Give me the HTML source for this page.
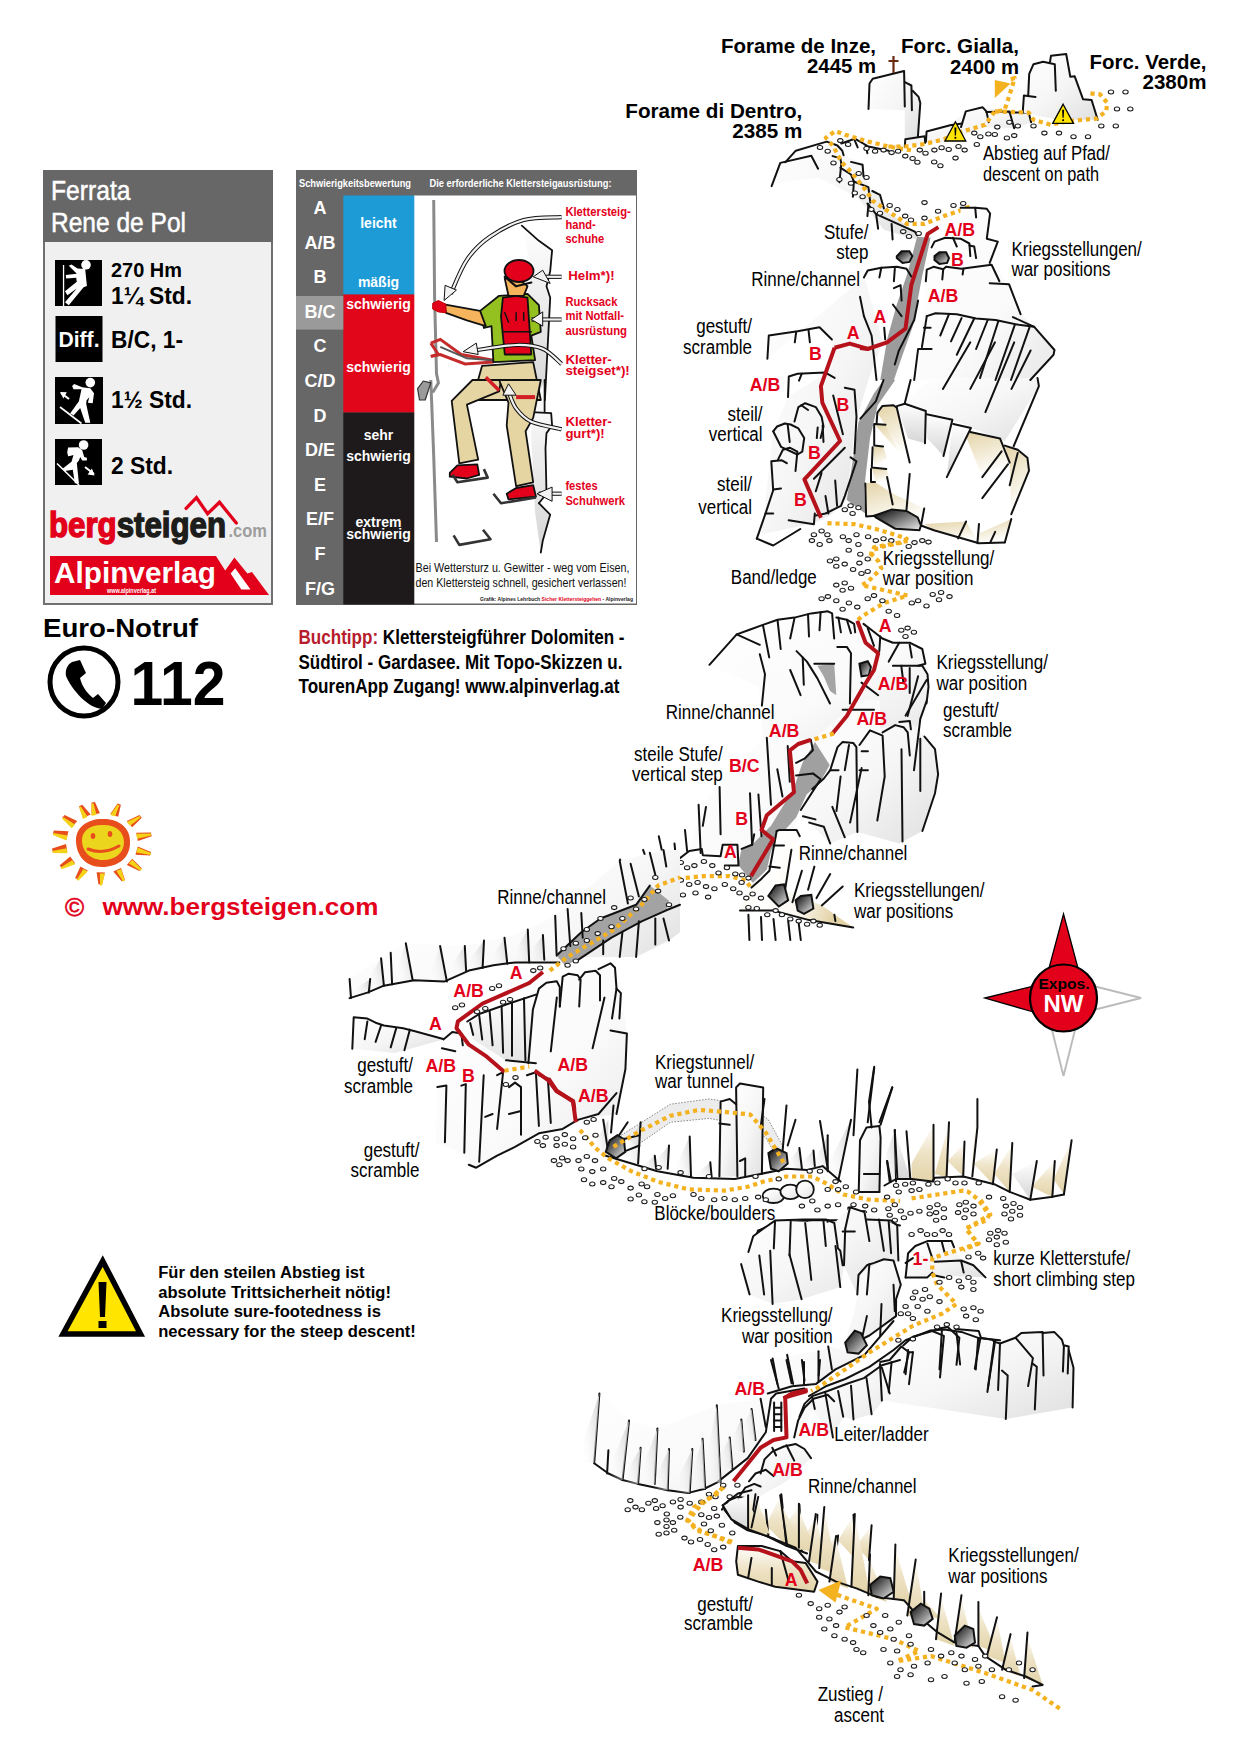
<!DOCTYPE html>
<html><head><meta charset="utf-8"><title>Ferrata Rene de Pol</title>
<style>
html,body{margin:0;padding:0;background:#fff;}
body{width:1240px;height:1750px;overflow:hidden;position:relative;font-family:"Liberation Sans", sans-serif;}
svg{position:absolute;left:0;top:0;}
svg text{font-family:"Liberation Sans", sans-serif;}
</style></head><body>
<svg width="1240" height="1750" viewBox="0 0 1240 1750">
<defs>
<linearGradient id="rg" x1="0" y1="0" x2="1" y2="1"><stop offset="0" stop-color="#fff"/><stop offset="0.5" stop-color="#f6f6f6"/><stop offset="1" stop-color="#e0e0e0"/></linearGradient>
<linearGradient id="bg" x1="0" y1="0" x2="1" y2="1"><stop offset="0" stop-color="#fff"/><stop offset="1" stop-color="#e6d9b5"/></linearGradient>
<linearGradient id="rl" x1="0" y1="0" x2="1" y2="1"><stop offset="0" stop-color="#fff"/><stop offset="0.6" stop-color="#fafafa"/><stop offset="1" stop-color="#e8e8e8"/></linearGradient>
<linearGradient id="wg" x1="1" y1="0" x2="0" y2="0.4"><stop offset="0" stop-color="#d2d2d2"/><stop offset="1" stop-color="#fff" stop-opacity="0"/></linearGradient>
<linearGradient id="bt2" x1="0" y1="0" x2="0.3" y2="1"><stop offset="0" stop-color="#e3d3a6"/><stop offset="1" stop-color="#fff"/></linearGradient>
<linearGradient id="bb" x1="0" y1="0" x2="1" y2="0.3"><stop offset="0" stop-color="#e6d8ae"/><stop offset="0.12" stop-color="#f7f1e2"/><stop offset="0.35" stop-color="#fff"/><stop offset="0.7" stop-color="#fbf8f0"/><stop offset="1" stop-color="#e3d3a6"/></linearGradient>
<linearGradient id="bt" x1="0" y1="0" x2="0" y2="1"><stop offset="0" stop-color="#fff"/><stop offset="0.5" stop-color="#eee3c6"/><stop offset="1" stop-color="#e2d3a8"/></linearGradient>
<linearGradient id="gt" x1="0" y1="0" x2="0" y2="1"><stop offset="0" stop-color="#fff"/><stop offset="1" stop-color="#d5d5d5"/></linearGradient>
<linearGradient id="dk" x1="0" y1="0" x2="1" y2="1"><stop offset="0" stop-color="#000"/><stop offset="1" stop-color="#eee"/></linearGradient>
</defs>
<rect x="44" y="171" width="228" height="433" fill="#f0f0f0" stroke="#707070" stroke-width="2"/>
<rect x="43" y="170" width="230" height="72" fill="#676767"/>
<text x="51.0" y="200.0" font-size="28.5" font-weight="normal" fill="#fff" text-anchor="start" textLength="79.5" lengthAdjust="spacingAndGlyphs" stroke="#fff" stroke-width="0.5">Ferrata</text>
<text x="51.0" y="232.0" font-size="28.5" font-weight="normal" fill="#fff" text-anchor="start" textLength="135.0" lengthAdjust="spacingAndGlyphs" stroke="#fff" stroke-width="0.5">Rene de Pol</text>
<rect x="55" y="260" width="47" height="46" fill="#000"/>
<rect x="55" y="439" width="47" height="46" fill="#000"/>
<rect x="55.5" y="316" width="47" height="46" fill="#000"/>
<rect x="55" y="377" width="48" height="47" fill="#000"/>
<g fill="#fff">
<rect x="62.9" y="265" width="1.3" height="41"/>
<circle cx="86" cy="264.8" r="4.8"/>
<path d="M68.8 265.7 L71.5 264.4 L77.5 268.4 L85.2 269.1 L86.9 285.9 L83.6 287.2 L68.8 305.3 L65.0 302.2 L76.8 288.6 L67.4 295.3 L65.0 291.2 L76.8 281.8 L76.2 277.8 L66.1 278.5 L65.8 275.1 L76.8 273.8Z"/>
<text x="79.0" y="347.0" font-size="22" font-weight="bold" fill="#fff" text-anchor="middle" textLength="41.0" lengthAdjust="spacingAndGlyphs" >Diff.</text>
<circle cx="90.3" cy="382.6" r="4.8"/>
<path d="M72.1 385.9 L74.2 384.1 L82.2 387.2 L90.3 388.2 L94.0 393.3 L92.7 403.3 L87.9 402.7 L89.2 397.3 L86.5 400.6 L86.2 404.0 L90.3 422.8 L85.2 422.8 L80.2 408.0 L73.5 415.4 L72.6 414.7 L70.1 413.4 L78.9 401.3 L81.5 389.2 L73.5 389.2Z"/>
<path d="M60.1 391.9 L66.8 392.2 L63.4 398.4Z"/>
<path d="M61 393 L69 399" stroke="#fff" stroke-width="2"/>
<path d="M60 407 L81.5 423.5" stroke="#fff" stroke-width="1.6"/>
<circle cx="83.6" cy="445" r="4.8"/>
<path d="M68.1 447.6 L78.2 447.2 L82.2 450.3 L84.2 457.0 L86.9 457.7 L86.9 460.4 L82.2 460.4 L80.2 457.0 L78.9 460.4 L76.8 463.1 L78.9 483.2 L74.8 483.2 L72.8 469.8 L64.8 471.1 L62.8 468.4 L71.5 461.7 L73.5 455.0 L70.8 455.7 L68.1 456.3 L67.2 452.3Z"/>
<path d="M87.6 474.5 L94.6 475.4 L91.9 468.4Z"/>
<path d="M85 467 L94 474" stroke="#fff" stroke-width="2"/>
<path d="M57 463.5 L79 485" stroke="#fff" stroke-width="1.6"/>
</g>
<text x="111.0" y="276.5" font-size="19.5" font-weight="bold" fill="#000" text-anchor="start" textLength="71.0" lengthAdjust="spacingAndGlyphs" >270 Hm</text>
<text x="111.0" y="304.0" font-size="23" font-weight="bold" fill="#000" text-anchor="start" textLength="81.0" lengthAdjust="spacingAndGlyphs" >1¼ Std.</text>
<text x="111.0" y="348.0" font-size="23" font-weight="bold" fill="#000" text-anchor="start" textLength="72.0" lengthAdjust="spacingAndGlyphs" >B/C, 1-</text>
<text x="111.0" y="408.0" font-size="23" font-weight="bold" fill="#000" text-anchor="start" textLength="81.0" lengthAdjust="spacingAndGlyphs" >1½ Std.</text>
<text x="111.0" y="474.0" font-size="23" font-weight="bold" fill="#000" text-anchor="start" textLength="62.0" lengthAdjust="spacingAndGlyphs" >2 Std.</text>
<path d="M186.1 508.4 L196.5 497.7 L207.6 513.8 L219.5 502.3 L236.3 523" fill="none" stroke="#e2001a" stroke-width="3.3" stroke-linecap="round"/>
<text x="49" y="537" font-size="35" font-weight="bold" stroke-width="1.4" textLength="177" lengthAdjust="spacingAndGlyphs"><tspan fill="#e2001a" stroke="#e2001a">berg</tspan><tspan fill="#1d1d1b" stroke="#1d1d1b">steigen</tspan></text>
<text x="228.5" y="537.0" font-size="19" font-weight="bold" fill="#9d9d9c" text-anchor="start" textLength="38.5" lengthAdjust="spacingAndGlyphs" >.com</text>
<path d="M50 556 L216 556 L225.2 570.5 L234.4 557.4 L247.4 573.5 L252 572 L269 595 L50 595Z" fill="#e2001a"/>
<path d="M230.6 573.5 L235.2 568.2 L250.5 589.6 L241.3 589.6Z" fill="#fff"/>
<text x="54.0" y="583.0" font-size="30" font-weight="bold" fill="#fff" text-anchor="start" textLength="162.0" lengthAdjust="spacingAndGlyphs" >Alpinverlag</text>
<text x="107.0" y="593.0" font-size="7" font-weight="bold" fill="#fff" text-anchor="start" textLength="49.0" lengthAdjust="spacingAndGlyphs" >www.alpinverlag.at</text>
<text x="43.0" y="636.5" font-size="26" font-weight="bold" fill="#000" text-anchor="start" textLength="155.0" lengthAdjust="spacingAndGlyphs" >Euro-Notruf</text>
<circle cx="84" cy="682" r="34" fill="none" stroke="#000" stroke-width="5"/>
<path d="M72 662 L80 660 L86 673 L80 678 C82 686 86 692 93 698 L98 694 L106 703 L102 709 C88 708 72 690 66 676 C65 670 67 665 72 662Z" fill="#000"/>
<text x="130.5" y="705.0" font-size="63" font-weight="bold" fill="#000" text-anchor="start" textLength="95.0" lengthAdjust="spacingAndGlyphs" >112</text>
<rect x="296" y="170" width="341" height="435" fill="#676767"/>
<rect x="414" y="195.5" width="222" height="408" fill="#fff"/>
<rect x="343.3" y="195.5" width="71" height="99" fill="#1d9bd7"/>
<rect x="343.3" y="294.5" width="71" height="118" fill="#e1061a"/>
<rect x="343.3" y="412.5" width="71" height="192" fill="#1e1a1c"/>
<rect x="296" y="296" width="47.3" height="33.6" fill="#9a9a9a"/>
<text x="299.0" y="187.3" font-size="11.5" font-weight="bold" fill="#fff" text-anchor="start" textLength="112.0" lengthAdjust="spacingAndGlyphs" >Schwierigkeitsbewertung</text>
<text x="429.5" y="186.8" font-size="11.5" font-weight="bold" fill="#fff" text-anchor="start" textLength="182.0" lengthAdjust="spacingAndGlyphs" >Die erforderliche Klettersteigausrüstung:</text>
<text x="320.0" y="214.0" font-size="18" font-weight="bold" fill="#fff" text-anchor="middle" >A</text>
<text x="320.0" y="248.6" font-size="18" font-weight="bold" fill="#fff" text-anchor="middle" >A/B</text>
<text x="320.0" y="283.2" font-size="18" font-weight="bold" fill="#fff" text-anchor="middle" >B</text>
<text x="320.0" y="317.8" font-size="18" font-weight="bold" fill="#fff" text-anchor="middle" >B/C</text>
<text x="320.0" y="352.4" font-size="18" font-weight="bold" fill="#fff" text-anchor="middle" >C</text>
<text x="320.0" y="387.0" font-size="18" font-weight="bold" fill="#fff" text-anchor="middle" >C/D</text>
<text x="320.0" y="421.6" font-size="18" font-weight="bold" fill="#fff" text-anchor="middle" >D</text>
<text x="320.0" y="456.2" font-size="18" font-weight="bold" fill="#fff" text-anchor="middle" >D/E</text>
<text x="320.0" y="490.8" font-size="18" font-weight="bold" fill="#fff" text-anchor="middle" >E</text>
<text x="320.0" y="525.4" font-size="18" font-weight="bold" fill="#fff" text-anchor="middle" >E/F</text>
<text x="320.0" y="560.0" font-size="18" font-weight="bold" fill="#fff" text-anchor="middle" >F</text>
<text x="320.0" y="594.6" font-size="18" font-weight="bold" fill="#fff" text-anchor="middle" >F/G</text>
<text x="378.5" y="227.7" font-size="14" font-weight="bold" fill="#fff" text-anchor="middle" >leicht</text>
<text x="378.5" y="287.2" font-size="14" font-weight="bold" fill="#fff" text-anchor="middle" >mäßig</text>
<text x="378.5" y="308.6" font-size="14" font-weight="bold" fill="#fff" text-anchor="middle" >schwierig</text>
<text x="378.5" y="371.5" font-size="14" font-weight="bold" fill="#fff" text-anchor="middle" >schwierig</text>
<text x="378.5" y="440.0" font-size="14" font-weight="bold" fill="#fff" text-anchor="middle" >sehr</text>
<text x="378.5" y="460.5" font-size="14" font-weight="bold" fill="#fff" text-anchor="middle" >schwierig</text>
<text x="378.5" y="526.9" font-size="14" font-weight="bold" fill="#fff" text-anchor="middle" >extrem</text>
<text x="378.5" y="538.7" font-size="14" font-weight="bold" fill="#fff" text-anchor="middle" >schwierig</text>
<path d="M521.8 225.6 L538.9 240.8 L552.1 250.3 L550.2 271.1 L546.5 286.3 L550.2 297.7 L544.9 400.0 L531.3 400.0 L527.5 297.7 L531.3 271.1Z" fill="url(#gt)" stroke="none" stroke-width="0" stroke-linejoin="round"/>
<path d="M521.8 225.6 L538.9 240.8 L552.1 250.3 L550.2 271.1 L546.5 286.3 L550.2 297.7 L544.9 400.0" fill="none" stroke="#111" stroke-width="1.8" stroke-linejoin="round" stroke-linecap="round"/>
<path d="M544.6 380.0 L544.6 411.3 L551.2 413.2 L552.1 425.5 L546.5 433.1 L545.5 448.2 L546.5 493.7 L538.9 503.2 L550.2 514.6 L542.7 541.1 L540.8 552.5 L535.1 512.7 L531.3 436.9 L531.3 412.2Z" fill="url(#gt)" stroke="none" stroke-width="0" stroke-linejoin="round"/>
<path d="M544.6 380.0 L544.6 411.3" fill="none" stroke="#111" stroke-width="1.8" stroke-linejoin="round" stroke-linecap="round"/>
<path d="M531.3 412.2 L551.2 413.2 L552.1 425.5 L546.5 433.1 L545.5 448.2 L546.5 493.7 L538.9 503.2" fill="none" stroke="#111" stroke-width="1.8" stroke-linejoin="round" stroke-linecap="round"/>
<path d="M538.9 503.2 L550.2 514.6 L542.7 541.1 L540.8 552.5" fill="none" stroke="#111" stroke-width="1.8" stroke-linejoin="round" stroke-linecap="round"/>
<path d="M433.7 200.1 L434.6 297.7 L436.5 373.5 L438.4 382.9 L432.7 392.4" fill="none" stroke="#8a8a8a" stroke-width="3"/>
<path d="M430.8 380.0 L433.7 455.8 L436.5 542.0" fill="none" stroke="#8a8a8a" stroke-width="3"/>
<path d="M417.6 388.6 L423.3 381.0 L430.8 382.9 L425.2 400.0 L419.5 400.0Z" fill="#9a9a9a" stroke="#333" stroke-width="1.2" stroke-linejoin="round"/>
<path d="M430.8 343.1 L440.3 339.4 L461.2 354.5 L493.4 360.2" fill="none" stroke="#c52b2b" stroke-width="3"/>
<path d="M430.8 356.4 L440.3 354.5 L465.0 364.0 L493.4 362.1" fill="none" stroke="#c52b2b" stroke-width="3"/>
<path d="M430.8 343.1 L438.4 354.5 L430.8 356.4" fill="none" stroke="#c52b2b" stroke-width="3"/>
<path d="M440.3 346.9 L466.9 358.3 L493.4 360.2" fill="none" stroke="#555" stroke-width="2"/>
<path d="M482.0 365.9 L533.2 362.1 L540.8 400.0 L491.5 400.0 L472.5 400.0Z" fill="#e4d5a3" stroke="#111" stroke-width="1.8" stroke-linejoin="round"/>
<path d="M451.7 400.8 L472.5 380.0 L501.0 380.0 L499.1 391.4 L466.9 404.6 L478.2 459.6 L459.3 463.4Z" fill="#e4d5a3" stroke="#111" stroke-width="1.8" stroke-linejoin="round"/>
<path d="M499.1 380.0 L540.8 380.0 L533.2 417.9 L525.6 431.2 L533.2 482.3 L516.1 486.1 L506.7 425.5 L508.5 402.7Z" fill="#e4d5a3" stroke="#111" stroke-width="1.8" stroke-linejoin="round"/>
<path d="M516.1 397.1 L535.1 397.1" stroke="#d21e26" stroke-width="4"/>
<path d="M485.8 377.3 L499.1 390.5" stroke="#d21e26" stroke-width="3.5"/>
<path d="M480.1 310.9 L499.1 295.8 L527.5 293.9 L538.9 305.2 L540.8 331.8 L531.3 335.6 L535.1 360.2 L493.4 362.1 L491.5 326.1 L483.9 328.0Z" fill="#94c11f" stroke="#111" stroke-width="1.8" stroke-linejoin="round"/>
<path d="M444.1 304.3 L480.1 310.9 L485.8 326.1 L466.9 320.4 L446.0 312.8Z" fill="#f6b55c" stroke="#111" stroke-width="1.8" stroke-linejoin="round"/>
<path d="M432.7 303.3 L438.4 300.5 L446.0 304.3 L446.0 312.8 L438.4 311.9 L432.7 309.0Z" fill="#e3001b" stroke="#b00" stroke-width="1" stroke-linejoin="round"/>
<path d="M502.9 297.7 L516.1 295.8 L527.5 297.7 L531.3 354.5 L504.8 354.5 L501.0 316.6Z" fill="#e3001b" stroke="#111" stroke-width="1.8" stroke-linejoin="round"/>
<path d="M502.9 331.8 L531.3 331.8" fill="none" stroke="#111" stroke-width="1.5" stroke-linejoin="round" stroke-linecap="round"/>
<path d="M504.8 312.8 L508.5 322.3" fill="none" stroke="#111" stroke-width="1.5" stroke-linejoin="round" stroke-linecap="round"/>
<path d="M516.1 312.8 L516.1 320.4" fill="none" stroke="#111" stroke-width="1.5" stroke-linejoin="round" stroke-linecap="round"/>
<path d="M523.7 312.8 L523.7 320.4" fill="none" stroke="#111" stroke-width="1.5" stroke-linejoin="round" stroke-linecap="round"/>
<path d="M504.8 278.7 L516.1 276.8 L527.5 286.3 L523.7 295.8 L508.5 295.8Z" fill="#f6b55c" stroke="#111" stroke-width="1.8" stroke-linejoin="round"/>
<ellipse cx="519.0" cy="271.0" rx="14.5" ry="11" fill="#e3001b" stroke="#111" stroke-width="1.8"/>
<path d="M504.8 276.8 L516.1 286.3 L531.3 282.5" fill="none" stroke="#111" stroke-width="2.2" stroke-linejoin="round" stroke-linecap="round"/>
<path d="M449.8 472.9 L457.4 465.3 L477.3 464.3 L479.2 474.8 L466.9 478.5 L449.8 476.7Z" fill="#e3001b" stroke="#111" stroke-width="1.8" stroke-linejoin="round"/>
<path d="M506.7 493.7 L516.1 488.0 L533.2 485.2 L536.0 496.6 L508.5 499.4Z" fill="#e3001b" stroke="#111" stroke-width="1.8" stroke-linejoin="round"/>
<path d="M452.6 474.8 L457.4 482.3 L487.7 477.6 L483.9 469.1" fill="none" stroke="#333" stroke-width="2.6" stroke-linejoin="round"/>
<path d="M493.4 493.7 L501.0 503.2 L536.0 497.5" fill="none" stroke="#333" stroke-width="2.6" stroke-linejoin="round"/>
<path d="M453.6 535.4 L459.3 544.9 L490.5 539.2 L483.0 529.7" fill="none" stroke="#333" stroke-width="2.6" stroke-linejoin="round"/>
<path d="M561.6 217.1 C555.3 217.6 535.7 216.6 523.7 220.0 C511.7 223.3 499.1 230.4 489.6 237.0 C480.1 243.6 473.3 250.3 466.9 259.8 C460.4 269.2 453.4 288.2 450.7 293.9" fill="none" stroke="#111" stroke-width="4.2" stroke-linecap="butt"/>
<path d="M561.6 217.1 C555.3 217.6 535.7 216.6 523.7 220.0 C511.7 223.3 499.1 230.4 489.6 237.0 C480.1 243.6 473.3 250.3 466.9 259.8 C460.4 269.2 453.4 288.2 450.7 293.9" fill="none" stroke="#f2f2f2" stroke-width="2.2" stroke-linecap="butt"/>
<path d="M445.1 285.3 L456.4 290.1 L444.1 300.5Z" fill="#f2f2f2" stroke="#111" stroke-width="1"/>
<path d="M561.6 276.8 L538.9 276.8" fill="none" stroke="#111" stroke-width="4.2" stroke-linecap="butt"/>
<path d="M561.6 276.8 L538.9 276.8" fill="none" stroke="#f2f2f2" stroke-width="2.2" stroke-linecap="butt"/>
<path d="M542.7 270.2 L533.2 276.8 L550.2 283.4Z" fill="#f2f2f2" stroke="#111" stroke-width="1"/>
<path d="M561.6 319.5 L531.3 319.5" fill="none" stroke="#111" stroke-width="4.2" stroke-linecap="butt"/>
<path d="M561.6 319.5 L531.3 319.5" fill="none" stroke="#f2f2f2" stroke-width="2.2" stroke-linecap="butt"/>
<path d="M542.7 311.9 L531.3 319.5 L542.7 326.1Z" fill="#f2f2f2" stroke="#111" stroke-width="1"/>
<path d="M561.6 364.0 C558.5 361.5 550.2 352.0 542.7 348.8 C535.1 345.7 527.8 344.7 516.1 345.0 C504.4 345.4 479.8 349.8 472.5 350.7" fill="none" stroke="#111" stroke-width="4.2" stroke-linecap="butt"/>
<path d="M561.6 364.0 C558.5 361.5 550.2 352.0 542.7 348.8 C535.1 345.7 527.8 344.7 516.1 345.0 C504.4 345.4 479.8 349.8 472.5 350.7" fill="none" stroke="#f2f2f2" stroke-width="2.2" stroke-linecap="butt"/>
<path d="M476.3 343.1 L463.1 351.7 L478.2 354.5Z" fill="#f2f2f2" stroke="#111" stroke-width="1"/>
<path d="M561.6 429.3 C556.6 428.0 538.9 425.2 531.3 421.7 C523.7 418.2 519.9 413.5 516.1 408.4 C512.3 403.4 509.8 394.2 508.5 391.4" fill="none" stroke="#111" stroke-width="4.2" stroke-linecap="butt"/>
<path d="M561.6 429.3 C556.6 428.0 538.9 425.2 531.3 421.7 C523.7 418.2 519.9 413.5 516.1 408.4 C512.3 403.4 509.8 394.2 508.5 391.4" fill="none" stroke="#f2f2f2" stroke-width="2.2" stroke-linecap="butt"/>
<path d="M502.9 395.2 L508.5 383.8 L516.1 395.2Z" fill="#f2f2f2" stroke="#111" stroke-width="1"/>
<path d="M561.6 493.7 L538.9 493.7" fill="none" stroke="#111" stroke-width="4.2" stroke-linecap="butt"/>
<path d="M561.6 493.7 L538.9 493.7" fill="none" stroke="#f2f2f2" stroke-width="2.2" stroke-linecap="butt"/>
<path d="M552.1 487.1 L537.0 493.7 L552.1 501.3Z" fill="#f2f2f2" stroke="#111" stroke-width="1"/>
<text x="565.4" y="216.2" font-size="12.8" font-weight="bold" fill="#e3001b" textLength="65.4" lengthAdjust="spacingAndGlyphs">Klettersteig-</text>
<text x="565.4" y="229.4" font-size="12.8" font-weight="bold" fill="#e3001b" textLength="30.3" lengthAdjust="spacingAndGlyphs">hand-</text>
<text x="565.4" y="242.7" font-size="12.8" font-weight="bold" fill="#e3001b" textLength="38.8" lengthAdjust="spacingAndGlyphs">schuhe</text>
<text x="565.4" y="306.2" font-size="12.8" font-weight="bold" fill="#e3001b" textLength="52.1" lengthAdjust="spacingAndGlyphs">Rucksack</text>
<text x="565.4" y="320.4" font-size="12.8" font-weight="bold" fill="#e3001b" textLength="58.7" lengthAdjust="spacingAndGlyphs">mit Notfall-</text>
<text x="565.4" y="334.6" font-size="12.8" font-weight="bold" fill="#e3001b" textLength="61.6" lengthAdjust="spacingAndGlyphs">ausrüstung</text>
<text x="565.4" y="364.0" font-size="12.8" font-weight="bold" fill="#e3001b" textLength="46.4" lengthAdjust="spacingAndGlyphs">Kletter-</text>
<text x="565.4" y="375.4" font-size="12.8" font-weight="bold" fill="#e3001b" textLength="64.4" lengthAdjust="spacingAndGlyphs">steigset*)!</text>
<text x="565.4" y="425.5" font-size="12.8" font-weight="bold" fill="#e3001b" textLength="46.4" lengthAdjust="spacingAndGlyphs">Kletter-</text>
<text x="565.4" y="437.8" font-size="12.8" font-weight="bold" fill="#e3001b" textLength="39.2" lengthAdjust="spacingAndGlyphs">gurt*)!</text>
<text x="565.4" y="490.3" font-size="12.8" font-weight="bold" fill="#e3001b" textLength="32.2" lengthAdjust="spacingAndGlyphs">festes</text>
<text x="565.4" y="505.1" font-size="12.8" font-weight="bold" fill="#e3001b" textLength="59.7" lengthAdjust="spacingAndGlyphs">Schuhwerk</text>
<text x="568.2" y="279.7" font-size="12.8" font-weight="bold" fill="#e3001b" textLength="46.4" lengthAdjust="spacingAndGlyphs">Helm*)!</text>
<text x="415.5" y="572.3" font-size="13" font-weight="normal" fill="#111" text-anchor="start" textLength="214.0" lengthAdjust="spacingAndGlyphs" >Bei Wettersturz u. Gewitter - weg vom Eisen,</text>
<text x="415.5" y="586.6" font-size="13" font-weight="normal" fill="#111" text-anchor="start" textLength="211.0" lengthAdjust="spacingAndGlyphs" >den Klettersteig schnell, gesichert verlassen!</text>
<text x="480" y="601" font-size="5.5" font-weight="bold" fill="#222" textLength="153" lengthAdjust="spacingAndGlyphs">Grafik: Alpines Lehrbuch <tspan fill="#e2001a">Sicher Klettersteiggehen</tspan> - Alpinverlag</text>
<path d="M868.5 109.0 L869.5 83.5 L904.1 71.0 L911.9 84.8 L919.8 100.5 L917.9 136.8 L904.8 139.2 L904.8 110.2Z" fill="url(#rg)"/>
<path d="M868.5 109.0 L869.5 83.5 L872.7 78.7 L904.1 71.0 L904.8 106.5" fill="none" stroke="#111" stroke-width="2.0" stroke-linejoin="round" stroke-linecap="round"/>
<path d="M905.3 82.3 L911.4 85.5 L911.9 110.2" fill="none" stroke="#111" stroke-width="2.0" stroke-linejoin="round" stroke-linecap="round"/>
<path d="M912.6 90.8 L918.6 96.9 L920.3 102.9 L917.9 136.8" fill="none" stroke="#111" stroke-width="2.0" stroke-linejoin="round" stroke-linecap="round"/>
<path d="M893.5 56 V73 M888.5 61 H898.5" stroke="#6b2a12" stroke-width="2.2" fill="none"/>
<path d="M904.8 146.5 L905.3 139.2 L924.7 136.3 L947.7 125.9 L965.8 111.4 L982.7 107.3 L1009.4 111.4 L1028.7 112.6 L1031.1 122.3 L1014.2 128.3 L985.2 127.1 L948.9 141.6 L924.7 144.0Z" fill="url(#rg)"/>
<path d="M904.8 146.5 L905.3 139.2 L924.7 136.3 L925.2 142.8" fill="none" stroke="#111" stroke-width="2.0" stroke-linejoin="round" stroke-linecap="round"/>
<path d="M925.9 141.6 L926.6 131.5 L950.1 125.2 L962.2 123.5" fill="none" stroke="#111" stroke-width="2.0" stroke-linejoin="round" stroke-linecap="round"/>
<path d="M961.0 127.1 L965.8 111.4 L982.7 107.3 L986.4 111.4 L988.8 122.3" fill="none" stroke="#111" stroke-width="2.0" stroke-linejoin="round" stroke-linecap="round"/>
<path d="M986.4 112.1 L1009.4 111.4 L1014.2 128.3" fill="none" stroke="#111" stroke-width="2.0" stroke-linejoin="round" stroke-linecap="round"/>
<path d="M1009.4 112.6 L1028.7 112.6 L1031.1 122.3" fill="none" stroke="#111" stroke-width="2.0" stroke-linejoin="round" stroke-linecap="round"/>
<path d="M1022.7 112.6 L1023.9 95.6 L1028.7 73.9 L1033.5 64.2 L1050.0 61.8 L1051.0 55.7 L1066.2 54.0 L1071.0 77.5 L1074.7 76.3 L1083.1 99.3 L1091.6 100.5 L1097.7 119.8 L1057.7 119.8Z" fill="url(#rg)"/>
<path d="M1022.7 112.6 L1023.9 95.6 L1035.5 96.9" fill="none" stroke="#111" stroke-width="2.0" stroke-linejoin="round" stroke-linecap="round"/>
<path d="M1028.2 95.6 L1029.2 73.9 L1033.5 64.2 L1043.2 61.8 L1054.8 64.2 L1055.8 90.8" fill="none" stroke="#111" stroke-width="2.0" stroke-linejoin="round" stroke-linecap="round"/>
<path d="M1050.0 61.8 L1051.0 55.7 L1066.2 54.0 L1070.3 76.8 L1074.7 76.3 L1083.1 99.3 L1091.6 100.0 L1097.7 119.8" fill="none" stroke="#111" stroke-width="2.0" stroke-linejoin="round" stroke-linecap="round"/>
<path d="M771.6 186.1 L780.3 162.9 L795.8 150.7 L826.8 141.6 L841.3 146.5 L845.2 156.1 L862.6 163.9 L868.4 187.1 L880.0 194.8 L885.8 210.3 L914.8 231.6 L916.8 239.4 L883.9 229.7 L856.8 196.8 L818.1 177.4 L789.0 181.3Z" fill="url(#rg)"/>
<path d="M771.6 186.1 L780.3 162.9 L811.3 155.7 L818.1 168.7" fill="none" stroke="#111" stroke-width="2.0" stroke-linejoin="round" stroke-linecap="round"/>
<path d="M785.2 162.3 L795.8 150.7 L818.1 144.1 L826.8 141.6 L837.4 145.5 L842.3 150.7 L843.6 155.2" fill="none" stroke="#111" stroke-width="2.0" stroke-linejoin="round" stroke-linecap="round"/>
<path d="M832.6 156.1 L840.3 158.1 L841.3 163.9 L839.4 182.3" fill="none" stroke="#111" stroke-width="2.0" stroke-linejoin="round" stroke-linecap="round"/>
<path d="M840.3 167.7 L851.0 174.5 L853.9 181.3 L852.9 196.8" fill="none" stroke="#111" stroke-width="2.0" stroke-linejoin="round" stroke-linecap="round"/>
<path d="M841.3 143.5 L854.8 138.7 L868.4 146.5 L888.7 150.7" fill="none" stroke="#111" stroke-width="2.0" stroke-linejoin="round" stroke-linecap="round"/>
<path d="M854.8 140.6 L857.7 147.4" fill="none" stroke="#111" stroke-width="2.0" stroke-linejoin="round" stroke-linecap="round"/>
<path d="M865.5 144.9 L867.4 153.2" fill="none" stroke="#111" stroke-width="2.0" stroke-linejoin="round" stroke-linecap="round"/>
<path d="M851.0 161.9 L862.6 164.8 L863.5 176.5" fill="none" stroke="#111" stroke-width="2.0" stroke-linejoin="round" stroke-linecap="round"/>
<path d="M852.9 181.3 L868.4 187.1 L870.3 202.6" fill="none" stroke="#111" stroke-width="2.0" stroke-linejoin="round" stroke-linecap="round"/>
<path d="M867.4 203.5 L876.1 214.2 L914.8 231.6 L917.2 235.5" fill="none" stroke="#111" stroke-width="2.0" stroke-linejoin="round" stroke-linecap="round"/>
<path d="M872.3 191.0 L880.0 194.8 L883.9 208.4" fill="none" stroke="#111" stroke-width="2.0" stroke-linejoin="round" stroke-linecap="round"/>
<path d="M868.4 204.5 L867.4 216.1" fill="none" stroke="#111" stroke-width="2.0" stroke-linejoin="round" stroke-linecap="round"/>
<path d="M876.1 214.2 L878.1 228.7" fill="none" stroke="#111" stroke-width="2.0" stroke-linejoin="round" stroke-linecap="round"/>
<path d="M891.6 223.9 L892.6 239.4" fill="none" stroke="#111" stroke-width="2.0" stroke-linejoin="round" stroke-linecap="round"/>
<path d="M1010.8 79.2 L1014.7 78.0 L1009.4 95.6 L1004.5 110.2 L994.8 111.4 L985.2 124.7 L961.0 131.9 L944.0 139.2 L924.7 144.0 L905.3 146.5 L888.4 146.5" fill="none" stroke="#f4b120" stroke-width="4.2" stroke-dasharray="4.2 3.8" stroke-linejoin="round"/>
<path d="M911.0 150.3 L889.7 146.8 L868.4 141.6 L845.2 134.8 L835.5 131.0 L825.8 137.7 L833.5 146.5 L841.3 161.9 L849.0 169.7 L866.5 191.0 L872.3 200.6 L883.9 208.4 L907.1 223.9 L924.5 223.9 L943.9 216.1 L955.5 212.3 L972.9 205.5" fill="none" stroke="#f4b120" stroke-width="4.2" stroke-dasharray="4.2 3.8" stroke-linejoin="round"/>
<path d="M994.8 111.4 L1028.7 112.6 L1033.5 119.8 L1050.5 124.7 L1069.8 121.0 L1096.5 118.6 L1106.1 111.4 L1107.3 102.9 L1100.1 94.4 L1089.2 93.2" fill="none" stroke="#f4b120" stroke-width="4.2" stroke-dasharray="4.2 3.8" stroke-linejoin="round"/>
<path d="M994.8 79.9 L1010.6 83.5 L994.8 98.1Z" fill="#f4b120"/>
<g transform="translate(955.4 133.1)"><path d="M0 -11.3 L10.4 7.9 L-10.4 7.9Z" fill="#ffe500" stroke="#000" stroke-width="1.3" stroke-linejoin="miter"/><path d="M-1 -5.7 H1 L0.6 2.3 H-0.6Z" fill="#000"/><rect x="-0.9" y="3.8" width="1.8" height="1.8" fill="#000"/></g>
<g transform="translate(1063.1 115.5)"><path d="M0 -11.3 L10.4 7.9 L-10.4 7.9Z" fill="#ffe500" stroke="#000" stroke-width="1.3" stroke-linejoin="miter"/><path d="M-1 -5.7 H1 L0.6 2.3 H-0.6Z" fill="#000"/><rect x="-0.9" y="3.8" width="1.8" height="1.8" fill="#000"/></g>
<ellipse cx="912.6" cy="158.5" rx="2.7" ry="2.0" fill="#fff" stroke="#1a1a1a" stroke-width="1.05"/>
<ellipse cx="919.8" cy="150.1" rx="2.7" ry="2.0" fill="#fff" stroke="#1a1a1a" stroke-width="1.05"/>
<ellipse cx="934.4" cy="150.1" rx="2.7" ry="2.0" fill="#fff" stroke="#1a1a1a" stroke-width="1.05"/>
<ellipse cx="941.6" cy="147.7" rx="2.7" ry="2.0" fill="#fff" stroke="#1a1a1a" stroke-width="1.05"/>
<ellipse cx="958.5" cy="146.5" rx="2.7" ry="2.0" fill="#fff" stroke="#1a1a1a" stroke-width="1.05"/>
<ellipse cx="964.6" cy="150.1" rx="2.7" ry="2.0" fill="#fff" stroke="#1a1a1a" stroke-width="1.05"/>
<ellipse cx="974.3" cy="133.1" rx="2.7" ry="2.0" fill="#fff" stroke="#1a1a1a" stroke-width="1.05"/>
<ellipse cx="980.3" cy="136.8" rx="2.7" ry="2.0" fill="#fff" stroke="#1a1a1a" stroke-width="1.05"/>
<ellipse cx="994.8" cy="134.4" rx="2.7" ry="2.0" fill="#fff" stroke="#1a1a1a" stroke-width="1.05"/>
<ellipse cx="997.3" cy="127.1" rx="2.7" ry="2.0" fill="#fff" stroke="#1a1a1a" stroke-width="1.05"/>
<ellipse cx="1006.9" cy="138.0" rx="2.7" ry="2.0" fill="#fff" stroke="#1a1a1a" stroke-width="1.05"/>
<ellipse cx="1014.2" cy="135.6" rx="2.7" ry="2.0" fill="#fff" stroke="#1a1a1a" stroke-width="1.05"/>
<ellipse cx="1009.4" cy="122.3" rx="2.7" ry="2.0" fill="#fff" stroke="#1a1a1a" stroke-width="1.05"/>
<ellipse cx="1017.8" cy="125.9" rx="2.7" ry="2.0" fill="#fff" stroke="#1a1a1a" stroke-width="1.05"/>
<ellipse cx="1033.5" cy="125.9" rx="2.7" ry="2.0" fill="#fff" stroke="#1a1a1a" stroke-width="1.05"/>
<ellipse cx="1044.4" cy="133.1" rx="2.7" ry="2.0" fill="#fff" stroke="#1a1a1a" stroke-width="1.05"/>
<ellipse cx="1059.0" cy="133.1" rx="2.7" ry="2.0" fill="#fff" stroke="#1a1a1a" stroke-width="1.05"/>
<ellipse cx="1073.5" cy="136.8" rx="2.7" ry="2.0" fill="#fff" stroke="#1a1a1a" stroke-width="1.05"/>
<ellipse cx="1088.0" cy="136.8" rx="2.7" ry="2.0" fill="#fff" stroke="#1a1a1a" stroke-width="1.05"/>
<ellipse cx="1101.3" cy="125.9" rx="2.7" ry="2.0" fill="#fff" stroke="#1a1a1a" stroke-width="1.05"/>
<ellipse cx="1115.8" cy="125.9" rx="2.7" ry="2.0" fill="#fff" stroke="#1a1a1a" stroke-width="1.05"/>
<ellipse cx="1111.0" cy="92.0" rx="2.7" ry="2.0" fill="#fff" stroke="#1a1a1a" stroke-width="1.05"/>
<ellipse cx="1125.5" cy="92.0" rx="2.7" ry="2.0" fill="#fff" stroke="#1a1a1a" stroke-width="1.05"/>
<ellipse cx="1117.0" cy="109.0" rx="2.7" ry="2.0" fill="#fff" stroke="#1a1a1a" stroke-width="1.05"/>
<ellipse cx="1130.3" cy="109.0" rx="2.7" ry="2.0" fill="#fff" stroke="#1a1a1a" stroke-width="1.05"/>
<ellipse cx="917.4" cy="162.2" rx="2.7" ry="2.0" fill="#fff" stroke="#1a1a1a" stroke-width="1.05"/>
<ellipse cx="940.4" cy="165.8" rx="2.7" ry="2.0" fill="#fff" stroke="#1a1a1a" stroke-width="1.05"/>
<ellipse cx="898.1" cy="151.3" rx="2.7" ry="2.0" fill="#fff" stroke="#1a1a1a" stroke-width="1.05"/>
<ellipse cx="883.5" cy="150.1" rx="2.7" ry="2.0" fill="#fff" stroke="#1a1a1a" stroke-width="1.05"/>
<ellipse cx="875.1" cy="151.3" rx="2.7" ry="2.0" fill="#fff" stroke="#1a1a1a" stroke-width="1.05"/>
<ellipse cx="905.3" cy="156.1" rx="2.7" ry="2.0" fill="#fff" stroke="#1a1a1a" stroke-width="1.05"/>
<ellipse cx="820.0" cy="147.4" rx="2.7" ry="2.0" fill="#fff" stroke="#1a1a1a" stroke-width="1.05"/>
<ellipse cx="827.7" cy="151.3" rx="2.7" ry="2.0" fill="#fff" stroke="#1a1a1a" stroke-width="1.05"/>
<ellipse cx="833.5" cy="162.9" rx="2.7" ry="2.0" fill="#fff" stroke="#1a1a1a" stroke-width="1.05"/>
<ellipse cx="840.3" cy="140.6" rx="2.7" ry="2.0" fill="#fff" stroke="#1a1a1a" stroke-width="1.05"/>
<ellipse cx="848.1" cy="144.5" rx="2.7" ry="2.0" fill="#fff" stroke="#1a1a1a" stroke-width="1.05"/>
<ellipse cx="866.5" cy="148.4" rx="2.7" ry="2.0" fill="#fff" stroke="#1a1a1a" stroke-width="1.05"/>
<ellipse cx="891.6" cy="152.6" rx="2.7" ry="2.0" fill="#fff" stroke="#1a1a1a" stroke-width="1.05"/>
<ellipse cx="925.5" cy="153.2" rx="2.7" ry="2.0" fill="#fff" stroke="#1a1a1a" stroke-width="1.05"/>
<ellipse cx="948.7" cy="149.4" rx="2.7" ry="2.0" fill="#fff" stroke="#1a1a1a" stroke-width="1.05"/>
<ellipse cx="988.4" cy="133.9" rx="2.7" ry="2.0" fill="#fff" stroke="#1a1a1a" stroke-width="1.05"/>
<ellipse cx="976.8" cy="144.5" rx="2.7" ry="2.0" fill="#fff" stroke="#1a1a1a" stroke-width="1.05"/>
<ellipse cx="955.5" cy="158.1" rx="2.7" ry="2.0" fill="#fff" stroke="#1a1a1a" stroke-width="1.05"/>
<ellipse cx="934.2" cy="161.9" rx="2.7" ry="2.0" fill="#fff" stroke="#1a1a1a" stroke-width="1.05"/>
<ellipse cx="839.4" cy="179.4" rx="2.7" ry="2.0" fill="#fff" stroke="#1a1a1a" stroke-width="1.05"/>
<ellipse cx="851.0" cy="183.2" rx="2.7" ry="2.0" fill="#fff" stroke="#1a1a1a" stroke-width="1.05"/>
<ellipse cx="858.7" cy="173.5" rx="2.7" ry="2.0" fill="#fff" stroke="#1a1a1a" stroke-width="1.05"/>
<ellipse cx="866.5" cy="177.4" rx="2.7" ry="2.0" fill="#fff" stroke="#1a1a1a" stroke-width="1.05"/>
<ellipse cx="854.8" cy="192.9" rx="2.7" ry="2.0" fill="#fff" stroke="#1a1a1a" stroke-width="1.05"/>
<ellipse cx="862.6" cy="196.8" rx="2.7" ry="2.0" fill="#fff" stroke="#1a1a1a" stroke-width="1.05"/>
<ellipse cx="871.3" cy="209.4" rx="2.7" ry="2.0" fill="#fff" stroke="#1a1a1a" stroke-width="1.05"/>
<ellipse cx="880.0" cy="213.2" rx="2.7" ry="2.0" fill="#fff" stroke="#1a1a1a" stroke-width="1.05"/>
<ellipse cx="889.7" cy="205.5" rx="2.7" ry="2.0" fill="#fff" stroke="#1a1a1a" stroke-width="1.05"/>
<ellipse cx="897.4" cy="209.4" rx="2.7" ry="2.0" fill="#fff" stroke="#1a1a1a" stroke-width="1.05"/>
<ellipse cx="905.2" cy="216.1" rx="2.7" ry="2.0" fill="#fff" stroke="#1a1a1a" stroke-width="1.05"/>
<ellipse cx="911.0" cy="220.0" rx="2.7" ry="2.0" fill="#fff" stroke="#1a1a1a" stroke-width="1.05"/>
<ellipse cx="903.2" cy="231.6" rx="2.7" ry="2.0" fill="#fff" stroke="#1a1a1a" stroke-width="1.05"/>
<ellipse cx="909.0" cy="236.5" rx="2.7" ry="2.0" fill="#fff" stroke="#1a1a1a" stroke-width="1.05"/>
<ellipse cx="918.7" cy="233.5" rx="2.7" ry="2.0" fill="#fff" stroke="#1a1a1a" stroke-width="1.05"/>
<ellipse cx="924.5" cy="218.1" rx="2.7" ry="2.0" fill="#fff" stroke="#1a1a1a" stroke-width="1.05"/>
<ellipse cx="938.1" cy="211.3" rx="2.7" ry="2.0" fill="#fff" stroke="#1a1a1a" stroke-width="1.05"/>
<ellipse cx="953.5" cy="205.5" rx="2.7" ry="2.0" fill="#fff" stroke="#1a1a1a" stroke-width="1.05"/>
<ellipse cx="963.2" cy="203.5" rx="2.7" ry="2.0" fill="#fff" stroke="#1a1a1a" stroke-width="1.05"/>
<ellipse cx="924.5" cy="202.6" rx="2.7" ry="2.0" fill="#fff" stroke="#1a1a1a" stroke-width="1.05"/>
<text x="876.0" y="52.8" font-size="19.4" font-weight="bold" fill="#000" text-anchor="end" textLength="155.0" lengthAdjust="spacingAndGlyphs">Forame de Inze,</text>
<text x="876.0" y="73.4" font-size="19.4" font-weight="bold" fill="#000" text-anchor="end" textLength="69.0" lengthAdjust="spacingAndGlyphs">2445 m</text>
<text x="1019.0" y="53.2" font-size="19.4" font-weight="bold" fill="#000" text-anchor="end" textLength="118.0" lengthAdjust="spacingAndGlyphs">Forc. Gialla,</text>
<text x="1019.0" y="73.8" font-size="19.4" font-weight="bold" fill="#000" text-anchor="end" textLength="69.0" lengthAdjust="spacingAndGlyphs">2400 m</text>
<text x="1206.5" y="68.6" font-size="19.4" font-weight="bold" fill="#000" text-anchor="end" textLength="117.0" lengthAdjust="spacingAndGlyphs">Forc. Verde,</text>
<text x="1206.5" y="88.8" font-size="19.4" font-weight="bold" fill="#000" text-anchor="end" textLength="64.0" lengthAdjust="spacingAndGlyphs">2380m</text>
<text x="802.3" y="117.5" font-size="19.4" font-weight="bold" fill="#000" text-anchor="end" textLength="177.0" lengthAdjust="spacingAndGlyphs">Forame di Dentro,</text>
<text x="802.3" y="138.0" font-size="19.4" font-weight="bold" fill="#000" text-anchor="end" textLength="70.0" lengthAdjust="spacingAndGlyphs">2385 m</text>
<text x="983.0" y="160.0" font-size="20" fill="#000" text-anchor="start" textLength="127.0" lengthAdjust="spacingAndGlyphs">Abstieg auf Pfad/</text>
<text x="983.0" y="180.6" font-size="20" fill="#000" text-anchor="start" textLength="116.0" lengthAdjust="spacingAndGlyphs">descent on path</text>
<path d="M972.3 207.7 L986.8 208.7 L990.1 213.5 L986.8 238.7 L997.8 241.6 L989.7 262.9 L1009.0 284.2 L1020.6 314.2 L1034.2 326.8 L1054.5 350.0 L1030.3 380.0 L918.1 380.0 L925.8 281.3 L926.8 269.7 L933.5 266.8 L931.6 247.4 L934.5 241.6 L945.2 237.7 L960.6 238.7 L960.6 207.7Z" fill="url(#rl)"/>
<path d="M931.9 377.9 L1037.5 377.9 L1038.9 386.1 L1003.2 443.7 L964.8 424.5 L901.8 405.3Z" fill="url(#rg)"/>
<path d="M767.4 358.7 L768.8 335.4 L797.6 331.3 L819.5 327.2 L831.9 339.5 L834.6 350.5 L822.3 375.2 L788.0 397.1 L772.9 432.7 L761.9 534.2 L814.0 523.2 L830.5 515.0 L846.9 498.5 L855.2 424.5 L868.9 377.9 L882.6 342.3 L868.9 292.9 L864.8 276.5Z" fill="url(#rg)"/>
<path d="M917.1 236.8 L930.6 237.7 L921.9 277.4 L916.1 308.4 L912.3 327.7 L902.6 354.8 L893.9 380.0 L880.3 380.0 L887.1 339.4 L896.8 304.5 L907.4 273.5Z" fill="#9c9c9c"/>
<path d="M883.5 380.0 L895.2 380.0 L877.7 405.2 L870.0 438.1 L864.2 488.4 L865.2 513.5 L846.8 500.0 L852.6 461.3 L858.4 422.6 L873.9 393.5Z" fill="#9c9c9c"/>
<path d="M931.6 247.4 L934.5 241.6 L945.2 237.7 L960.6 238.7 L969.4 243.5 L970.3 256.1" fill="none" stroke="#111" stroke-width="2.0" stroke-linejoin="round" stroke-linecap="round"/>
<path d="M969.4 245.5 L974.2 246.5 L976.1 258.1" fill="none" stroke="#111" stroke-width="2.0" stroke-linejoin="round" stroke-linecap="round"/>
<path d="M952.9 237.7 L956.8 246.5" fill="none" stroke="#111" stroke-width="2.0" stroke-linejoin="round" stroke-linecap="round"/>
<path d="M960.6 207.7 L975.2 207.7 L986.8 208.7 L990.1 213.5 L986.8 238.7 L997.8 241.6 L989.7 262.9" fill="none" stroke="#111" stroke-width="2.0" stroke-linejoin="round" stroke-linecap="round"/>
<path d="M975.2 207.7 L976.1 217.4" fill="none" stroke="#111" stroke-width="2.0" stroke-linejoin="round" stroke-linecap="round"/>
<path d="M925.8 281.3 L926.8 269.7 L933.5 266.8 L943.2 269.3 L946.1 266.8" fill="none" stroke="#111" stroke-width="2.0" stroke-linejoin="round" stroke-linecap="round"/>
<path d="M943.2 269.7 L942.3 279.4" fill="none" stroke="#111" stroke-width="2.0" stroke-linejoin="round" stroke-linecap="round"/>
<path d="M963.5 268.7 L962.6 274.5" fill="none" stroke="#111" stroke-width="2.0" stroke-linejoin="round" stroke-linecap="round"/>
<path d="M946.1 266.8 L961.6 268.7 L991.6 264.8 L999.4 281.3" fill="none" stroke="#111" stroke-width="2.0" stroke-linejoin="round" stroke-linecap="round"/>
<path d="M989.7 283.2 L1009.0 284.2 L1020.6 314.2" fill="none" stroke="#111" stroke-width="2.0" stroke-linejoin="round" stroke-linecap="round"/>
<path d="M1012.9 317.1 L1034.2 326.8 L1054.5 350.0 L1053.5 354.8 L1030.3 380.0" fill="none" stroke="#111" stroke-width="2.0" stroke-linejoin="round" stroke-linecap="round"/>
<path d="M926.8 316.1 L935.5 313.2 L956.8 314.2 L976.1 318.5 L995.5 320.0 L1018.7 324.8 L1034.2 326.8" fill="none" stroke="#111" stroke-width="2.0" stroke-linejoin="round" stroke-linecap="round"/>
<path d="M926.8 316.1 L921.9 347.1" fill="none" stroke="#111" stroke-width="2.0" stroke-linejoin="round" stroke-linecap="round"/>
<path d="M931.6 349.0 L918.1 349.0 L914.2 380.0" fill="none" stroke="#111" stroke-width="2.0" stroke-linejoin="round" stroke-linecap="round"/>
<path d="M949.0 314.2 L940.3 335.5" fill="none" stroke="#111" stroke-width="2.0" stroke-linejoin="round" stroke-linecap="round"/>
<path d="M961.6 318.1 L951.0 341.3" fill="none" stroke="#111" stroke-width="2.0" stroke-linejoin="round" stroke-linecap="round"/>
<path d="M974.2 318.5 L956.8 354.8" fill="none" stroke="#111" stroke-width="2.0" stroke-linejoin="round" stroke-linecap="round"/>
<path d="M987.7 320.0 L976.1 349.0" fill="none" stroke="#111" stroke-width="2.0" stroke-linejoin="round" stroke-linecap="round"/>
<path d="M998.4 321.0 L980.0 378.1" fill="none" stroke="#111" stroke-width="2.0" stroke-linejoin="round" stroke-linecap="round"/>
<path d="M1014.8 324.8 L995.5 380.0" fill="none" stroke="#111" stroke-width="2.0" stroke-linejoin="round" stroke-linecap="round"/>
<path d="M1029.4 327.7 L1011.0 380.0" fill="none" stroke="#111" stroke-width="2.0" stroke-linejoin="round" stroke-linecap="round"/>
<path d="M923.9 327.7 L930.6 327.7" fill="none" stroke="#111" stroke-width="2.0" stroke-linejoin="round" stroke-linecap="round"/>
<path d="M863.9 277.4 L867.7 270.6 L881.3 267.7 L896.8 266.8 L906.5 268.7 L911.3 276.5" fill="none" stroke="#111" stroke-width="2.0" stroke-linejoin="round" stroke-linecap="round"/>
<path d="M881.3 267.7 L879.4 277.4" fill="none" stroke="#111" stroke-width="2.0" stroke-linejoin="round" stroke-linecap="round"/>
<path d="M894.8 268.7 L893.9 281.3" fill="none" stroke="#111" stroke-width="2.0" stroke-linejoin="round" stroke-linecap="round"/>
<path d="M893.9 288.1 L900.6 285.2 L901.6 300.6" fill="none" stroke="#111" stroke-width="2.0" stroke-linejoin="round" stroke-linecap="round"/>
<path d="M892.9 304.5 L901.6 316.1" fill="none" stroke="#111" stroke-width="2.0" stroke-linejoin="round" stroke-linecap="round"/>
<path d="M884.2 327.7 L885.2 339.4" fill="none" stroke="#111" stroke-width="2.0" stroke-linejoin="round" stroke-linecap="round"/>
<path d="M918.1 300.6 L914.2 320.0 L906.5 335.5 L898.7 351.0 L894.8 364.5" fill="none" stroke="#111" stroke-width="2.0" stroke-linejoin="round" stroke-linecap="round"/>
<path d="M860.0 296.8 L863.9 316.1 L871.6 335.5 L876.5 380.0" fill="none" stroke="#111" stroke-width="2.0" stroke-linejoin="round" stroke-linecap="round"/>
<path d="M934.5 256.1 L939.4 252.3 L946.1 252.3 L949.0 258.1 L947.1 262.9 L939.4 263.9 L934.5 260.0Z" fill="url(#dk)" stroke="#111" stroke-width="2"/>
<path d="M896.8 256.1 L901.6 251.3 L909.4 251.3 L912.3 256.1 L909.4 261.9 L902.6 262.9 L896.8 258.1Z" fill="url(#dk)" stroke="#111" stroke-width="2"/>
<path d="M1037.5 377.9 L1038.9 386.1 L1003.2 471.1" fill="none" stroke="#111" stroke-width="2.0" stroke-linejoin="round" stroke-linecap="round"/>
<path d="M1014.2 342.3 L985.4 412.2" fill="none" stroke="#111" stroke-width="2.0" stroke-linejoin="round" stroke-linecap="round"/>
<path d="M1030.6 350.5 L1011.5 388.9" fill="none" stroke="#111" stroke-width="2.0" stroke-linejoin="round" stroke-linecap="round"/>
<path d="M995.0 342.3 L970.3 388.9" fill="none" stroke="#111" stroke-width="2.0" stroke-linejoin="round" stroke-linecap="round"/>
<path d="M970.3 342.3 L942.9 388.9" fill="none" stroke="#111" stroke-width="2.0" stroke-linejoin="round" stroke-linecap="round"/>
<path d="M767.4 358.7 L768.8 335.4 L797.6 331.3 L819.5 327.2 L831.9 339.5" fill="none" stroke="#111" stroke-width="2.0" stroke-linejoin="round" stroke-linecap="round"/>
<path d="M796.2 331.8 L794.8 342.3" fill="none" stroke="#111" stroke-width="2.0" stroke-linejoin="round" stroke-linecap="round"/>
<path d="M808.5 329.9 L809.9 342.3" fill="none" stroke="#111" stroke-width="2.0" stroke-linejoin="round" stroke-linecap="round"/>
<path d="M788.0 397.1 L788.8 376.5 L797.6 373.8 L825.0 372.4 L834.6 377.9" fill="none" stroke="#111" stroke-width="2.0" stroke-linejoin="round" stroke-linecap="round"/>
<path d="M801.7 373.8 L799.0 380.6" fill="none" stroke="#111" stroke-width="2.0" stroke-linejoin="round" stroke-linecap="round"/>
<path d="M794.5 421.6 L798.4 407.1 L805.2 403.2 L815.8 407.1 L821.6 416.8 L823.5 426.5 L820.6 438.1" fill="none" stroke="#111" stroke-width="2.0" stroke-linejoin="round" stroke-linecap="round"/>
<path d="M801.3 405.2 L808.1 410.0" fill="none" stroke="#111" stroke-width="2.0" stroke-linejoin="round" stroke-linecap="round"/>
<path d="M817.7 427.4 L816.8 438.1" fill="none" stroke="#111" stroke-width="2.0" stroke-linejoin="round" stroke-linecap="round"/>
<path d="M822.6 425.5 L823.5 441.9" fill="none" stroke="#111" stroke-width="2.0" stroke-linejoin="round" stroke-linecap="round"/>
<path d="M773.2 431.3 L777.1 426.5 L784.8 423.5 L790.6 424.5 L798.4 428.4 L804.2 438.1 L802.3 451.6 L797.4 454.5" fill="none" stroke="#111" stroke-width="2.0" stroke-linejoin="round" stroke-linecap="round"/>
<path d="M773.2 431.3 L781.0 446.8 L797.4 454.5" fill="none" stroke="#111" stroke-width="2.0" stroke-linejoin="round" stroke-linecap="round"/>
<path d="M787.7 424.9 L789.7 441.9" fill="none" stroke="#111" stroke-width="2.0" stroke-linejoin="round" stroke-linecap="round"/>
<path d="M778.1 459.4 L782.9 449.7 L789.7 447.7 L797.4 451.6 L795.5 471.0" fill="none" stroke="#111" stroke-width="2.0" stroke-linejoin="round" stroke-linecap="round"/>
<path d="M756.8 538.7 L765.5 513.5 L773.2 490.3 L771.3 461.3 L781.9 460.3 L786.8 463.2" fill="none" stroke="#111" stroke-width="2.0" stroke-linejoin="round" stroke-linecap="round"/>
<path d="M756.8 538.7 L773.2 545.5 L800.3 529.0" fill="none" stroke="#111" stroke-width="2.0" stroke-linejoin="round" stroke-linecap="round"/>
<path d="M765.5 513.5 L773.2 513.5" fill="none" stroke="#111" stroke-width="2.0" stroke-linejoin="round" stroke-linecap="round"/>
<path d="M773.2 489.4 L781.0 488.4" fill="none" stroke="#111" stroke-width="2.0" stroke-linejoin="round" stroke-linecap="round"/>
<path d="M788.7 520.3 L813.9 524.2 L814.8 513.5" fill="none" stroke="#111" stroke-width="2.0" stroke-linejoin="round" stroke-linecap="round"/>
<path d="M833.2 395.5 L842.9 434.2" fill="none" stroke="#111" stroke-width="2.0" stroke-linejoin="round" stroke-linecap="round"/>
<path d="M844.8 387.7 L854.5 389.7 L856.5 416.8 L854.5 453.5" fill="none" stroke="#111" stroke-width="2.0" stroke-linejoin="round" stroke-linecap="round"/>
<path d="M813.9 478.7 L844.8 447.7" fill="none" stroke="#111" stroke-width="2.0" stroke-linejoin="round" stroke-linecap="round"/>
<path d="M815.8 491.3 L821.6 472.9" fill="none" stroke="#111" stroke-width="2.0" stroke-linejoin="round" stroke-linecap="round"/>
<path d="M850.6 457.4 L856.5 461.3 L844.8 496.1 L841.0 505.8 L825.5 513.5 L815.8 515.5" fill="none" stroke="#111" stroke-width="2.0" stroke-linejoin="round" stroke-linecap="round"/>
<path d="M825.5 496.1 L828.4 513.5" fill="none" stroke="#111" stroke-width="2.0" stroke-linejoin="round" stroke-linecap="round"/>
<path d="M835.2 480.6 L837.1 505.8" fill="none" stroke="#111" stroke-width="2.0" stroke-linejoin="round" stroke-linecap="round"/>
<path d="M883.5 380.0 L875.8 401.3 L860.3 418.7" fill="none" stroke="#111" stroke-width="2.0" stroke-linejoin="round" stroke-linecap="round"/>
<path d="M910.6 380.0 L904.8 403.2" fill="none" stroke="#111" stroke-width="2.0" stroke-linejoin="round" stroke-linecap="round"/>
<path d="M877.4 412.6 L882.3 406.1 L893.5 405.3 L904.8 403.7 L925.8 411.0 L952.4 419.8 L971.0 427.9 L1000.0 438.4 L1017.7 449.7 L1027.4 457.7 L1029.0 470.6 L1011.3 519.0 L1004.8 542.4 L979.0 543.2 L933.9 530.3 L921.0 525.5 L875.8 517.4 L866.1 516.6 L865.3 483.5 L871.0 481.9 L871.8 467.4 L874.2 423.9Z" fill="#fff"/>
<path d="M877.4 412.6 L882.3 406.1 L893.5 405.3 L896.8 407.7 L908.1 462.6 L885.5 425.5Z" fill="url(#bt2)"/>
<path d="M874.2 423.9 L885.5 424.7 L903.2 457.7Z" fill="url(#bt2)"/>
<path d="M872.6 447.3 L883.1 446.5 L887.1 457.7 L874.2 467.4Z" fill="url(#bt2)"/>
<path d="M871.8 467.4 L886.3 469.0 L890.3 480.3 L875.8 483.5Z" fill="url(#bt2)"/>
<path d="M865.3 483.5 L875.0 481.9 L891.9 493.2 L922.6 507.7 L921.0 525.5 L875.8 517.4 L866.1 516.6Z" fill="url(#bt2)"/>
<path d="M970.2 431.9 L1000.0 438.4 L1009.7 462.6 L982.3 477.1 L966.1 436.8Z" fill="url(#bt2)"/>
<path d="M1004.8 445.6 L1017.7 449.7 L1027.4 457.7 L1029.0 470.6 L1011.3 514.2 L1009.7 462.6Z" fill="url(#bt2)"/>
<path d="M924.2 523.9 L966.1 521.5 L979.0 543.2 L933.9 530.3Z" fill="url(#bt2)"/>
<path d="M979.0 533.5 L1011.3 519.0 L1004.8 542.4 L979.0 543.2Z" fill="url(#bt2)"/>
<path d="M896.8 406.1 L904.8 403.7 L925.8 411.0 L925.0 443.2 L908.1 438.4Z" fill="url(#gt)"/>
<path d="M926.6 414.2 L952.4 419.8 L943.5 456.1 L927.4 438.4Z" fill="url(#gt)"/>
<path d="M953.2 423.9 L971.0 427.9 L946.8 477.1 L950.0 446.5Z" fill="url(#gt)"/>
<path d="M876.6 423.1 L877.4 412.6 L882.3 406.1 L893.5 405.3 L896.8 407.7" fill="none" stroke="#111" stroke-width="2.0" stroke-linejoin="round" stroke-linecap="round"/>
<path d="M875.0 423.9 L885.5 424.7" fill="none" stroke="#111" stroke-width="2.0" stroke-linejoin="round" stroke-linecap="round"/>
<path d="M874.2 423.9 L874.2 445.6 L883.1 446.5" fill="none" stroke="#111" stroke-width="2.0" stroke-linejoin="round" stroke-linecap="round"/>
<path d="M872.6 447.3 L871.8 467.4 L886.3 469.0" fill="none" stroke="#111" stroke-width="2.0" stroke-linejoin="round" stroke-linecap="round"/>
<path d="M871.0 469.0 L871.0 481.9 L875.0 481.9" fill="none" stroke="#111" stroke-width="2.0" stroke-linejoin="round" stroke-linecap="round"/>
<path d="M865.3 483.5 L866.1 516.6 L875.8 515.8" fill="none" stroke="#111" stroke-width="2.0" stroke-linejoin="round" stroke-linecap="round"/>
<path d="M896.8 406.1 L904.8 403.7 L925.8 411.0 L925.0 443.2" fill="none" stroke="#111" stroke-width="2.0" stroke-linejoin="round" stroke-linecap="round"/>
<path d="M926.6 414.2 L952.4 419.8 L943.5 456.1" fill="none" stroke="#111" stroke-width="2.0" stroke-linejoin="round" stroke-linecap="round"/>
<path d="M953.2 423.9 L971.0 427.9 L946.8 477.1" fill="none" stroke="#111" stroke-width="2.0" stroke-linejoin="round" stroke-linecap="round"/>
<path d="M970.2 431.9 L1000.0 438.4 L1009.7 462.6" fill="none" stroke="#111" stroke-width="2.0" stroke-linejoin="round" stroke-linecap="round"/>
<path d="M1004.8 445.6 L1017.7 449.7 L1027.4 457.7 L1029.0 470.6 L1011.3 514.2" fill="none" stroke="#111" stroke-width="2.0" stroke-linejoin="round" stroke-linecap="round"/>
<path d="M1017.7 452.9 L1009.7 485.2" fill="none" stroke="#111" stroke-width="2.0" stroke-linejoin="round" stroke-linecap="round"/>
<path d="M896.8 407.7 L909.7 462.6" fill="none" stroke="#111" stroke-width="2.0" stroke-linejoin="round" stroke-linecap="round"/>
<path d="M887.1 477.1 L892.7 504.5" fill="none" stroke="#111" stroke-width="2.0" stroke-linejoin="round" stroke-linecap="round"/>
<path d="M909.7 473.9 L906.5 509.4" fill="none" stroke="#111" stroke-width="2.0" stroke-linejoin="round" stroke-linecap="round"/>
<path d="M1001.6 451.3 L982.3 477.1" fill="none" stroke="#111" stroke-width="2.0" stroke-linejoin="round" stroke-linecap="round"/>
<path d="M1008.1 464.2 L982.3 498.1" fill="none" stroke="#111" stroke-width="2.0" stroke-linejoin="round" stroke-linecap="round"/>
<path d="M921.0 525.5 L933.9 530.3 L979.0 543.2 L1004.8 542.4" fill="none" stroke="#111" stroke-width="2.0" stroke-linejoin="round" stroke-linecap="round"/>
<path d="M1011.3 519.0 L1004.8 542.4" fill="none" stroke="#111" stroke-width="2.0" stroke-linejoin="round" stroke-linecap="round"/>
<path d="M966.1 521.5 L958.1 538.4" fill="none" stroke="#111" stroke-width="2.0" stroke-linejoin="round" stroke-linecap="round"/>
<path d="M979.0 523.9 L977.4 543.2" fill="none" stroke="#111" stroke-width="2.0" stroke-linejoin="round" stroke-linecap="round"/>
<path d="M995.2 531.9 L990.3 542.4" fill="none" stroke="#111" stroke-width="2.0" stroke-linejoin="round" stroke-linecap="round"/>
<path d="M924.2 508.5 L921.0 525.5" fill="none" stroke="#111" stroke-width="2.0" stroke-linejoin="round" stroke-linecap="round"/>
<path d="M874.2 515.8 L891.9 509.4 L906.5 511.0 L917.7 517.4 L921.0 525.5 L919.4 530.3 L895.2 528.7 L875.8 517.4Z" fill="url(#dk)" stroke="#111" stroke-width="2"/>
<path d="M938.4 227.1 L927.7 233.9 L911.3 285.2 L905.5 328.7 L887.1 342.3 L867.7 349.0 L860.0 348.1" fill="none" stroke="#b5121b" stroke-width="4.0" stroke-linejoin="round" stroke-linecap="butt"/>
<path d="M834.6 347.7 L820.9 386.1 L822.3 402.6 L840.1 441.0 L804.4 479.4 L820.9 517.7" fill="none" stroke="#b5121b" stroke-width="4.0" stroke-linejoin="round" stroke-linecap="butt"/>
<path d="M868.9 349.1 L849.7 343.6 L834.6 347.7" fill="none" stroke="#b5121b" stroke-width="4.0" stroke-linejoin="round" stroke-linecap="butt"/>
<path d="M827.4 523.2 L854.5 524.2 L875.8 529.0 L895.2 534.8 L906.8 538.7 L901.0 542.6 L883.5 546.5 L871.9 550.3 L870.0 560.0" fill="none" stroke="#f4b120" stroke-width="4.2" stroke-dasharray="4.2 3.8" stroke-linejoin="round"/>
<ellipse cx="844.8" cy="509.7" rx="2.7" ry="2.0" fill="#fff" stroke="#1a1a1a" stroke-width="1.05"/>
<ellipse cx="852.6" cy="513.5" rx="2.7" ry="2.0" fill="#fff" stroke="#1a1a1a" stroke-width="1.05"/>
<ellipse cx="858.4" cy="507.7" rx="2.7" ry="2.0" fill="#fff" stroke="#1a1a1a" stroke-width="1.05"/>
<ellipse cx="850.6" cy="505.8" rx="2.7" ry="2.0" fill="#fff" stroke="#1a1a1a" stroke-width="1.05"/>
<ellipse cx="813.9" cy="534.8" rx="2.7" ry="2.0" fill="#fff" stroke="#1a1a1a" stroke-width="1.05"/>
<ellipse cx="821.6" cy="531.0" rx="2.7" ry="2.0" fill="#fff" stroke="#1a1a1a" stroke-width="1.05"/>
<ellipse cx="827.4" cy="534.8" rx="2.7" ry="2.0" fill="#fff" stroke="#1a1a1a" stroke-width="1.05"/>
<ellipse cx="811.9" cy="540.6" rx="2.7" ry="2.0" fill="#fff" stroke="#1a1a1a" stroke-width="1.05"/>
<ellipse cx="819.7" cy="544.5" rx="2.7" ry="2.0" fill="#fff" stroke="#1a1a1a" stroke-width="1.05"/>
<ellipse cx="829.4" cy="540.6" rx="2.7" ry="2.0" fill="#fff" stroke="#1a1a1a" stroke-width="1.05"/>
<ellipse cx="842.9" cy="536.8" rx="2.7" ry="2.0" fill="#fff" stroke="#1a1a1a" stroke-width="1.05"/>
<ellipse cx="848.7" cy="540.6" rx="2.7" ry="2.0" fill="#fff" stroke="#1a1a1a" stroke-width="1.05"/>
<ellipse cx="856.5" cy="534.8" rx="2.7" ry="2.0" fill="#fff" stroke="#1a1a1a" stroke-width="1.05"/>
<ellipse cx="858.4" cy="544.5" rx="2.7" ry="2.0" fill="#fff" stroke="#1a1a1a" stroke-width="1.05"/>
<ellipse cx="848.7" cy="550.3" rx="2.7" ry="2.0" fill="#fff" stroke="#1a1a1a" stroke-width="1.05"/>
<ellipse cx="868.1" cy="536.8" rx="2.7" ry="2.0" fill="#fff" stroke="#1a1a1a" stroke-width="1.05"/>
<ellipse cx="875.8" cy="540.6" rx="2.7" ry="2.0" fill="#fff" stroke="#1a1a1a" stroke-width="1.05"/>
<ellipse cx="883.5" cy="538.7" rx="2.7" ry="2.0" fill="#fff" stroke="#1a1a1a" stroke-width="1.05"/>
<ellipse cx="891.3" cy="540.6" rx="2.7" ry="2.0" fill="#fff" stroke="#1a1a1a" stroke-width="1.05"/>
<ellipse cx="908.7" cy="546.5" rx="2.7" ry="2.0" fill="#fff" stroke="#1a1a1a" stroke-width="1.05"/>
<ellipse cx="914.5" cy="542.6" rx="2.7" ry="2.0" fill="#fff" stroke="#1a1a1a" stroke-width="1.05"/>
<ellipse cx="922.3" cy="540.6" rx="2.7" ry="2.0" fill="#fff" stroke="#1a1a1a" stroke-width="1.05"/>
<ellipse cx="860.3" cy="554.2" rx="2.7" ry="2.0" fill="#fff" stroke="#1a1a1a" stroke-width="1.05"/>
<text x="868.4" y="238.7" font-size="20" fill="#000" text-anchor="end" textLength="44.4" lengthAdjust="spacingAndGlyphs">Stufe/</text>
<text x="868.4" y="259.4" font-size="20" fill="#000" text-anchor="end" textLength="32.1" lengthAdjust="spacingAndGlyphs">step</text>
<text x="1011.4" y="255.5" font-size="20" fill="#000" text-anchor="start" textLength="130.4" lengthAdjust="spacingAndGlyphs">Kriegsstellungen/</text>
<text x="1011.4" y="276.0" font-size="20" fill="#000" text-anchor="start" textLength="99.2" lengthAdjust="spacingAndGlyphs">war positions</text>
<text x="860.0" y="285.5" font-size="20" fill="#000" text-anchor="end" textLength="108.7" lengthAdjust="spacingAndGlyphs">Rinne/channel</text>
<text x="752.0" y="333.0" font-size="20" fill="#000" text-anchor="end" textLength="55.8" lengthAdjust="spacingAndGlyphs">gestuft/</text>
<text x="752.0" y="353.5" font-size="20" fill="#000" text-anchor="end" textLength="69.0" lengthAdjust="spacingAndGlyphs">scramble</text>
<text x="762.6" y="420.6" font-size="20" fill="#000" text-anchor="end" textLength="35.0" lengthAdjust="spacingAndGlyphs">steil/</text>
<text x="762.6" y="441.3" font-size="20" fill="#000" text-anchor="end" textLength="53.8" lengthAdjust="spacingAndGlyphs">vertical</text>
<text x="752.0" y="491.4" font-size="20" fill="#000" text-anchor="end" textLength="35.0" lengthAdjust="spacingAndGlyphs">steil/</text>
<text x="752.0" y="513.5" font-size="20" fill="#000" text-anchor="end" textLength="53.8" lengthAdjust="spacingAndGlyphs">vertical</text>
<text x="944.4" y="235.5" font-size="18.7" font-weight="bold" fill="#e3001b" text-anchor="start" textLength="30.6" lengthAdjust="spacingAndGlyphs">A/B</text>
<text x="951.0" y="265.8" font-size="18.7" font-weight="bold" fill="#e3001b" text-anchor="start" textLength="12.8" lengthAdjust="spacingAndGlyphs">B</text>
<text x="927.7" y="302.0" font-size="18.7" font-weight="bold" fill="#e3001b" text-anchor="start" textLength="30.6" lengthAdjust="spacingAndGlyphs">A/B</text>
<text x="873.5" y="322.6" font-size="18.7" font-weight="bold" fill="#e3001b" text-anchor="start" textLength="12.8" lengthAdjust="spacingAndGlyphs">A</text>
<text x="846.7" y="339.0" font-size="18.7" font-weight="bold" fill="#e3001b" text-anchor="start" textLength="12.8" lengthAdjust="spacingAndGlyphs">A</text>
<text x="809.0" y="359.7" font-size="18.7" font-weight="bold" fill="#e3001b" text-anchor="start" textLength="12.8" lengthAdjust="spacingAndGlyphs">B</text>
<text x="749.7" y="390.7" font-size="18.7" font-weight="bold" fill="#e3001b" text-anchor="start" textLength="30.6" lengthAdjust="spacingAndGlyphs">A/B</text>
<text x="836.4" y="411.4" font-size="18.7" font-weight="bold" fill="#e3001b" text-anchor="start" textLength="12.8" lengthAdjust="spacingAndGlyphs">B</text>
<text x="808.0" y="459.4" font-size="18.7" font-weight="bold" fill="#e3001b" text-anchor="start" textLength="12.8" lengthAdjust="spacingAndGlyphs">B</text>
<text x="794.0" y="505.8" font-size="18.7" font-weight="bold" fill="#e3001b" text-anchor="start" textLength="12.8" lengthAdjust="spacingAndGlyphs">B</text>
<path d="M709.4 664.8 L736.7 634.4 L762.9 624.9 L794.4 617.6 L827.9 611.3 L854.1 623.9 L863.5 623.9 L892.9 642.7 L909.7 642.7 L922.3 649.0 L925.4 663.7 L928.5 686.8 L926.5 707.7 L909.7 740.0 L762.9 740.0 L758.7 686.8Z" fill="url(#rl)"/>
<path d="M620.0 859.4 L689.2 851.0 L701.8 804.8 L718.5 786.0 L766.8 735.6 L812.9 739.8 L859.0 700.0 L880.0 700.0 L880.0 741.9 L829.7 769.2 L804.5 796.5 L787.7 846.8 L766.8 888.7 L745.8 900.0 L641.0 900.0Z" fill="url(#rl)"/>
<path d="M817.4 665.8 L834.2 663.7 L836.3 695.2 L830.0 691.0 L823.7 676.3Z" fill="#a5a5a5"/>
<path d="M815.0 741.9 L829.7 765.0 L819.2 783.9 L806.6 794.4 L796.1 817.4 L779.4 836.3 L771.0 851.0 L766.8 869.8 L751.0 884.5 L737.4 867.7 L741.6 848.9 L754.2 842.6 L771.0 825.8 L794.0 788.1 L802.4 762.9Z" fill="#a0a0a0"/>
<path d="M634.7 892.9 L651.5 878.2 L670.3 865.6 L689.2 851.0 L701.8 848.9 L720.6 856.2 L738.5 865.6 L754.2 884.5 L745.8 900.0 L628.4 900.0Z" fill="#fff"/>
<path d="M709.4 664.8 L736.7 634.4 L759.8 644.8" fill="none" stroke="#111" stroke-width="2.0" stroke-linejoin="round" stroke-linecap="round"/>
<path d="M736.7 634.4 L748.2 630.2 L762.9 624.9 L777.6 619.7 L794.4 617.6 L811.1 613.4 L827.9 611.3 L832.1 613.4 L834.2 638.5" fill="none" stroke="#111" stroke-width="2.0" stroke-linejoin="round" stroke-linecap="round"/>
<path d="M836.3 617.6 L846.8 619.7 L854.1 623.9 L855.2 632.3" fill="none" stroke="#111" stroke-width="2.0" stroke-linejoin="round" stroke-linecap="round"/>
<path d="M863.5 623.9 L871.9 630.2 L882.4 638.5 L892.9 642.7 L909.7 642.7 L922.3 649.0 L925.4 663.7 L918.1 665.8" fill="none" stroke="#111" stroke-width="2.0" stroke-linejoin="round" stroke-linecap="round"/>
<path d="M892.9 665.8 L922.3 665.8 L927.5 674.2 L928.5 686.8 L926.5 703.5" fill="none" stroke="#111" stroke-width="2.0" stroke-linejoin="round" stroke-linecap="round"/>
<path d="M762.9 624.9 L769.2 657.4" fill="none" stroke="#111" stroke-width="2.0" stroke-linejoin="round" stroke-linecap="round"/>
<path d="M777.6 620.7 L780.7 649.0" fill="none" stroke="#111" stroke-width="2.0" stroke-linejoin="round" stroke-linecap="round"/>
<path d="M794.4 618.6 L790.2 638.5" fill="none" stroke="#111" stroke-width="2.0" stroke-linejoin="round" stroke-linecap="round"/>
<path d="M808.0 614.4 L809.0 636.5" fill="none" stroke="#111" stroke-width="2.0" stroke-linejoin="round" stroke-linecap="round"/>
<path d="M820.6 612.3 L819.5 630.2" fill="none" stroke="#111" stroke-width="2.0" stroke-linejoin="round" stroke-linecap="round"/>
<path d="M838.4 617.6 L840.9 632.3" fill="none" stroke="#111" stroke-width="2.0" stroke-linejoin="round" stroke-linecap="round"/>
<path d="M846.8 619.7 L851.0 633.3" fill="none" stroke="#111" stroke-width="2.0" stroke-linejoin="round" stroke-linecap="round"/>
<path d="M867.7 628.1 L874.0 645.9" fill="none" stroke="#111" stroke-width="2.0" stroke-linejoin="round" stroke-linecap="round"/>
<path d="M880.3 636.5 L879.3 651.1" fill="none" stroke="#111" stroke-width="2.0" stroke-linejoin="round" stroke-linecap="round"/>
<path d="M899.2 642.7 L888.7 661.6" fill="none" stroke="#111" stroke-width="2.0" stroke-linejoin="round" stroke-linecap="round"/>
<path d="M909.7 644.8 L911.8 657.4" fill="none" stroke="#111" stroke-width="2.0" stroke-linejoin="round" stroke-linecap="round"/>
<path d="M759.8 654.3 L765.0 674.2 L761.9 705.6" fill="none" stroke="#111" stroke-width="2.0" stroke-linejoin="round" stroke-linecap="round"/>
<path d="M796.5 651.1 L806.9 661.6 L817.4 678.4 L830.0 703.5" fill="none" stroke="#111" stroke-width="2.0" stroke-linejoin="round" stroke-linecap="round"/>
<path d="M802.7 657.4 L803.8 684.7" fill="none" stroke="#111" stroke-width="2.0" stroke-linejoin="round" stroke-linecap="round"/>
<path d="M790.2 670.0 L800.6 695.2" fill="none" stroke="#111" stroke-width="2.0" stroke-linejoin="round" stroke-linecap="round"/>
<path d="M814.3 663.7 L834.2 663.7" fill="none" stroke="#111" stroke-width="2.0" stroke-linejoin="round" stroke-linecap="round"/>
<path d="M837.3 646.9 L846.8 646.9 L851.0 653.2 L849.9 703.5" fill="none" stroke="#111" stroke-width="2.0" stroke-linejoin="round" stroke-linecap="round"/>
<path d="M861.5 682.6 L878.2 695.2" fill="none" stroke="#111" stroke-width="2.0" stroke-linejoin="round" stroke-linecap="round"/>
<path d="M842.6 709.8 L874.0 709.8" fill="none" stroke="#111" stroke-width="2.0" stroke-linejoin="round" stroke-linecap="round"/>
<path d="M909.7 667.9 L909.7 693.1" fill="none" stroke="#111" stroke-width="2.0" stroke-linejoin="round" stroke-linecap="round"/>
<path d="M918.1 676.3 L907.6 716.1" fill="none" stroke="#111" stroke-width="2.0" stroke-linejoin="round" stroke-linecap="round"/>
<path d="M901.3 665.8 L903.4 682.6" fill="none" stroke="#111" stroke-width="2.0" stroke-linejoin="round" stroke-linecap="round"/>
<path d="M859.4 663.7 L867.7 661.2 L870.9 666.9 L868.8 675.2 L861.5 676.3Z" fill="url(#dk)" stroke="#111" stroke-width="2"/>
<path d="M719.6 787.0 L720.6 834.2" fill="none" stroke="#111" stroke-width="2.0" stroke-linejoin="round" stroke-linecap="round"/>
<path d="M698.6 804.8 L700.7 853.1" fill="none" stroke="#111" stroke-width="2.0" stroke-linejoin="round" stroke-linecap="round"/>
<path d="M706.0 806.9 L702.8 825.8" fill="none" stroke="#111" stroke-width="2.0" stroke-linejoin="round" stroke-linecap="round"/>
<path d="M750.0 793.3 L752.1 844.7" fill="none" stroke="#111" stroke-width="2.0" stroke-linejoin="round" stroke-linecap="round"/>
<path d="M758.4 794.4 L761.5 836.3" fill="none" stroke="#111" stroke-width="2.0" stroke-linejoin="round" stroke-linecap="round"/>
<path d="M766.8 737.7 L771.0 804.8" fill="none" stroke="#111" stroke-width="2.0" stroke-linejoin="round" stroke-linecap="round"/>
<path d="M777.3 769.2 L782.5 796.5" fill="none" stroke="#111" stroke-width="2.0" stroke-linejoin="round" stroke-linecap="round"/>
<path d="M787.7 746.1 L789.8 781.8" fill="none" stroke="#111" stroke-width="2.0" stroke-linejoin="round" stroke-linecap="round"/>
<path d="M634.7 892.9 L651.5 878.2 L670.3 865.6 L689.2 851.0 L701.8 848.9 L702.8 855.2 L720.6 856.2 L722.7 844.7 L737.4 844.7 L738.5 865.6 L724.8 865.6" fill="none" stroke="#111" stroke-width="2.0" stroke-linejoin="round" stroke-linecap="round"/>
<path d="M741.6 848.9 L752.1 844.7 L754.2 834.2" fill="none" stroke="#111" stroke-width="2.0" stroke-linejoin="round" stroke-linecap="round"/>
<path d="M643.1 849.9 L652.5 876.1" fill="none" stroke="#111" stroke-width="2.0" stroke-linejoin="round" stroke-linecap="round"/>
<path d="M658.8 836.3 L665.1 865.6" fill="none" stroke="#111" stroke-width="2.0" stroke-linejoin="round" stroke-linecap="round"/>
<path d="M674.5 843.6 L676.6 865.6" fill="none" stroke="#111" stroke-width="2.0" stroke-linejoin="round" stroke-linecap="round"/>
<path d="M685.0 830.0 L687.1 851.0" fill="none" stroke="#111" stroke-width="2.0" stroke-linejoin="round" stroke-linecap="round"/>
<path d="M628.4 864.6 L634.7 888.7" fill="none" stroke="#111" stroke-width="2.0" stroke-linejoin="round" stroke-linecap="round"/>
<path d="M620.0 859.4 L626.3 882.4" fill="none" stroke="#111" stroke-width="2.0" stroke-linejoin="round" stroke-linecap="round"/>
<path d="M810.8 739.8 L812.9 750.3 L804.5 758.7 L796.1 762.9" fill="none" stroke="#111" stroke-width="2.0" stroke-linejoin="round" stroke-linecap="round"/>
<path d="M796.1 775.5 L812.9 773.4 L821.3 779.7" fill="none" stroke="#111" stroke-width="2.0" stroke-linejoin="round" stroke-linecap="round"/>
<path d="M812.3 789.0 L830.2 770.2 L837.5 747.1 L842.7 741.9 L870.0 730.3 L895.2 725.1 L909.8 720.9 L924.5 736.6 L935.0 749.2 L938.1 774.4 L935.0 793.2 L922.4 831.0 L899.4 843.5 L857.4 832.0 L844.8 837.3 L830.2 843.5 L809.2 822.6 L800.8 810.0Z" fill="url(#rg)"/>
<path d="M776.7 831.0 L796.6 829.9 L799.8 836.2 L791.4 849.8 L785.1 889.7 L821.8 905.4 L853.2 927.4 L809.2 920.1 L773.5 910.6 L740.0 910.6 L751.5 887.6 L769.4 866.6Z" fill="url(#bb)"/>
<path d="M812.3 789.0 L823.9 778.5 L830.2 770.2 L837.5 747.1 L842.7 741.9 L853.2 742.9 L856.4 747.1 L857.4 832.0" fill="none" stroke="#111" stroke-width="2.0" stroke-linejoin="round" stroke-linecap="round"/>
<path d="M859.5 745.0 L870.0 730.3 L882.6 735.6 L884.7 776.5 L877.3 820.5" fill="none" stroke="#111" stroke-width="2.0" stroke-linejoin="round" stroke-linecap="round"/>
<path d="M882.6 732.4 L895.2 725.1 L903.5 727.2 L907.7 732.4 L909.8 755.5" fill="none" stroke="#111" stroke-width="2.0" stroke-linejoin="round" stroke-linecap="round"/>
<path d="M899.4 721.9 L909.8 720.9 L910.9 729.3" fill="none" stroke="#111" stroke-width="2.0" stroke-linejoin="round" stroke-linecap="round"/>
<path d="M924.5 736.6 L935.0 749.2 L938.1 774.4 L935.0 793.2 L922.4 831.0" fill="none" stroke="#111" stroke-width="2.0" stroke-linejoin="round" stroke-linecap="round"/>
<path d="M901.5 749.2 L902.5 841.5" fill="none" stroke="#111" stroke-width="2.0" stroke-linejoin="round" stroke-linecap="round"/>
<path d="M926.6 680.0 L905.6 715.6" fill="none" stroke="#111" stroke-width="2.0" stroke-linejoin="round" stroke-linecap="round"/>
<path d="M926.6 701.0 L920.3 718.8 L914.0 770.2" fill="none" stroke="#111" stroke-width="2.0" stroke-linejoin="round" stroke-linecap="round"/>
<path d="M849.0 745.0 L844.8 770.2" fill="none" stroke="#111" stroke-width="2.0" stroke-linejoin="round" stroke-linecap="round"/>
<path d="M861.6 768.1 L850.1 822.6" fill="none" stroke="#111" stroke-width="2.0" stroke-linejoin="round" stroke-linecap="round"/>
<path d="M840.6 776.5 L836.5 811.0" fill="none" stroke="#111" stroke-width="2.0" stroke-linejoin="round" stroke-linecap="round"/>
<path d="M830.2 770.2 L838.5 770.2" fill="none" stroke="#111" stroke-width="2.0" stroke-linejoin="round" stroke-linecap="round"/>
<path d="M861.6 751.3 L867.9 751.3" fill="none" stroke="#111" stroke-width="2.0" stroke-linejoin="round" stroke-linecap="round"/>
<path d="M859.5 770.2 L867.9 770.2" fill="none" stroke="#111" stroke-width="2.0" stroke-linejoin="round" stroke-linecap="round"/>
<path d="M920.3 738.7 L920.3 791.1" fill="none" stroke="#111" stroke-width="2.0" stroke-linejoin="round" stroke-linecap="round"/>
<path d="M800.8 810.0 L819.7 780.6" fill="none" stroke="#111" stroke-width="2.0" stroke-linejoin="round" stroke-linecap="round"/>
<path d="M802.9 816.3 L815.5 819.4" fill="none" stroke="#111" stroke-width="2.0" stroke-linejoin="round" stroke-linecap="round"/>
<path d="M809.2 822.6 L823.9 826.8 L830.2 843.5" fill="none" stroke="#111" stroke-width="2.0" stroke-linejoin="round" stroke-linecap="round"/>
<path d="M832.3 806.9 L844.8 837.3" fill="none" stroke="#111" stroke-width="2.0" stroke-linejoin="round" stroke-linecap="round"/>
<path d="M776.7 831.0 L779.8 829.9 L796.6 829.9 L799.8 836.2" fill="none" stroke="#111" stroke-width="2.0" stroke-linejoin="round" stroke-linecap="round"/>
<path d="M773.5 845.6 L784.0 845.6" fill="none" stroke="#111" stroke-width="2.0" stroke-linejoin="round" stroke-linecap="round"/>
<path d="M769.4 866.6 L779.8 867.7" fill="none" stroke="#111" stroke-width="2.0" stroke-linejoin="round" stroke-linecap="round"/>
<path d="M751.5 887.6 L761.0 879.2 L769.4 870.8 L776.7 831.0" fill="none" stroke="#111" stroke-width="2.0" stroke-linejoin="round" stroke-linecap="round"/>
<path d="M740.0 910.6 L773.5 910.6 L809.2 920.1 L853.2 927.4" fill="none" stroke="#111" stroke-width="2.0" stroke-linejoin="round" stroke-linecap="round"/>
<path d="M791.4 849.8 L785.1 889.7" fill="none" stroke="#111" stroke-width="2.0" stroke-linejoin="round" stroke-linecap="round"/>
<path d="M801.9 870.8 L792.4 902.3" fill="none" stroke="#111" stroke-width="2.0" stroke-linejoin="round" stroke-linecap="round"/>
<path d="M814.4 866.6 L808.1 889.7" fill="none" stroke="#111" stroke-width="2.0" stroke-linejoin="round" stroke-linecap="round"/>
<path d="M830.2 874.0 L816.5 898.1" fill="none" stroke="#111" stroke-width="2.0" stroke-linejoin="round" stroke-linecap="round"/>
<path d="M842.7 886.5 L821.8 905.4" fill="none" stroke="#111" stroke-width="2.0" stroke-linejoin="round" stroke-linecap="round"/>
<path d="M834.4 914.8 L835.4 921.1" fill="none" stroke="#111" stroke-width="2.0" stroke-linejoin="round" stroke-linecap="round"/>
<path d="M748.4 914.8 L749.4 940.0" fill="none" stroke="#111" stroke-width="2.0" stroke-linejoin="round" stroke-linecap="round"/>
<path d="M761.0 916.9 L762.0 940.0" fill="none" stroke="#111" stroke-width="2.0" stroke-linejoin="round" stroke-linecap="round"/>
<path d="M773.5 919.0 L775.6 940.0" fill="none" stroke="#111" stroke-width="2.0" stroke-linejoin="round" stroke-linecap="round"/>
<path d="M788.2 921.1 L790.3 940.0" fill="none" stroke="#111" stroke-width="2.0" stroke-linejoin="round" stroke-linecap="round"/>
<path d="M798.7 923.2 L800.8 940.0" fill="none" stroke="#111" stroke-width="2.0" stroke-linejoin="round" stroke-linecap="round"/>
<path d="M768.3 896.0 L775.6 885.5 L784.0 884.4 L788.2 900.2 L778.8 906.5Z" fill="url(#dk)" stroke="#111" stroke-width="2"/>
<path d="M795.6 900.2 L800.8 896.0 L811.3 894.9 L813.4 908.5 L804.0 913.8 L797.7 910.6Z" fill="url(#dk)" stroke="#111" stroke-width="2"/>
<ellipse cx="742.1" cy="875.0" rx="2.7" ry="2.0" fill="#fff" stroke="#1a1a1a" stroke-width="1.05"/>
<ellipse cx="748.4" cy="878.1" rx="2.7" ry="2.0" fill="#fff" stroke="#1a1a1a" stroke-width="1.05"/>
<ellipse cx="746.3" cy="898.1" rx="2.7" ry="2.0" fill="#fff" stroke="#1a1a1a" stroke-width="1.05"/>
<ellipse cx="752.6" cy="893.9" rx="2.7" ry="2.0" fill="#fff" stroke="#1a1a1a" stroke-width="1.05"/>
<ellipse cx="761.0" cy="898.1" rx="2.7" ry="2.0" fill="#fff" stroke="#1a1a1a" stroke-width="1.05"/>
<ellipse cx="748.4" cy="907.5" rx="2.7" ry="2.0" fill="#fff" stroke="#1a1a1a" stroke-width="1.05"/>
<ellipse cx="756.8" cy="908.5" rx="2.7" ry="2.0" fill="#fff" stroke="#1a1a1a" stroke-width="1.05"/>
<ellipse cx="767.3" cy="914.8" rx="2.7" ry="2.0" fill="#fff" stroke="#1a1a1a" stroke-width="1.05"/>
<ellipse cx="775.6" cy="910.6" rx="2.7" ry="2.0" fill="#fff" stroke="#1a1a1a" stroke-width="1.05"/>
<ellipse cx="781.9" cy="914.8" rx="2.7" ry="2.0" fill="#fff" stroke="#1a1a1a" stroke-width="1.05"/>
<ellipse cx="790.3" cy="919.0" rx="2.7" ry="2.0" fill="#fff" stroke="#1a1a1a" stroke-width="1.05"/>
<ellipse cx="798.7" cy="921.1" rx="2.7" ry="2.0" fill="#fff" stroke="#1a1a1a" stroke-width="1.05"/>
<ellipse cx="807.1" cy="924.3" rx="2.7" ry="2.0" fill="#fff" stroke="#1a1a1a" stroke-width="1.05"/>
<ellipse cx="813.4" cy="921.1" rx="2.7" ry="2.0" fill="#fff" stroke="#1a1a1a" stroke-width="1.05"/>
<ellipse cx="819.7" cy="925.3" rx="2.7" ry="2.0" fill="#fff" stroke="#1a1a1a" stroke-width="1.05"/>
<path d="M857.3 620.7 L865.6 642.7 L878.2 653.2 L874.0 670.0 L863.5 686.8 L846.8 716.1 L832.1 734.0" fill="none" stroke="#b5121b" stroke-width="4.0" stroke-linejoin="round" stroke-linecap="butt"/>
<path d="M810.8 739.8 L798.2 744.0 L789.8 750.3 L794.0 792.3 L766.8 815.3 L761.5 830.0 L773.1 839.4 L751.0 876.1" fill="none" stroke="#b5121b" stroke-width="4.0" stroke-linejoin="round" stroke-linecap="butt"/>
<path d="M907.6 541.0 L874.0 547.3 L871.9 554.7 L878.2 561.0 L881.4 568.3 L867.7 581.9 L861.5 585.1 L884.5 590.3 L907.6 595.6 L884.5 602.9 L861.5 616.5 L857.3 620.7" fill="none" stroke="#f4b120" stroke-width="4.2" stroke-dasharray="4.2 3.8" stroke-linejoin="round"/>
<path d="M833.9 733.5 L812.9 739.8" fill="none" stroke="#f4b120" stroke-width="4.2" stroke-dasharray="4.2 3.8" stroke-linejoin="round"/>
<path d="M750.0 886.6 L745.8 880.3 L729.0 876.1 L703.9 876.1 L682.9 878.2 L661.9 884.5 L651.5 892.9" fill="none" stroke="#f4b120" stroke-width="4.2" stroke-dasharray="4.2 3.8" stroke-linejoin="round"/>
<ellipse cx="867.7" cy="558.9" rx="2.7" ry="2.0" fill="#fff" stroke="#1a1a1a" stroke-width="1.05"/>
<ellipse cx="859.4" cy="563.1" rx="2.7" ry="2.0" fill="#fff" stroke="#1a1a1a" stroke-width="1.05"/>
<ellipse cx="853.1" cy="569.4" rx="2.7" ry="2.0" fill="#fff" stroke="#1a1a1a" stroke-width="1.05"/>
<ellipse cx="861.5" cy="573.5" rx="2.7" ry="2.0" fill="#fff" stroke="#1a1a1a" stroke-width="1.05"/>
<ellipse cx="867.7" cy="571.5" rx="2.7" ry="2.0" fill="#fff" stroke="#1a1a1a" stroke-width="1.05"/>
<ellipse cx="830.0" cy="561.0" rx="2.7" ry="2.0" fill="#fff" stroke="#1a1a1a" stroke-width="1.05"/>
<ellipse cx="836.3" cy="558.9" rx="2.7" ry="2.0" fill="#fff" stroke="#1a1a1a" stroke-width="1.05"/>
<ellipse cx="836.3" cy="566.2" rx="2.7" ry="2.0" fill="#fff" stroke="#1a1a1a" stroke-width="1.05"/>
<ellipse cx="844.7" cy="564.1" rx="2.7" ry="2.0" fill="#fff" stroke="#1a1a1a" stroke-width="1.05"/>
<ellipse cx="836.3" cy="585.1" rx="2.7" ry="2.0" fill="#fff" stroke="#1a1a1a" stroke-width="1.05"/>
<ellipse cx="844.7" cy="583.0" rx="2.7" ry="2.0" fill="#fff" stroke="#1a1a1a" stroke-width="1.05"/>
<ellipse cx="851.0" cy="588.2" rx="2.7" ry="2.0" fill="#fff" stroke="#1a1a1a" stroke-width="1.05"/>
<ellipse cx="842.6" cy="590.3" rx="2.7" ry="2.0" fill="#fff" stroke="#1a1a1a" stroke-width="1.05"/>
<ellipse cx="821.6" cy="598.7" rx="2.7" ry="2.0" fill="#fff" stroke="#1a1a1a" stroke-width="1.05"/>
<ellipse cx="827.9" cy="596.6" rx="2.7" ry="2.0" fill="#fff" stroke="#1a1a1a" stroke-width="1.05"/>
<ellipse cx="836.3" cy="600.8" rx="2.7" ry="2.0" fill="#fff" stroke="#1a1a1a" stroke-width="1.05"/>
<ellipse cx="848.9" cy="602.9" rx="2.7" ry="2.0" fill="#fff" stroke="#1a1a1a" stroke-width="1.05"/>
<ellipse cx="857.3" cy="607.1" rx="2.7" ry="2.0" fill="#fff" stroke="#1a1a1a" stroke-width="1.05"/>
<ellipse cx="842.6" cy="609.2" rx="2.7" ry="2.0" fill="#fff" stroke="#1a1a1a" stroke-width="1.05"/>
<ellipse cx="867.7" cy="598.7" rx="2.7" ry="2.0" fill="#fff" stroke="#1a1a1a" stroke-width="1.05"/>
<ellipse cx="874.0" cy="595.6" rx="2.7" ry="2.0" fill="#fff" stroke="#1a1a1a" stroke-width="1.05"/>
<ellipse cx="882.4" cy="600.8" rx="2.7" ry="2.0" fill="#fff" stroke="#1a1a1a" stroke-width="1.05"/>
<ellipse cx="888.7" cy="611.3" rx="2.7" ry="2.0" fill="#fff" stroke="#1a1a1a" stroke-width="1.05"/>
<ellipse cx="897.1" cy="615.5" rx="2.7" ry="2.0" fill="#fff" stroke="#1a1a1a" stroke-width="1.05"/>
<ellipse cx="901.3" cy="630.2" rx="2.7" ry="2.0" fill="#fff" stroke="#1a1a1a" stroke-width="1.05"/>
<ellipse cx="907.6" cy="628.1" rx="2.7" ry="2.0" fill="#fff" stroke="#1a1a1a" stroke-width="1.05"/>
<ellipse cx="913.9" cy="632.3" rx="2.7" ry="2.0" fill="#fff" stroke="#1a1a1a" stroke-width="1.05"/>
<ellipse cx="905.5" cy="636.5" rx="2.7" ry="2.0" fill="#fff" stroke="#1a1a1a" stroke-width="1.05"/>
<ellipse cx="911.8" cy="602.9" rx="2.7" ry="2.0" fill="#fff" stroke="#1a1a1a" stroke-width="1.05"/>
<ellipse cx="918.1" cy="600.8" rx="2.7" ry="2.0" fill="#fff" stroke="#1a1a1a" stroke-width="1.05"/>
<ellipse cx="926.5" cy="606.0" rx="2.7" ry="2.0" fill="#fff" stroke="#1a1a1a" stroke-width="1.05"/>
<ellipse cx="932.7" cy="594.5" rx="2.7" ry="2.0" fill="#fff" stroke="#1a1a1a" stroke-width="1.05"/>
<ellipse cx="941.1" cy="592.4" rx="2.7" ry="2.0" fill="#fff" stroke="#1a1a1a" stroke-width="1.05"/>
<ellipse cx="949.5" cy="596.6" rx="2.7" ry="2.0" fill="#fff" stroke="#1a1a1a" stroke-width="1.05"/>
<ellipse cx="939.0" cy="599.8" rx="2.7" ry="2.0" fill="#fff" stroke="#1a1a1a" stroke-width="1.05"/>
<ellipse cx="928.5" cy="542.1" rx="2.7" ry="2.0" fill="#fff" stroke="#1a1a1a" stroke-width="1.05"/>
<ellipse cx="680.8" cy="862.5" rx="2.7" ry="2.0" fill="#fff" stroke="#1a1a1a" stroke-width="1.05"/>
<ellipse cx="687.1" cy="867.7" rx="2.7" ry="2.0" fill="#fff" stroke="#1a1a1a" stroke-width="1.05"/>
<ellipse cx="694.4" cy="865.6" rx="2.7" ry="2.0" fill="#fff" stroke="#1a1a1a" stroke-width="1.05"/>
<ellipse cx="703.9" cy="861.5" rx="2.7" ry="2.0" fill="#fff" stroke="#1a1a1a" stroke-width="1.05"/>
<ellipse cx="712.3" cy="865.6" rx="2.7" ry="2.0" fill="#fff" stroke="#1a1a1a" stroke-width="1.05"/>
<ellipse cx="718.5" cy="873.0" rx="2.7" ry="2.0" fill="#fff" stroke="#1a1a1a" stroke-width="1.05"/>
<ellipse cx="726.9" cy="867.7" rx="2.7" ry="2.0" fill="#fff" stroke="#1a1a1a" stroke-width="1.05"/>
<ellipse cx="735.3" cy="874.0" rx="2.7" ry="2.0" fill="#fff" stroke="#1a1a1a" stroke-width="1.05"/>
<ellipse cx="741.6" cy="882.4" rx="2.7" ry="2.0" fill="#fff" stroke="#1a1a1a" stroke-width="1.05"/>
<ellipse cx="664.0" cy="874.0" rx="2.7" ry="2.0" fill="#fff" stroke="#1a1a1a" stroke-width="1.05"/>
<ellipse cx="670.3" cy="869.8" rx="2.7" ry="2.0" fill="#fff" stroke="#1a1a1a" stroke-width="1.05"/>
<ellipse cx="674.5" cy="876.1" rx="2.7" ry="2.0" fill="#fff" stroke="#1a1a1a" stroke-width="1.05"/>
<ellipse cx="680.8" cy="880.3" rx="2.7" ry="2.0" fill="#fff" stroke="#1a1a1a" stroke-width="1.05"/>
<ellipse cx="689.2" cy="884.5" rx="2.7" ry="2.0" fill="#fff" stroke="#1a1a1a" stroke-width="1.05"/>
<ellipse cx="697.6" cy="882.4" rx="2.7" ry="2.0" fill="#fff" stroke="#1a1a1a" stroke-width="1.05"/>
<ellipse cx="706.0" cy="886.6" rx="2.7" ry="2.0" fill="#fff" stroke="#1a1a1a" stroke-width="1.05"/>
<ellipse cx="714.4" cy="888.7" rx="2.7" ry="2.0" fill="#fff" stroke="#1a1a1a" stroke-width="1.05"/>
<ellipse cx="724.8" cy="884.5" rx="2.7" ry="2.0" fill="#fff" stroke="#1a1a1a" stroke-width="1.05"/>
<ellipse cx="733.2" cy="888.7" rx="2.7" ry="2.0" fill="#fff" stroke="#1a1a1a" stroke-width="1.05"/>
<ellipse cx="739.5" cy="892.9" rx="2.7" ry="2.0" fill="#fff" stroke="#1a1a1a" stroke-width="1.05"/>
<ellipse cx="670.3" cy="890.8" rx="2.7" ry="2.0" fill="#fff" stroke="#1a1a1a" stroke-width="1.05"/>
<ellipse cx="682.9" cy="895.0" rx="2.7" ry="2.0" fill="#fff" stroke="#1a1a1a" stroke-width="1.05"/>
<ellipse cx="695.5" cy="892.9" rx="2.7" ry="2.0" fill="#fff" stroke="#1a1a1a" stroke-width="1.05"/>
<ellipse cx="708.1" cy="897.1" rx="2.7" ry="2.0" fill="#fff" stroke="#1a1a1a" stroke-width="1.05"/>
<ellipse cx="645.2" cy="884.5" rx="2.7" ry="2.0" fill="#fff" stroke="#1a1a1a" stroke-width="1.05"/>
<ellipse cx="636.8" cy="886.6" rx="2.7" ry="2.0" fill="#fff" stroke="#1a1a1a" stroke-width="1.05"/>
<ellipse cx="655.6" cy="867.7" rx="2.7" ry="2.0" fill="#fff" stroke="#1a1a1a" stroke-width="1.05"/>
<ellipse cx="649.4" cy="874.0" rx="2.7" ry="2.0" fill="#fff" stroke="#1a1a1a" stroke-width="1.05"/>
<text x="882.8" y="564.5" font-size="20" fill="#000" text-anchor="start" textLength="111.5" lengthAdjust="spacingAndGlyphs">Kriegsstellung/</text>
<text x="882.8" y="585.2" font-size="20" fill="#000" text-anchor="start" textLength="90.7" lengthAdjust="spacingAndGlyphs">war position</text>
<text x="816.8" y="584.0" font-size="20" fill="#000" text-anchor="end" textLength="86.0" lengthAdjust="spacingAndGlyphs">Band/ledge</text>
<text x="936.5" y="669.3" font-size="20" fill="#000" text-anchor="start" textLength="111.5" lengthAdjust="spacingAndGlyphs">Kriegsstellung/</text>
<text x="936.5" y="690.0" font-size="20" fill="#000" text-anchor="start" textLength="90.7" lengthAdjust="spacingAndGlyphs">war position</text>
<text x="943.0" y="716.8" font-size="20" fill="#000" text-anchor="start" textLength="55.8" lengthAdjust="spacingAndGlyphs">gestuft/</text>
<text x="943.0" y="737.4" font-size="20" fill="#000" text-anchor="start" textLength="69.0" lengthAdjust="spacingAndGlyphs">scramble</text>
<text x="774.5" y="719.4" font-size="20" fill="#000" text-anchor="end" textLength="108.7" lengthAdjust="spacingAndGlyphs">Rinne/channel</text>
<text x="722.8" y="760.6" font-size="20" fill="#000" text-anchor="end" textLength="88.8" lengthAdjust="spacingAndGlyphs">steile Stufe/</text>
<text x="722.8" y="781.3" font-size="20" fill="#000" text-anchor="end" textLength="90.7" lengthAdjust="spacingAndGlyphs">vertical step</text>
<text x="798.7" y="860.3" font-size="20" fill="#000" text-anchor="start" textLength="108.7" lengthAdjust="spacingAndGlyphs">Rinne/channel</text>
<text x="854.0" y="897.4" font-size="20" fill="#000" text-anchor="start" textLength="130.4" lengthAdjust="spacingAndGlyphs">Kriegsstellungen/</text>
<text x="854.0" y="918.0" font-size="20" fill="#000" text-anchor="start" textLength="99.2" lengthAdjust="spacingAndGlyphs">war positions</text>
<text x="878.7" y="631.6" font-size="18.7" font-weight="bold" fill="#e3001b" text-anchor="start" textLength="12.8" lengthAdjust="spacingAndGlyphs">A</text>
<text x="877.7" y="690.0" font-size="18.7" font-weight="bold" fill="#e3001b" text-anchor="start" textLength="30.6" lengthAdjust="spacingAndGlyphs">A/B</text>
<text x="856.5" y="724.5" font-size="18.7" font-weight="bold" fill="#e3001b" text-anchor="start" textLength="30.6" lengthAdjust="spacingAndGlyphs">A/B</text>
<text x="768.8" y="737.4" font-size="18.7" font-weight="bold" fill="#e3001b" text-anchor="start" textLength="30.6" lengthAdjust="spacingAndGlyphs">A/B</text>
<text x="729.0" y="772.0" font-size="18.7" font-weight="bold" fill="#e3001b" text-anchor="start" textLength="30.6" lengthAdjust="spacingAndGlyphs">B/C</text>
<text x="735.2" y="825.2" font-size="18.7" font-weight="bold" fill="#e3001b" text-anchor="start" textLength="12.8" lengthAdjust="spacingAndGlyphs">B</text>
<text x="723.9" y="857.7" font-size="18.7" font-weight="bold" fill="#e3001b" text-anchor="start" textLength="12.8" lengthAdjust="spacingAndGlyphs">A</text>
<path d="M349.6 998.1 L349.6 978.9 L381.1 958.3 L405.8 943.2 L464.8 946.0 L504.5 937.7 L527.8 929.5 L555.2 915.8 L559.4 962.4 L537.4 962.4 L493.5 965.2 L444.2 981.6 L383.9 985.7Z" fill="url(#rl)"/>
<path d="M381.1 958.3 L383.9 985.7 L363.3 987.1Z" fill="url(#wg)"/>
<path d="M405.8 943.2 L412.7 980.2 L392.1 981.6Z" fill="url(#wg)"/>
<path d="M440.1 946.0 L446.9 981.6 L426.4 983.0Z" fill="url(#wg)"/>
<path d="M464.8 946.0 L466.1 970.6 L445.6 972.0Z" fill="url(#wg)"/>
<path d="M484.0 940.5 L482.6 967.9 L462.0 969.3Z" fill="url(#wg)"/>
<path d="M504.5 937.7 L507.3 963.8 L486.7 965.2Z" fill="url(#wg)"/>
<path d="M527.8 929.5 L529.2 962.4 L508.6 963.8Z" fill="url(#wg)"/>
<path d="M542.9 935.0 L544.3 959.7 L523.7 961.0Z" fill="url(#wg)"/>
<path d="M370.2 978.9 L368.8 992.6 L348.2 994.0Z" fill="url(#wg)"/>
<path d="M555.2 915.8 L619.7 861.0 L663.5 850.0 L680.0 850.0 L680.0 932.3 L669.0 940.5 L636.1 956.9 L578.5 956.9 L556.6 954.2Z" fill="url(#rg)"/>
<path d="M352.3 1048.8 L353.7 1017.3 L383.9 1025.5 L444.2 1039.2 L394.8 1052.9Z" fill="url(#rg)"/>
<path d="M455.2 1014.5 L482.6 999.4 L531.9 978.9 L559.4 963.8 L542.9 978.9 L531.9 992.6 L504.5 1003.5 L477.1 1014.5 L466.1 1028.2Z" fill="#fff"/>
<path d="M556.6 955.6 L581.3 932.3 L600.5 918.5 L636.1 904.8 L649.8 885.6 L669.0 900.7 L666.3 910.3 L641.6 921.3 L611.5 937.7 L578.5 959.7 L564.8 965.2Z" fill="#a3a3a3"/>
<path d="M349.6 998.1 L367.4 992.6 L383.9 985.7 L414.0 980.2 L444.2 981.6 L468.9 970.6 L493.5 965.2 L515.5 962.4 L537.4 962.4 L559.4 962.4" fill="none" stroke="#111" stroke-width="2.0" stroke-linejoin="round" stroke-linecap="round"/>
<path d="M349.6 978.9 L351.0 998.1" fill="none" stroke="#111" stroke-width="2.0" stroke-linejoin="round" stroke-linecap="round"/>
<path d="M370.2 978.9 L368.8 992.6" fill="none" stroke="#111" stroke-width="2.0" stroke-linejoin="round" stroke-linecap="round"/>
<path d="M381.1 958.3 L383.9 985.7" fill="none" stroke="#111" stroke-width="2.0" stroke-linejoin="round" stroke-linecap="round"/>
<path d="M390.7 952.8 L392.1 984.4" fill="none" stroke="#111" stroke-width="2.0" stroke-linejoin="round" stroke-linecap="round"/>
<path d="M405.8 943.2 L412.7 980.2" fill="none" stroke="#111" stroke-width="2.0" stroke-linejoin="round" stroke-linecap="round"/>
<path d="M440.1 946.0 L446.9 981.6" fill="none" stroke="#111" stroke-width="2.0" stroke-linejoin="round" stroke-linecap="round"/>
<path d="M464.8 946.0 L466.1 970.6" fill="none" stroke="#111" stroke-width="2.0" stroke-linejoin="round" stroke-linecap="round"/>
<path d="M484.0 940.5 L482.6 967.9" fill="none" stroke="#111" stroke-width="2.0" stroke-linejoin="round" stroke-linecap="round"/>
<path d="M504.5 937.7 L507.3 963.8" fill="none" stroke="#111" stroke-width="2.0" stroke-linejoin="round" stroke-linecap="round"/>
<path d="M527.8 929.5 L529.2 962.4" fill="none" stroke="#111" stroke-width="2.0" stroke-linejoin="round" stroke-linecap="round"/>
<path d="M542.9 935.0 L544.3 959.7" fill="none" stroke="#111" stroke-width="2.0" stroke-linejoin="round" stroke-linecap="round"/>
<path d="M555.2 915.8 L556.6 954.2" fill="none" stroke="#111" stroke-width="2.0" stroke-linejoin="round" stroke-linecap="round"/>
<path d="M567.6 909.0 L570.3 946.0" fill="none" stroke="#111" stroke-width="2.0" stroke-linejoin="round" stroke-linecap="round"/>
<path d="M581.3 913.1 L582.7 937.7" fill="none" stroke="#111" stroke-width="2.0" stroke-linejoin="round" stroke-linecap="round"/>
<path d="M619.7 861.0 L627.9 903.5" fill="none" stroke="#111" stroke-width="2.0" stroke-linejoin="round" stroke-linecap="round"/>
<path d="M630.6 863.7 L638.9 896.6" fill="none" stroke="#111" stroke-width="2.0" stroke-linejoin="round" stroke-linecap="round"/>
<path d="M649.8 852.7 L655.3 874.7" fill="none" stroke="#111" stroke-width="2.0" stroke-linejoin="round" stroke-linecap="round"/>
<path d="M663.5 850.0 L666.3 866.5" fill="none" stroke="#111" stroke-width="2.0" stroke-linejoin="round" stroke-linecap="round"/>
<path d="M556.6 955.6 L581.3 932.3 L600.5 918.5 L636.1 904.8 L649.8 885.6" fill="none" stroke="#111" stroke-width="2.0" stroke-linejoin="round" stroke-linecap="round"/>
<path d="M578.5 959.7 L611.5 937.7 L641.6 921.3 L666.3 910.3 L680.0 904.8" fill="none" stroke="#111" stroke-width="2.0" stroke-linejoin="round" stroke-linecap="round"/>
<path d="M663.5 918.5 L669.0 940.5" fill="none" stroke="#111" stroke-width="2.0" stroke-linejoin="round" stroke-linecap="round"/>
<path d="M638.9 921.3 L636.1 956.9" fill="none" stroke="#111" stroke-width="2.0" stroke-linejoin="round" stroke-linecap="round"/>
<path d="M655.3 918.5 L655.3 944.6" fill="none" stroke="#111" stroke-width="2.0" stroke-linejoin="round" stroke-linecap="round"/>
<path d="M622.4 932.3 L619.7 956.9" fill="none" stroke="#111" stroke-width="2.0" stroke-linejoin="round" stroke-linecap="round"/>
<path d="M603.2 940.5 L603.2 954.2" fill="none" stroke="#111" stroke-width="2.0" stroke-linejoin="round" stroke-linecap="round"/>
<path d="M352.3 1048.8 L353.7 1017.3 L367.4 1018.6 L375.6 1022.7 L383.9 1025.5 L403.1 1028.2 L414.0 1031.0 L444.2 1039.2" fill="none" stroke="#111" stroke-width="2.0" stroke-linejoin="round" stroke-linecap="round"/>
<path d="M367.4 1021.4 L364.7 1039.2" fill="none" stroke="#111" stroke-width="2.0" stroke-linejoin="round" stroke-linecap="round"/>
<path d="M381.1 1025.5 L375.6 1041.9" fill="none" stroke="#111" stroke-width="2.0" stroke-linejoin="round" stroke-linecap="round"/>
<path d="M396.2 1028.2 L390.7 1047.4" fill="none" stroke="#111" stroke-width="2.0" stroke-linejoin="round" stroke-linecap="round"/>
<path d="M409.9 1029.6 L404.4 1050.2" fill="none" stroke="#111" stroke-width="2.0" stroke-linejoin="round" stroke-linecap="round"/>
<path d="M467.3 1021.5 L538.9 988.6 L546.3 982.7 L562.7 976.7 L585.1 972.2 L610.5 963.3 L615.0 967.7 L620.9 993.1 L626.9 1033.4 L625.4 1069.2 L616.5 1114.0 L577.7 1119.9 L562.7 1128.9 L538.9 1133.3 L497.1 1155.7 L476.2 1167.7 L468.8 1164.7 L461.3 1152.7 L435.9 1142.3 L437.4 1087.1 L455.3 1069.2 L443.4 1039.4Z" fill="url(#rl)"/>
<path d="M470.2 1021.5 L535.9 994.6 L528.4 1063.2 L506.0 1060.2 L473.2 1039.4Z" fill="url(#gt)" opacity="0.6"/>
<path d="M528.4 1063.2 L532.9 1009.5 L538.9 988.6 L546.3 982.7 L556.8 981.2 L559.8 987.1 L559.8 1006.5" fill="none" stroke="#111" stroke-width="2.0" stroke-linejoin="round" stroke-linecap="round"/>
<path d="M559.8 1006.5 L562.7 976.7 L568.7 973.7 L577.7 975.2 L580.6 979.7 L579.2 1006.5" fill="none" stroke="#111" stroke-width="2.0" stroke-linejoin="round" stroke-linecap="round"/>
<path d="M579.2 979.7 L585.1 972.2 L595.6 970.7 L600.0 975.2 L600.0 1000.6" fill="none" stroke="#111" stroke-width="2.0" stroke-linejoin="round" stroke-linecap="round"/>
<path d="M598.5 969.2 L610.5 963.3 L615.0 967.7 L616.5 988.6 L612.0 1018.5" fill="none" stroke="#111" stroke-width="2.0" stroke-linejoin="round" stroke-linecap="round"/>
<path d="M616.5 988.6 L620.9 993.1 L619.4 1018.5" fill="none" stroke="#111" stroke-width="2.0" stroke-linejoin="round" stroke-linecap="round"/>
<path d="M610.5 1030.4 L626.9 1033.4 L625.4 1069.2 L619.4 1099.0 L616.5 1114.0" fill="none" stroke="#111" stroke-width="2.0" stroke-linejoin="round" stroke-linecap="round"/>
<path d="M577.7 1119.9 L598.5 1114.0 L616.5 1093.1" fill="none" stroke="#111" stroke-width="2.0" stroke-linejoin="round" stroke-linecap="round"/>
<path d="M467.3 1021.5 L479.2 1014.0 L509.0 1003.5 L535.9 994.6" fill="none" stroke="#111" stroke-width="2.0" stroke-linejoin="round" stroke-linecap="round"/>
<path d="M470.2 1022.9 L473.2 1034.9" fill="none" stroke="#111" stroke-width="2.0" stroke-linejoin="round" stroke-linecap="round"/>
<path d="M479.2 1015.5 L482.2 1039.4" fill="none" stroke="#111" stroke-width="2.0" stroke-linejoin="round" stroke-linecap="round"/>
<path d="M489.6 1011.0 L492.6 1045.3" fill="none" stroke="#111" stroke-width="2.0" stroke-linejoin="round" stroke-linecap="round"/>
<path d="M501.6 1006.5 L503.1 1052.8" fill="none" stroke="#111" stroke-width="2.0" stroke-linejoin="round" stroke-linecap="round"/>
<path d="M512.0 1003.5 L512.0 1055.8" fill="none" stroke="#111" stroke-width="2.0" stroke-linejoin="round" stroke-linecap="round"/>
<path d="M524.0 998.2 L525.4 1060.2" fill="none" stroke="#111" stroke-width="2.0" stroke-linejoin="round" stroke-linecap="round"/>
<path d="M506.0 1060.2 L535.9 1063.2" fill="none" stroke="#111" stroke-width="2.0" stroke-linejoin="round" stroke-linecap="round"/>
<path d="M604.5 997.6 L592.6 1048.3" fill="none" stroke="#111" stroke-width="2.0" stroke-linejoin="round" stroke-linecap="round"/>
<path d="M556.8 997.6 L550.8 1051.3" fill="none" stroke="#111" stroke-width="2.0" stroke-linejoin="round" stroke-linecap="round"/>
<path d="M443.4 1039.4 L452.3 1031.9 L461.3 1033.4 L462.8 1045.3" fill="none" stroke="#111" stroke-width="2.0" stroke-linejoin="round" stroke-linecap="round"/>
<path d="M441.9 1048.3 L455.3 1051.3" fill="none" stroke="#111" stroke-width="2.0" stroke-linejoin="round" stroke-linecap="round"/>
<path d="M437.4 1087.1 L446.4 1085.6 L444.9 1142.3" fill="none" stroke="#111" stroke-width="2.0" stroke-linejoin="round" stroke-linecap="round"/>
<path d="M461.3 1085.6 L465.8 1084.1 L464.3 1152.7" fill="none" stroke="#111" stroke-width="2.0" stroke-linejoin="round" stroke-linecap="round"/>
<path d="M483.7 1075.2 L479.2 1161.7" fill="none" stroke="#111" stroke-width="2.0" stroke-linejoin="round" stroke-linecap="round"/>
<path d="M497.1 1075.2 L503.1 1072.2 L497.1 1128.9" fill="none" stroke="#111" stroke-width="2.0" stroke-linejoin="round" stroke-linecap="round"/>
<path d="M509.0 1087.1 L515.0 1082.6 L521.0 1087.1 L521.0 1134.8" fill="none" stroke="#111" stroke-width="2.0" stroke-linejoin="round" stroke-linecap="round"/>
<path d="M526.9 1075.2 L535.9 1072.2 L538.9 1125.9" fill="none" stroke="#111" stroke-width="2.0" stroke-linejoin="round" stroke-linecap="round"/>
<path d="M538.9 1075.2 L547.8 1078.1 L550.8 1122.9" fill="none" stroke="#111" stroke-width="2.0" stroke-linejoin="round" stroke-linecap="round"/>
<path d="M468.8 1164.7 L476.2 1167.7 L497.1 1155.7 L515.0 1146.8 L538.9 1133.3 L562.7 1128.9 L577.7 1119.9" fill="none" stroke="#111" stroke-width="2.0" stroke-linejoin="round" stroke-linecap="round"/>
<path d="M509.0 1114.0 L521.0 1111.0" fill="none" stroke="#111" stroke-width="2.0" stroke-linejoin="round" stroke-linecap="round"/>
<path d="M485.2 1116.9 L492.6 1114.0" fill="none" stroke="#111" stroke-width="2.0" stroke-linejoin="round" stroke-linecap="round"/>
<path d="M542.9 972.0 L529.2 983.0 L482.6 1003.5 L457.9 1021.4 L456.5 1028.2 L468.9 1044.7 L485.3 1055.6 L504.5 1072.1" fill="none" stroke="#b5121b" stroke-width="4.0" stroke-linejoin="round" stroke-linecap="butt"/>
<path d="M534.7 1070.7 L548.4 1080.3 L556.6 1091.3 L573.1 1100.9 L574.4 1109.9" fill="none" stroke="#b5121b" stroke-width="4.0" stroke-linejoin="round" stroke-linecap="butt"/>
<path d="M548.4 1078.4 L556.6 1090.7 L573.1 1101.7 L575.8 1122.3" fill="none" stroke="#b5121b" stroke-width="4.0" stroke-linejoin="round" stroke-linecap="butt"/>
<path d="M504.5 1070.7 L529.2 1066.6" fill="none" stroke="#f4b120" stroke-width="4.2" stroke-dasharray="4.2 3.8" stroke-linejoin="round"/>
<path d="M549.8 970.6 L567.6 956.9 L614.2 929.5 L641.6 904.8 L658.1 885.6 L680.0 877.4" fill="none" stroke="#f4b120" stroke-width="4.2" stroke-dasharray="4.2 3.8" stroke-linejoin="round"/>
<ellipse cx="455.2" cy="1007.7" rx="2.7" ry="2.0" fill="#fff" stroke="#1a1a1a" stroke-width="1.05"/>
<ellipse cx="462.0" cy="1004.9" rx="2.7" ry="2.0" fill="#fff" stroke="#1a1a1a" stroke-width="1.05"/>
<ellipse cx="492.2" cy="988.5" rx="2.7" ry="2.0" fill="#fff" stroke="#1a1a1a" stroke-width="1.05"/>
<ellipse cx="499.0" cy="985.7" rx="2.7" ry="2.0" fill="#fff" stroke="#1a1a1a" stroke-width="1.05"/>
<ellipse cx="503.1" cy="1002.2" rx="2.7" ry="2.0" fill="#fff" stroke="#1a1a1a" stroke-width="1.05"/>
<ellipse cx="510.0" cy="999.4" rx="2.7" ry="2.0" fill="#fff" stroke="#1a1a1a" stroke-width="1.05"/>
<ellipse cx="477.1" cy="1011.8" rx="2.7" ry="2.0" fill="#fff" stroke="#1a1a1a" stroke-width="1.05"/>
<ellipse cx="485.3" cy="1008.5" rx="2.7" ry="2.0" fill="#fff" stroke="#1a1a1a" stroke-width="1.05"/>
<ellipse cx="533.3" cy="970.6" rx="2.7" ry="2.0" fill="#fff" stroke="#1a1a1a" stroke-width="1.05"/>
<ellipse cx="540.2" cy="967.9" rx="2.7" ry="2.0" fill="#fff" stroke="#1a1a1a" stroke-width="1.05"/>
<ellipse cx="575.8" cy="961.0" rx="2.7" ry="2.0" fill="#fff" stroke="#1a1a1a" stroke-width="1.05"/>
<ellipse cx="567.6" cy="965.2" rx="2.7" ry="2.0" fill="#fff" stroke="#1a1a1a" stroke-width="1.05"/>
<ellipse cx="563.5" cy="948.7" rx="2.7" ry="2.0" fill="#fff" stroke="#1a1a1a" stroke-width="1.05"/>
<ellipse cx="575.8" cy="943.2" rx="2.7" ry="2.0" fill="#fff" stroke="#1a1a1a" stroke-width="1.05"/>
<ellipse cx="586.8" cy="940.5" rx="2.7" ry="2.0" fill="#fff" stroke="#1a1a1a" stroke-width="1.05"/>
<ellipse cx="597.7" cy="933.6" rx="2.7" ry="2.0" fill="#fff" stroke="#1a1a1a" stroke-width="1.05"/>
<ellipse cx="611.5" cy="926.8" rx="2.7" ry="2.0" fill="#fff" stroke="#1a1a1a" stroke-width="1.05"/>
<ellipse cx="622.4" cy="918.5" rx="2.7" ry="2.0" fill="#fff" stroke="#1a1a1a" stroke-width="1.05"/>
<ellipse cx="636.1" cy="909.0" rx="2.7" ry="2.0" fill="#fff" stroke="#1a1a1a" stroke-width="1.05"/>
<ellipse cx="644.4" cy="899.4" rx="2.7" ry="2.0" fill="#fff" stroke="#1a1a1a" stroke-width="1.05"/>
<ellipse cx="658.1" cy="891.1" rx="2.7" ry="2.0" fill="#fff" stroke="#1a1a1a" stroke-width="1.05"/>
<ellipse cx="655.3" cy="877.4" rx="2.7" ry="2.0" fill="#fff" stroke="#1a1a1a" stroke-width="1.05"/>
<ellipse cx="630.6" cy="898.0" rx="2.7" ry="2.0" fill="#fff" stroke="#1a1a1a" stroke-width="1.05"/>
<ellipse cx="614.2" cy="907.6" rx="2.7" ry="2.0" fill="#fff" stroke="#1a1a1a" stroke-width="1.05"/>
<ellipse cx="600.5" cy="918.5" rx="2.7" ry="2.0" fill="#fff" stroke="#1a1a1a" stroke-width="1.05"/>
<ellipse cx="586.8" cy="929.5" rx="2.7" ry="2.0" fill="#fff" stroke="#1a1a1a" stroke-width="1.05"/>
<ellipse cx="669.0" cy="904.8" rx="2.7" ry="2.0" fill="#fff" stroke="#1a1a1a" stroke-width="1.05"/>
<ellipse cx="505.9" cy="1084.4" rx="2.7" ry="2.0" fill="#fff" stroke="#1a1a1a" stroke-width="1.05"/>
<ellipse cx="515.5" cy="1077.6" rx="2.7" ry="2.0" fill="#fff" stroke="#1a1a1a" stroke-width="1.05"/>
<ellipse cx="537.4" cy="1141.5" rx="2.7" ry="2.0" fill="#fff" stroke="#1a1a1a" stroke-width="1.05"/>
<ellipse cx="545.6" cy="1137.3" rx="2.7" ry="2.0" fill="#fff" stroke="#1a1a1a" stroke-width="1.05"/>
<ellipse cx="556.6" cy="1138.7" rx="2.7" ry="2.0" fill="#fff" stroke="#1a1a1a" stroke-width="1.05"/>
<ellipse cx="564.8" cy="1134.6" rx="2.7" ry="2.0" fill="#fff" stroke="#1a1a1a" stroke-width="1.05"/>
<ellipse cx="573.1" cy="1138.7" rx="2.7" ry="2.0" fill="#fff" stroke="#1a1a1a" stroke-width="1.05"/>
<ellipse cx="542.9" cy="1145.6" rx="2.7" ry="2.0" fill="#fff" stroke="#1a1a1a" stroke-width="1.05"/>
<ellipse cx="556.6" cy="1145.6" rx="2.7" ry="2.0" fill="#fff" stroke="#1a1a1a" stroke-width="1.05"/>
<ellipse cx="564.8" cy="1144.2" rx="2.7" ry="2.0" fill="#fff" stroke="#1a1a1a" stroke-width="1.05"/>
<ellipse cx="573.1" cy="1146.9" rx="2.7" ry="2.0" fill="#fff" stroke="#1a1a1a" stroke-width="1.05"/>
<ellipse cx="553.9" cy="1160.6" rx="2.7" ry="2.0" fill="#fff" stroke="#1a1a1a" stroke-width="1.05"/>
<ellipse cx="562.1" cy="1157.9" rx="2.7" ry="2.0" fill="#fff" stroke="#1a1a1a" stroke-width="1.05"/>
<ellipse cx="559.4" cy="1164.8" rx="2.7" ry="2.0" fill="#fff" stroke="#1a1a1a" stroke-width="1.05"/>
<ellipse cx="567.6" cy="1160.6" rx="2.7" ry="2.0" fill="#fff" stroke="#1a1a1a" stroke-width="1.05"/>
<ellipse cx="578.5" cy="1160.6" rx="2.7" ry="2.0" fill="#fff" stroke="#1a1a1a" stroke-width="1.05"/>
<ellipse cx="586.8" cy="1156.5" rx="2.7" ry="2.0" fill="#fff" stroke="#1a1a1a" stroke-width="1.05"/>
<ellipse cx="595.0" cy="1160.6" rx="2.7" ry="2.0" fill="#fff" stroke="#1a1a1a" stroke-width="1.05"/>
<ellipse cx="581.3" cy="1168.9" rx="2.7" ry="2.0" fill="#fff" stroke="#1a1a1a" stroke-width="1.05"/>
<ellipse cx="592.3" cy="1171.6" rx="2.7" ry="2.0" fill="#fff" stroke="#1a1a1a" stroke-width="1.05"/>
<ellipse cx="603.2" cy="1168.9" rx="2.7" ry="2.0" fill="#fff" stroke="#1a1a1a" stroke-width="1.05"/>
<ellipse cx="584.0" cy="1179.8" rx="2.7" ry="2.0" fill="#fff" stroke="#1a1a1a" stroke-width="1.05"/>
<ellipse cx="592.3" cy="1184.0" rx="2.7" ry="2.0" fill="#fff" stroke="#1a1a1a" stroke-width="1.05"/>
<ellipse cx="603.2" cy="1182.6" rx="2.7" ry="2.0" fill="#fff" stroke="#1a1a1a" stroke-width="1.05"/>
<ellipse cx="614.2" cy="1178.5" rx="2.7" ry="2.0" fill="#fff" stroke="#1a1a1a" stroke-width="1.05"/>
<ellipse cx="611.5" cy="1186.7" rx="2.7" ry="2.0" fill="#fff" stroke="#1a1a1a" stroke-width="1.05"/>
<ellipse cx="630.6" cy="1188.1" rx="2.7" ry="2.0" fill="#fff" stroke="#1a1a1a" stroke-width="1.05"/>
<ellipse cx="641.6" cy="1184.0" rx="2.7" ry="2.0" fill="#fff" stroke="#1a1a1a" stroke-width="1.05"/>
<ellipse cx="630.6" cy="1199.0" rx="2.7" ry="2.0" fill="#fff" stroke="#1a1a1a" stroke-width="1.05"/>
<ellipse cx="638.9" cy="1194.9" rx="2.7" ry="2.0" fill="#fff" stroke="#1a1a1a" stroke-width="1.05"/>
<ellipse cx="644.4" cy="1201.8" rx="2.7" ry="2.0" fill="#fff" stroke="#1a1a1a" stroke-width="1.05"/>
<ellipse cx="586.8" cy="1122.3" rx="2.7" ry="2.0" fill="#fff" stroke="#1a1a1a" stroke-width="1.05"/>
<ellipse cx="593.6" cy="1119.5" rx="2.7" ry="2.0" fill="#fff" stroke="#1a1a1a" stroke-width="1.05"/>
<text x="606.0" y="904.3" font-size="20" fill="#000" text-anchor="end" textLength="108.7" lengthAdjust="spacingAndGlyphs">Rinne/channel</text>
<text x="413.0" y="1072.3" font-size="20" fill="#000" text-anchor="end" textLength="55.8" lengthAdjust="spacingAndGlyphs">gestuft/</text>
<text x="413.0" y="1092.8" font-size="20" fill="#000" text-anchor="end" textLength="69.0" lengthAdjust="spacingAndGlyphs">scramble</text>
<text x="419.5" y="1157.4" font-size="20" fill="#000" text-anchor="end" textLength="55.8" lengthAdjust="spacingAndGlyphs">gestuft/</text>
<text x="419.5" y="1177.2" font-size="20" fill="#000" text-anchor="end" textLength="69.0" lengthAdjust="spacingAndGlyphs">scramble</text>
<text x="509.8" y="979.0" font-size="18.7" font-weight="bold" fill="#e3001b" text-anchor="start" textLength="12.8" lengthAdjust="spacingAndGlyphs">A</text>
<text x="453.3" y="997.4" font-size="18.7" font-weight="bold" fill="#e3001b" text-anchor="start" textLength="30.6" lengthAdjust="spacingAndGlyphs">A/B</text>
<text x="429.0" y="1030.4" font-size="18.7" font-weight="bold" fill="#e3001b" text-anchor="start" textLength="12.8" lengthAdjust="spacingAndGlyphs">A</text>
<text x="425.4" y="1072.3" font-size="18.7" font-weight="bold" fill="#e3001b" text-anchor="start" textLength="30.6" lengthAdjust="spacingAndGlyphs">A/B</text>
<text x="462.0" y="1081.8" font-size="18.7" font-weight="bold" fill="#e3001b" text-anchor="start" textLength="12.8" lengthAdjust="spacingAndGlyphs">B</text>
<text x="557.5" y="1070.8" font-size="18.7" font-weight="bold" fill="#e3001b" text-anchor="start" textLength="30.6" lengthAdjust="spacingAndGlyphs">A/B</text>
<text x="578.0" y="1102.4" font-size="18.7" font-weight="bold" fill="#e3001b" text-anchor="start" textLength="30.6" lengthAdjust="spacingAndGlyphs">A/B</text>
<path d="M621.3 1135.2 L670.3 1104.2 L709.0 1099.0 L747.7 1104.2 L768.4 1119.7 L783.9 1148.1 L776.1 1155.8 L765.8 1137.7 L745.2 1124.8 L709.0 1118.4 L670.3 1122.3 L636.8 1145.5Z" fill="#ececec"/>
<path d="M621.3 1135.2 L670.3 1104.2 L709.0 1099.0 L747.7 1104.2 L768.4 1119.7 L783.9 1148.1" fill="none" stroke="#888" stroke-width="1" stroke-dasharray="1.5 1.5"/>
<path d="M636.8 1145.5 L670.3 1122.3 L709.0 1118.4 L745.2 1124.8 L765.8 1137.7 L776.1 1155.8" fill="none" stroke="#888" stroke-width="1" stroke-dasharray="1.5 1.5"/>
<path d="M640.6 1122.3 L638.1 1163.5 L617.4 1166.1Z" fill="url(#wg)"/>
<path d="M669.0 1145.5 L667.7 1168.7 L647.1 1171.3Z" fill="url(#wg)"/>
<path d="M689.7 1136.5 L691.0 1176.5 L670.3 1179.0Z" fill="url(#wg)"/>
<path d="M710.3 1162.3 L711.6 1176.5 L691.0 1179.0Z" fill="url(#wg)"/>
<path d="M799.4 1148.1 L801.9 1168.7 L781.3 1171.3Z" fill="url(#wg)"/>
<path d="M813.5 1150.6 L814.8 1166.1 L794.2 1168.7Z" fill="url(#wg)"/>
<path d="M827.7 1135.2 L827.7 1171.3 L807.1 1173.9Z" fill="url(#wg)"/>
<path d="M851.0 1119.7 L838.1 1181.6 L817.4 1184.2Z" fill="url(#wg)"/>
<path d="M894.8 1130.0 L896.1 1181.6 L875.5 1184.2Z" fill="url(#wg)"/>
<path d="M654.8 1155.8 L656.1 1168.7 L635.5 1171.3Z" fill="url(#wg)"/>
<path d="M608.4 1119.7 L608.4 1153.2 L587.7 1155.8Z" fill="url(#wg)"/>
<path d="M737.4 1176.5 L736.1 1087.4 L740.0 1083.5 L763.2 1087.4 L761.9 1173.9Z" fill="url(#rg)"/>
<path d="M719.4 1176.5 L720.6 1101.6 L729.7 1099.0 L736.1 1104.2 L737.4 1176.5Z" fill="url(#rg)"/>
<path d="M858.7 1191.9 L860.0 1140.3 L866.5 1127.4 L879.4 1126.1 L880.6 1137.7 L879.4 1191.9Z" fill="url(#rg)"/>
<path d="M605.8 1155.8 L631.6 1163.5 L657.4 1171.3 L693.5 1177.7 L734.8 1179.0 L760.6 1173.9 L786.5 1168.7 L807.1 1170.0 L822.6 1166.1 L840.6 1181.6" fill="none" stroke="#111" stroke-width="2.0" stroke-linejoin="round" stroke-linecap="round"/>
<path d="M603.2 1119.7 L608.4 1153.2" fill="none" stroke="#111" stroke-width="2.0" stroke-linejoin="round" stroke-linecap="round"/>
<path d="M613.5 1105.5 L611.0 1132.6" fill="none" stroke="#111" stroke-width="2.0" stroke-linejoin="round" stroke-linecap="round"/>
<path d="M627.7 1122.3 L617.4 1137.7" fill="none" stroke="#111" stroke-width="2.0" stroke-linejoin="round" stroke-linecap="round"/>
<path d="M640.6 1122.3 L638.1 1163.5" fill="none" stroke="#111" stroke-width="2.0" stroke-linejoin="round" stroke-linecap="round"/>
<path d="M654.8 1155.8 L656.1 1168.7" fill="none" stroke="#111" stroke-width="2.0" stroke-linejoin="round" stroke-linecap="round"/>
<path d="M669.0 1145.5 L667.7 1168.7" fill="none" stroke="#111" stroke-width="2.0" stroke-linejoin="round" stroke-linecap="round"/>
<path d="M689.7 1136.5 L691.0 1176.5" fill="none" stroke="#111" stroke-width="2.0" stroke-linejoin="round" stroke-linecap="round"/>
<path d="M710.3 1162.3 L711.6 1176.5" fill="none" stroke="#111" stroke-width="2.0" stroke-linejoin="round" stroke-linecap="round"/>
<path d="M786.5 1105.5 L781.3 1166.1" fill="none" stroke="#111" stroke-width="2.0" stroke-linejoin="round" stroke-linecap="round"/>
<path d="M795.5 1119.7 L787.7 1145.5" fill="none" stroke="#111" stroke-width="2.0" stroke-linejoin="round" stroke-linecap="round"/>
<path d="M799.4 1148.1 L801.9 1168.7" fill="none" stroke="#111" stroke-width="2.0" stroke-linejoin="round" stroke-linecap="round"/>
<path d="M813.5 1150.6 L814.8 1166.1" fill="none" stroke="#111" stroke-width="2.0" stroke-linejoin="round" stroke-linecap="round"/>
<path d="M820.0 1121.0 L827.7 1168.7" fill="none" stroke="#111" stroke-width="2.0" stroke-linejoin="round" stroke-linecap="round"/>
<path d="M827.7 1135.2 L827.7 1171.3" fill="none" stroke="#111" stroke-width="2.0" stroke-linejoin="round" stroke-linecap="round"/>
<path d="M851.0 1119.7 L838.1 1181.6" fill="none" stroke="#111" stroke-width="2.0" stroke-linejoin="round" stroke-linecap="round"/>
<path d="M857.4 1069.4 L853.5 1135.2" fill="none" stroke="#111" stroke-width="2.0" stroke-linejoin="round" stroke-linecap="round"/>
<path d="M874.2 1068.1 L867.7 1122.3" fill="none" stroke="#111" stroke-width="2.0" stroke-linejoin="round" stroke-linecap="round"/>
<path d="M892.3 1087.4 L879.4 1122.3" fill="none" stroke="#111" stroke-width="2.0" stroke-linejoin="round" stroke-linecap="round"/>
<path d="M894.8 1130.0 L896.1 1181.6" fill="none" stroke="#111" stroke-width="2.0" stroke-linejoin="round" stroke-linecap="round"/>
<path d="M887.1 1161.0 L889.7 1181.6" fill="none" stroke="#111" stroke-width="2.0" stroke-linejoin="round" stroke-linecap="round"/>
<path d="M737.4 1176.5 L736.1 1087.4 L740.0 1083.5 L763.2 1087.4 L761.9 1173.9" fill="none" stroke="#111" stroke-width="2.0" stroke-linejoin="round" stroke-linecap="round"/>
<path d="M764.5 1099.0 L760.6 1127.4" fill="none" stroke="#111" stroke-width="2.0" stroke-linejoin="round" stroke-linecap="round"/>
<path d="M719.4 1176.5 L720.6 1101.6 L729.7 1099.0 L736.1 1104.2" fill="none" stroke="#111" stroke-width="2.0" stroke-linejoin="round" stroke-linecap="round"/>
<path d="M719.4 1123.5 L729.7 1124.8" fill="none" stroke="#111" stroke-width="2.0" stroke-linejoin="round" stroke-linecap="round"/>
<path d="M740.0 1161.0 L745.2 1158.4 L745.2 1176.5" fill="none" stroke="#111" stroke-width="2.0" stroke-linejoin="round" stroke-linecap="round"/>
<path d="M858.7 1191.9 L860.0 1140.3 L866.5 1127.4 L879.4 1126.1 L880.6 1137.7 L879.4 1191.9" fill="none" stroke="#111" stroke-width="2.0" stroke-linejoin="round" stroke-linecap="round"/>
<path d="M858.7 1191.9 L879.4 1191.9" fill="none" stroke="#111" stroke-width="2.0" stroke-linejoin="round" stroke-linecap="round"/>
<path d="M863.9 1173.9 L879.4 1173.9" fill="none" stroke="#111" stroke-width="2.0" stroke-linejoin="round" stroke-linecap="round"/>
<path d="M623.9 1139.0 L639.4 1135.2" fill="none" stroke="#111" stroke-width="2.0" stroke-linejoin="round" stroke-linecap="round"/>
<path d="M626.5 1150.6 L639.4 1145.5" fill="none" stroke="#111" stroke-width="2.0" stroke-linejoin="round" stroke-linecap="round"/>
<path d="M758.1 1230.6 L776.1 1222.9 L812.3 1220.3 L838.1 1220.3 L863.9 1217.7 L900.0 1225.5" fill="none" stroke="#111" stroke-width="2.0" stroke-linejoin="round" stroke-linecap="round"/>
<path d="M776.1 1222.9 L773.5 1250.0" fill="none" stroke="#111" stroke-width="2.0" stroke-linejoin="round" stroke-linecap="round"/>
<path d="M791.6 1221.6 L789.0 1250.0" fill="none" stroke="#111" stroke-width="2.0" stroke-linejoin="round" stroke-linecap="round"/>
<path d="M807.1 1221.6 L809.7 1250.0" fill="none" stroke="#111" stroke-width="2.0" stroke-linejoin="round" stroke-linecap="round"/>
<path d="M827.7 1220.3 L825.2 1250.0" fill="none" stroke="#111" stroke-width="2.0" stroke-linejoin="round" stroke-linecap="round"/>
<path d="M848.4 1207.4 L845.8 1250.0" fill="none" stroke="#111" stroke-width="2.0" stroke-linejoin="round" stroke-linecap="round"/>
<path d="M863.9 1220.3 L866.5 1250.0" fill="none" stroke="#111" stroke-width="2.0" stroke-linejoin="round" stroke-linecap="round"/>
<path d="M889.7 1225.5 L887.1 1250.0" fill="none" stroke="#111" stroke-width="2.0" stroke-linejoin="round" stroke-linecap="round"/>
<path d="M758.1 1230.6 L750.3 1250.0" fill="none" stroke="#111" stroke-width="2.0" stroke-linejoin="round" stroke-linecap="round"/>
<ellipse cx="773.5" cy="1195.8" rx="10.8" ry="7.2" fill="url(#rg)" stroke="#111" stroke-width="1.8"/>
<ellipse cx="790.3" cy="1191.9" rx="9.8" ry="7.2" fill="url(#rg)" stroke="#111" stroke-width="1.8"/>
<ellipse cx="805.0" cy="1189.4" rx="8.8" ry="8.8" fill="url(#rg)" stroke="#111" stroke-width="1.8"/>
<path d="M605.8 1151.9 L609.7 1140.3 L617.4 1135.2 L623.9 1139.0 L625.2 1151.9 L616.1 1158.4Z" fill="url(#dk)" stroke="#111" stroke-width="2"/>
<path d="M768.4 1153.2 L776.1 1148.1 L786.5 1153.2 L787.7 1163.5 L778.7 1171.3 L771.0 1168.7Z" fill="url(#dk)" stroke="#111" stroke-width="2"/>
<path d="M911.6 1163.5 L933.5 1124.8 L933.5 1181.6 L911.6 1179.0Z" fill="url(#bt)"/>
<path d="M934.8 1173.9 L949.0 1123.5 L947.7 1177.7Z" fill="url(#bt)"/>
<path d="M947.7 1161.0 L964.5 1142.9 L963.2 1176.5Z" fill="url(#bt)"/>
<path d="M972.3 1163.5 L977.4 1101.6 L972.3 1176.5Z" fill="url(#bt)"/>
<path d="M973.5 1163.5 L996.8 1149.4 L992.9 1184.2Z" fill="url(#bt)"/>
<path d="M994.2 1173.9 L1012.3 1144.2 L1009.7 1191.9Z" fill="url(#bt)"/>
<path d="M1031.6 1186.8 L1054.8 1161.0 L1052.3 1197.1Z" fill="url(#bt)"/>
<path d="M1053.5 1179.0 L1071.6 1140.3 L1063.9 1194.5Z" fill="url(#bt)"/>
<path d="M1012.3 1173.9 L1036.8 1161.0 L1030.3 1199.7Z" fill="url(#gt)"/>
<path d="M896.1 1179.0 L894.8 1130.0 L910.3 1179.0Z" fill="url(#gt)"/>
<path d="M884.5 1185.5 L896.1 1179.0 L911.6 1179.0 L932.3 1181.6 L934.8 1177.7 L963.2 1176.5 L973.5 1179.0 L994.2 1184.2 L1009.7 1191.9 L1030.3 1199.7 L1051.0 1197.1 L1063.9 1194.5" fill="none" stroke="#111" stroke-width="2.0" stroke-linejoin="round" stroke-linecap="round"/>
<path d="M887.1 1161.0 L891.0 1181.6" fill="none" stroke="#111" stroke-width="2.0" stroke-linejoin="round" stroke-linecap="round"/>
<path d="M894.8 1130.0 L897.4 1179.0" fill="none" stroke="#111" stroke-width="2.0" stroke-linejoin="round" stroke-linecap="round"/>
<path d="M906.5 1131.3 L910.3 1179.0" fill="none" stroke="#111" stroke-width="2.0" stroke-linejoin="round" stroke-linecap="round"/>
<path d="M933.5 1124.8 L933.5 1181.6" fill="none" stroke="#111" stroke-width="2.0" stroke-linejoin="round" stroke-linecap="round"/>
<path d="M949.0 1122.3 L946.5 1177.7" fill="none" stroke="#111" stroke-width="2.0" stroke-linejoin="round" stroke-linecap="round"/>
<path d="M964.5 1141.6 L963.2 1176.5" fill="none" stroke="#111" stroke-width="2.0" stroke-linejoin="round" stroke-linecap="round"/>
<path d="M977.4 1099.0 L977.4 1127.4 L972.3 1176.5" fill="none" stroke="#111" stroke-width="2.0" stroke-linejoin="round" stroke-linecap="round"/>
<path d="M996.8 1149.4 L992.9 1184.2" fill="none" stroke="#111" stroke-width="2.0" stroke-linejoin="round" stroke-linecap="round"/>
<path d="M1012.3 1142.9 L1009.7 1191.9" fill="none" stroke="#111" stroke-width="2.0" stroke-linejoin="round" stroke-linecap="round"/>
<path d="M1036.8 1161.0 L1030.3 1199.7" fill="none" stroke="#111" stroke-width="2.0" stroke-linejoin="round" stroke-linecap="round"/>
<path d="M1054.8 1161.0 L1052.3 1197.1" fill="none" stroke="#111" stroke-width="2.0" stroke-linejoin="round" stroke-linecap="round"/>
<path d="M1071.6 1140.3 L1063.9 1194.5" fill="none" stroke="#111" stroke-width="2.0" stroke-linejoin="round" stroke-linecap="round"/>
<path d="M874.2 1066.8 L869.0 1101.6 L871.6 1127.4" fill="none" stroke="#111" stroke-width="2.0" stroke-linejoin="round" stroke-linecap="round"/>
<path d="M892.3 1087.4 L880.6 1124.8" fill="none" stroke="#111" stroke-width="2.0" stroke-linejoin="round" stroke-linecap="round"/>
<path d="M580.0 1130.0 L595.5 1148.1 L608.4 1158.4 L631.6 1171.3 L657.4 1181.6 L688.4 1189.4 L724.5 1190.6 L747.7 1186.8 L763.2 1181.6 L786.5 1176.5 L812.3 1176.5 L827.7 1184.2 L843.2 1194.5 L869.0 1199.7 L900.0 1201.0" fill="none" stroke="#f4b120" stroke-width="4.2" stroke-dasharray="4.2 3.8" stroke-linejoin="round"/>
<path d="M613.5 1146.8 L639.4 1131.3 L670.3 1115.8 L698.7 1109.9 L724.5 1111.9 L750.3 1114.5 L765.8 1132.6 L781.3 1158.4 L783.9 1163.5" fill="none" stroke="#f4b120" stroke-width="4.2" stroke-dasharray="4.2 3.8" stroke-linejoin="round"/>
<path d="M911.6 1198.4 L937.4 1194.5 L963.2 1190.6 L968.4 1191.9 L978.7 1199.7 L989.0 1215.2 L986.5 1220.3 L965.8 1228.1 L973.5 1238.4 L978.7 1243.5 L963.2 1250.0" fill="none" stroke="#f4b120" stroke-width="4.2" stroke-dasharray="4.2 3.8" stroke-linejoin="round"/>
<ellipse cx="621.3" cy="1181.6" rx="2.7" ry="2.0" fill="#fff" stroke="#1a1a1a" stroke-width="1.05"/>
<ellipse cx="647.1" cy="1186.8" rx="2.7" ry="2.0" fill="#fff" stroke="#1a1a1a" stroke-width="1.05"/>
<ellipse cx="657.4" cy="1194.5" rx="2.7" ry="2.0" fill="#fff" stroke="#1a1a1a" stroke-width="1.05"/>
<ellipse cx="665.2" cy="1198.4" rx="2.7" ry="2.0" fill="#fff" stroke="#1a1a1a" stroke-width="1.05"/>
<ellipse cx="672.9" cy="1195.8" rx="2.7" ry="2.0" fill="#fff" stroke="#1a1a1a" stroke-width="1.05"/>
<ellipse cx="654.8" cy="1202.3" rx="2.7" ry="2.0" fill="#fff" stroke="#1a1a1a" stroke-width="1.05"/>
<ellipse cx="693.5" cy="1194.5" rx="2.7" ry="2.0" fill="#fff" stroke="#1a1a1a" stroke-width="1.05"/>
<ellipse cx="701.3" cy="1198.4" rx="2.7" ry="2.0" fill="#fff" stroke="#1a1a1a" stroke-width="1.05"/>
<ellipse cx="714.2" cy="1199.7" rx="2.7" ry="2.0" fill="#fff" stroke="#1a1a1a" stroke-width="1.05"/>
<ellipse cx="724.5" cy="1198.4" rx="2.7" ry="2.0" fill="#fff" stroke="#1a1a1a" stroke-width="1.05"/>
<ellipse cx="734.8" cy="1199.7" rx="2.7" ry="2.0" fill="#fff" stroke="#1a1a1a" stroke-width="1.05"/>
<ellipse cx="745.2" cy="1198.4" rx="2.7" ry="2.0" fill="#fff" stroke="#1a1a1a" stroke-width="1.05"/>
<ellipse cx="758.1" cy="1197.1" rx="2.7" ry="2.0" fill="#fff" stroke="#1a1a1a" stroke-width="1.05"/>
<ellipse cx="765.8" cy="1199.7" rx="2.7" ry="2.0" fill="#fff" stroke="#1a1a1a" stroke-width="1.05"/>
<ellipse cx="778.7" cy="1179.0" rx="2.7" ry="2.0" fill="#fff" stroke="#1a1a1a" stroke-width="1.05"/>
<ellipse cx="809.7" cy="1171.3" rx="2.7" ry="2.0" fill="#fff" stroke="#1a1a1a" stroke-width="1.05"/>
<ellipse cx="820.0" cy="1171.3" rx="2.7" ry="2.0" fill="#fff" stroke="#1a1a1a" stroke-width="1.05"/>
<ellipse cx="827.7" cy="1189.4" rx="2.7" ry="2.0" fill="#fff" stroke="#1a1a1a" stroke-width="1.05"/>
<ellipse cx="838.1" cy="1189.4" rx="2.7" ry="2.0" fill="#fff" stroke="#1a1a1a" stroke-width="1.05"/>
<ellipse cx="845.8" cy="1186.8" rx="2.7" ry="2.0" fill="#fff" stroke="#1a1a1a" stroke-width="1.05"/>
<ellipse cx="856.1" cy="1191.9" rx="2.7" ry="2.0" fill="#fff" stroke="#1a1a1a" stroke-width="1.05"/>
<ellipse cx="838.1" cy="1204.8" rx="2.7" ry="2.0" fill="#fff" stroke="#1a1a1a" stroke-width="1.05"/>
<ellipse cx="827.7" cy="1206.1" rx="2.7" ry="2.0" fill="#fff" stroke="#1a1a1a" stroke-width="1.05"/>
<ellipse cx="812.3" cy="1201.0" rx="2.7" ry="2.0" fill="#fff" stroke="#1a1a1a" stroke-width="1.05"/>
<ellipse cx="801.9" cy="1206.1" rx="2.7" ry="2.0" fill="#fff" stroke="#1a1a1a" stroke-width="1.05"/>
<ellipse cx="817.4" cy="1210.0" rx="2.7" ry="2.0" fill="#fff" stroke="#1a1a1a" stroke-width="1.05"/>
<ellipse cx="853.5" cy="1204.8" rx="2.7" ry="2.0" fill="#fff" stroke="#1a1a1a" stroke-width="1.05"/>
<ellipse cx="863.9" cy="1212.6" rx="2.7" ry="2.0" fill="#fff" stroke="#1a1a1a" stroke-width="1.05"/>
<ellipse cx="887.1" cy="1197.1" rx="2.7" ry="2.0" fill="#fff" stroke="#1a1a1a" stroke-width="1.05"/>
<ellipse cx="894.8" cy="1204.8" rx="2.7" ry="2.0" fill="#fff" stroke="#1a1a1a" stroke-width="1.05"/>
<ellipse cx="889.7" cy="1215.2" rx="2.7" ry="2.0" fill="#fff" stroke="#1a1a1a" stroke-width="1.05"/>
<ellipse cx="894.8" cy="1220.3" rx="2.7" ry="2.0" fill="#fff" stroke="#1a1a1a" stroke-width="1.05"/>
<ellipse cx="644.5" cy="1168.7" rx="2.7" ry="2.0" fill="#fff" stroke="#1a1a1a" stroke-width="1.05"/>
<ellipse cx="658.7" cy="1167.4" rx="2.7" ry="2.0" fill="#fff" stroke="#1a1a1a" stroke-width="1.05"/>
<ellipse cx="680.6" cy="1172.6" rx="2.7" ry="2.0" fill="#fff" stroke="#1a1a1a" stroke-width="1.05"/>
<ellipse cx="709.0" cy="1176.5" rx="2.7" ry="2.0" fill="#fff" stroke="#1a1a1a" stroke-width="1.05"/>
<ellipse cx="755.5" cy="1176.5" rx="2.7" ry="2.0" fill="#fff" stroke="#1a1a1a" stroke-width="1.05"/>
<ellipse cx="835.5" cy="1181.6" rx="2.7" ry="2.0" fill="#fff" stroke="#1a1a1a" stroke-width="1.05"/>
<ellipse cx="585.2" cy="1137.7" rx="2.7" ry="2.0" fill="#fff" stroke="#1a1a1a" stroke-width="1.05"/>
<ellipse cx="595.5" cy="1135.2" rx="2.7" ry="2.0" fill="#fff" stroke="#1a1a1a" stroke-width="1.05"/>
<ellipse cx="896.1" cy="1185.5" rx="2.7" ry="2.0" fill="#fff" stroke="#1a1a1a" stroke-width="1.05"/>
<ellipse cx="905.2" cy="1184.2" rx="2.7" ry="2.0" fill="#fff" stroke="#1a1a1a" stroke-width="1.05"/>
<ellipse cx="912.9" cy="1182.9" rx="2.7" ry="2.0" fill="#fff" stroke="#1a1a1a" stroke-width="1.05"/>
<ellipse cx="898.7" cy="1191.9" rx="2.7" ry="2.0" fill="#fff" stroke="#1a1a1a" stroke-width="1.05"/>
<ellipse cx="911.6" cy="1190.6" rx="2.7" ry="2.0" fill="#fff" stroke="#1a1a1a" stroke-width="1.05"/>
<ellipse cx="919.4" cy="1189.4" rx="2.7" ry="2.0" fill="#fff" stroke="#1a1a1a" stroke-width="1.05"/>
<ellipse cx="928.4" cy="1184.2" rx="2.7" ry="2.0" fill="#fff" stroke="#1a1a1a" stroke-width="1.05"/>
<ellipse cx="937.4" cy="1182.9" rx="2.7" ry="2.0" fill="#fff" stroke="#1a1a1a" stroke-width="1.05"/>
<ellipse cx="947.7" cy="1179.0" rx="2.7" ry="2.0" fill="#fff" stroke="#1a1a1a" stroke-width="1.05"/>
<ellipse cx="955.5" cy="1182.9" rx="2.7" ry="2.0" fill="#fff" stroke="#1a1a1a" stroke-width="1.05"/>
<ellipse cx="964.5" cy="1182.9" rx="2.7" ry="2.0" fill="#fff" stroke="#1a1a1a" stroke-width="1.05"/>
<ellipse cx="978.7" cy="1182.9" rx="2.7" ry="2.0" fill="#fff" stroke="#1a1a1a" stroke-width="1.05"/>
<ellipse cx="865.2" cy="1206.1" rx="2.7" ry="2.0" fill="#fff" stroke="#1a1a1a" stroke-width="1.05"/>
<ellipse cx="874.2" cy="1210.0" rx="2.7" ry="2.0" fill="#fff" stroke="#1a1a1a" stroke-width="1.05"/>
<ellipse cx="888.4" cy="1208.7" rx="2.7" ry="2.0" fill="#fff" stroke="#1a1a1a" stroke-width="1.05"/>
<ellipse cx="903.9" cy="1217.7" rx="2.7" ry="2.0" fill="#fff" stroke="#1a1a1a" stroke-width="1.05"/>
<ellipse cx="919.4" cy="1211.3" rx="2.7" ry="2.0" fill="#fff" stroke="#1a1a1a" stroke-width="1.05"/>
<ellipse cx="929.7" cy="1207.4" rx="2.7" ry="2.0" fill="#fff" stroke="#1a1a1a" stroke-width="1.05"/>
<ellipse cx="937.4" cy="1204.8" rx="2.7" ry="2.0" fill="#fff" stroke="#1a1a1a" stroke-width="1.05"/>
<ellipse cx="943.9" cy="1208.7" rx="2.7" ry="2.0" fill="#fff" stroke="#1a1a1a" stroke-width="1.05"/>
<ellipse cx="929.7" cy="1213.9" rx="2.7" ry="2.0" fill="#fff" stroke="#1a1a1a" stroke-width="1.05"/>
<ellipse cx="936.1" cy="1212.6" rx="2.7" ry="2.0" fill="#fff" stroke="#1a1a1a" stroke-width="1.05"/>
<ellipse cx="936.1" cy="1220.3" rx="2.7" ry="2.0" fill="#fff" stroke="#1a1a1a" stroke-width="1.05"/>
<ellipse cx="943.9" cy="1217.7" rx="2.7" ry="2.0" fill="#fff" stroke="#1a1a1a" stroke-width="1.05"/>
<ellipse cx="959.4" cy="1204.8" rx="2.7" ry="2.0" fill="#fff" stroke="#1a1a1a" stroke-width="1.05"/>
<ellipse cx="965.8" cy="1202.3" rx="2.7" ry="2.0" fill="#fff" stroke="#1a1a1a" stroke-width="1.05"/>
<ellipse cx="973.5" cy="1206.1" rx="2.7" ry="2.0" fill="#fff" stroke="#1a1a1a" stroke-width="1.05"/>
<ellipse cx="958.1" cy="1212.6" rx="2.7" ry="2.0" fill="#fff" stroke="#1a1a1a" stroke-width="1.05"/>
<ellipse cx="965.8" cy="1210.0" rx="2.7" ry="2.0" fill="#fff" stroke="#1a1a1a" stroke-width="1.05"/>
<ellipse cx="973.5" cy="1213.9" rx="2.7" ry="2.0" fill="#fff" stroke="#1a1a1a" stroke-width="1.05"/>
<ellipse cx="964.5" cy="1217.7" rx="2.7" ry="2.0" fill="#fff" stroke="#1a1a1a" stroke-width="1.05"/>
<ellipse cx="989.0" cy="1197.1" rx="2.7" ry="2.0" fill="#fff" stroke="#1a1a1a" stroke-width="1.05"/>
<ellipse cx="1003.2" cy="1198.4" rx="2.7" ry="2.0" fill="#fff" stroke="#1a1a1a" stroke-width="1.05"/>
<ellipse cx="1005.8" cy="1206.1" rx="2.7" ry="2.0" fill="#fff" stroke="#1a1a1a" stroke-width="1.05"/>
<ellipse cx="1013.5" cy="1203.5" rx="2.7" ry="2.0" fill="#fff" stroke="#1a1a1a" stroke-width="1.05"/>
<ellipse cx="1020.0" cy="1207.4" rx="2.7" ry="2.0" fill="#fff" stroke="#1a1a1a" stroke-width="1.05"/>
<ellipse cx="1004.5" cy="1213.9" rx="2.7" ry="2.0" fill="#fff" stroke="#1a1a1a" stroke-width="1.05"/>
<ellipse cx="1012.3" cy="1211.3" rx="2.7" ry="2.0" fill="#fff" stroke="#1a1a1a" stroke-width="1.05"/>
<ellipse cx="1020.0" cy="1215.2" rx="2.7" ry="2.0" fill="#fff" stroke="#1a1a1a" stroke-width="1.05"/>
<ellipse cx="1011.0" cy="1219.0" rx="2.7" ry="2.0" fill="#fff" stroke="#1a1a1a" stroke-width="1.05"/>
<ellipse cx="911.6" cy="1234.5" rx="2.7" ry="2.0" fill="#fff" stroke="#1a1a1a" stroke-width="1.05"/>
<ellipse cx="920.6" cy="1230.6" rx="2.7" ry="2.0" fill="#fff" stroke="#1a1a1a" stroke-width="1.05"/>
<ellipse cx="927.1" cy="1234.5" rx="2.7" ry="2.0" fill="#fff" stroke="#1a1a1a" stroke-width="1.05"/>
<ellipse cx="934.8" cy="1234.5" rx="2.7" ry="2.0" fill="#fff" stroke="#1a1a1a" stroke-width="1.05"/>
<ellipse cx="942.6" cy="1230.6" rx="2.7" ry="2.0" fill="#fff" stroke="#1a1a1a" stroke-width="1.05"/>
<ellipse cx="949.0" cy="1234.5" rx="2.7" ry="2.0" fill="#fff" stroke="#1a1a1a" stroke-width="1.05"/>
<ellipse cx="990.3" cy="1233.2" rx="2.7" ry="2.0" fill="#fff" stroke="#1a1a1a" stroke-width="1.05"/>
<ellipse cx="998.1" cy="1230.6" rx="2.7" ry="2.0" fill="#fff" stroke="#1a1a1a" stroke-width="1.05"/>
<ellipse cx="1004.5" cy="1233.2" rx="2.7" ry="2.0" fill="#fff" stroke="#1a1a1a" stroke-width="1.05"/>
<ellipse cx="989.0" cy="1239.7" rx="2.7" ry="2.0" fill="#fff" stroke="#1a1a1a" stroke-width="1.05"/>
<ellipse cx="996.8" cy="1237.1" rx="2.7" ry="2.0" fill="#fff" stroke="#1a1a1a" stroke-width="1.05"/>
<ellipse cx="1005.8" cy="1242.3" rx="2.7" ry="2.0" fill="#fff" stroke="#1a1a1a" stroke-width="1.05"/>
<ellipse cx="996.8" cy="1244.8" rx="2.7" ry="2.0" fill="#fff" stroke="#1a1a1a" stroke-width="1.05"/>
<text x="655.0" y="1068.6" font-size="20" fill="#000" text-anchor="start" textLength="99.2" lengthAdjust="spacingAndGlyphs">Kriegstunnel/</text>
<text x="655.0" y="1087.7" font-size="20" fill="#000" text-anchor="start" textLength="78.4" lengthAdjust="spacingAndGlyphs">war tunnel</text>
<text x="654.3" y="1219.5" font-size="20" fill="#000" text-anchor="start" textLength="121.0" lengthAdjust="spacingAndGlyphs">Blöcke/boulders</text>
<path d="M748.4 1252.0 L753.2 1236.3 L775.0 1220.6 L834.3 1223.0 L850.0 1207.3 L864.5 1212.1 L897.2 1225.4 L898.4 1260.5 L857.3 1294.4 L844.0 1265.3 L840.3 1287.1 L801.6 1299.2 L772.6 1304.0 L749.6 1294.4 L741.1 1264.1Z" fill="url(#rg)"/>
<path d="M857.3 1294.4 L858.5 1275.0 L883.9 1259.3 L893.5 1260.5 L900.8 1284.7 L896.0 1316.1 L869.4 1335.5 L854.8 1342.7 L845.2 1342.7 L854.8 1308.9Z" fill="url(#rg)"/>
<path d="M767.7 1393.5 L772.6 1358.5 L818.5 1351.2 L828.2 1346.4 L864.5 1354.8 L835.5 1369.4 L816.1 1383.9Z" fill="url(#rg)"/>
<path d="M808.9 1396.0 L845.2 1379.0 L893.5 1350.0 L929.8 1330.6 L961.3 1331.9 L1000.0 1340.3 L1000.0 1388.7 L987.9 1388.7 L975.8 1369.4 L960.1 1364.5 L939.5 1369.4 L905.6 1374.2 L869.4 1400.1 L808.9 1400.1Z" fill="url(#rg)"/>
<path d="M905.6 1277.4 L908.1 1253.2 L915.3 1246.0 L927.4 1241.1 L951.6 1241.1 L954.0 1247.2 L961.3 1260.5 L973.4 1265.3 L985.5 1277.4 L932.3 1275.0 L927.4 1277.4Z" fill="url(#rg)"/>
<path d="M594.2 1463.2 L599.4 1393.5 L629.0 1420.6 L657.4 1428.4 L716.8 1405.2 L760.6 1398.7 L771.0 1360.0 L820.0 1360.0 L820.0 1378.1 L804.5 1388.4 L776.1 1393.5 L765.8 1432.3 L734.8 1468.4 L703.9 1489.0 L667.7 1490.3 L622.6 1480.0Z" fill="url(#rl)"/>
<path d="M799.4 1437.4 L799.4 1416.8 L812.3 1396.1 L848.4 1383.2 L900.0 1360.0 L900.0 1391.0 L889.7 1393.5 L871.6 1414.2 L853.5 1419.4 L843.2 1416.8 L832.9 1437.4 L812.3 1409.0Z" fill="url(#rg)"/>
<path d="M760.6 1473.5 L765.8 1452.9 L786.5 1442.6 L807.1 1450.3 L811.0 1458.1 L786.5 1481.3 L745.2 1504.5 L724.5 1520.0 L721.9 1509.7 L740.0 1494.2Z" fill="url(#rg)"/>
<path d="M880.0 1361.9 L901.3 1346.5 L912.9 1336.8 L932.3 1331.0 L955.5 1329.0 L978.7 1331.0 L1000.0 1343.5 L1021.3 1332.9 L1054.2 1331.9 L1063.9 1346.5 L1073.5 1367.7 L1072.6 1407.4 L1005.8 1419.0 L881.9 1400.6Z" fill="url(#rg)"/>
<path d="M748.4 1252.0 L753.2 1236.3 L762.9 1229.0 L775.0 1220.6 L804.0 1219.4 L825.8 1219.4 L834.3 1223.0 L837.9 1248.4 L840.3 1250.8 L842.7 1265.3" fill="none" stroke="#111" stroke-width="2.0" stroke-linejoin="round" stroke-linecap="round"/>
<path d="M845.2 1229.0 L850.0 1207.3 L864.5 1212.1 L869.4 1241.1" fill="none" stroke="#111" stroke-width="2.0" stroke-linejoin="round" stroke-linecap="round"/>
<path d="M866.9 1219.4 L891.1 1220.6 L897.2 1225.4 L898.4 1260.5" fill="none" stroke="#111" stroke-width="2.0" stroke-linejoin="round" stroke-linecap="round"/>
<path d="M741.1 1264.1 L749.6 1294.4" fill="none" stroke="#111" stroke-width="2.0" stroke-linejoin="round" stroke-linecap="round"/>
<path d="M759.3 1255.6 L764.1 1294.4" fill="none" stroke="#111" stroke-width="2.0" stroke-linejoin="round" stroke-linecap="round"/>
<path d="M770.2 1250.8 L772.6 1304.0" fill="none" stroke="#111" stroke-width="2.0" stroke-linejoin="round" stroke-linecap="round"/>
<path d="M775.0 1221.8 L773.8 1248.4" fill="none" stroke="#111" stroke-width="2.0" stroke-linejoin="round" stroke-linecap="round"/>
<path d="M790.7 1221.8 L789.5 1255.6" fill="none" stroke="#111" stroke-width="2.0" stroke-linejoin="round" stroke-linecap="round"/>
<path d="M789.5 1254.4 L801.6 1299.2" fill="none" stroke="#111" stroke-width="2.0" stroke-linejoin="round" stroke-linecap="round"/>
<path d="M805.2 1223.0 L811.3 1279.8" fill="none" stroke="#111" stroke-width="2.0" stroke-linejoin="round" stroke-linecap="round"/>
<path d="M823.4 1220.6 L825.8 1246.0" fill="none" stroke="#111" stroke-width="2.0" stroke-linejoin="round" stroke-linecap="round"/>
<path d="M835.5 1246.0 L840.3 1287.1" fill="none" stroke="#111" stroke-width="2.0" stroke-linejoin="round" stroke-linecap="round"/>
<path d="M842.7 1231.5 L854.8 1231.5" fill="none" stroke="#111" stroke-width="2.0" stroke-linejoin="round" stroke-linecap="round"/>
<path d="M845.2 1229.0 L844.0 1265.3" fill="none" stroke="#111" stroke-width="2.0" stroke-linejoin="round" stroke-linecap="round"/>
<path d="M879.0 1219.4 L883.9 1250.8" fill="none" stroke="#111" stroke-width="2.0" stroke-linejoin="round" stroke-linecap="round"/>
<path d="M888.7 1221.8 L891.1 1253.2" fill="none" stroke="#111" stroke-width="2.0" stroke-linejoin="round" stroke-linecap="round"/>
<path d="M857.3 1294.4 L858.5 1275.0 L866.9 1265.3 L874.2 1262.9 L883.9 1259.3 L893.5 1260.5 L900.8 1284.7 L896.0 1299.2 L896.0 1316.1 L869.4 1335.5 L854.8 1342.7" fill="none" stroke="#111" stroke-width="2.0" stroke-linejoin="round" stroke-linecap="round"/>
<path d="M869.4 1264.1 L866.9 1294.4" fill="none" stroke="#111" stroke-width="2.0" stroke-linejoin="round" stroke-linecap="round"/>
<path d="M893.5 1284.7 L894.8 1311.3" fill="none" stroke="#111" stroke-width="2.0" stroke-linejoin="round" stroke-linecap="round"/>
<path d="M881.5 1304.0 L880.2 1335.5" fill="none" stroke="#111" stroke-width="2.0" stroke-linejoin="round" stroke-linecap="round"/>
<path d="M866.9 1316.1 L862.1 1337.9" fill="none" stroke="#111" stroke-width="2.0" stroke-linejoin="round" stroke-linecap="round"/>
<path d="M767.7 1393.5 L791.9 1386.3 L816.1 1383.9 L835.5 1369.4 L864.5 1354.8 L893.5 1321.0" fill="none" stroke="#111" stroke-width="2.0" stroke-linejoin="round" stroke-linecap="round"/>
<path d="M772.6 1358.5 L777.4 1383.9" fill="none" stroke="#111" stroke-width="2.0" stroke-linejoin="round" stroke-linecap="round"/>
<path d="M787.1 1354.8 L793.1 1383.9" fill="none" stroke="#111" stroke-width="2.0" stroke-linejoin="round" stroke-linecap="round"/>
<path d="M804.0 1362.1 L804.0 1383.9" fill="none" stroke="#111" stroke-width="2.0" stroke-linejoin="round" stroke-linecap="round"/>
<path d="M818.5 1351.2 L818.5 1381.5" fill="none" stroke="#111" stroke-width="2.0" stroke-linejoin="round" stroke-linecap="round"/>
<path d="M828.2 1346.4 L831.9 1369.4" fill="none" stroke="#111" stroke-width="2.0" stroke-linejoin="round" stroke-linecap="round"/>
<path d="M808.9 1396.0 L825.8 1386.3 L845.2 1379.0 L869.4 1366.9 L893.5 1350.0 L905.6 1340.3 L929.8 1330.6 L944.4 1329.4 L961.3 1331.9 L978.2 1337.9 L1000.0 1340.3" fill="none" stroke="#111" stroke-width="2.0" stroke-linejoin="round" stroke-linecap="round"/>
<path d="M908.1 1350.0 L905.6 1374.2" fill="none" stroke="#111" stroke-width="2.0" stroke-linejoin="round" stroke-linecap="round"/>
<path d="M941.9 1330.6 L939.5 1369.4" fill="none" stroke="#111" stroke-width="2.0" stroke-linejoin="round" stroke-linecap="round"/>
<path d="M956.5 1333.1 L960.1 1364.5" fill="none" stroke="#111" stroke-width="2.0" stroke-linejoin="round" stroke-linecap="round"/>
<path d="M978.2 1337.9 L975.8 1369.4" fill="none" stroke="#111" stroke-width="2.0" stroke-linejoin="round" stroke-linecap="round"/>
<path d="M995.2 1340.3 L987.9 1388.7" fill="none" stroke="#111" stroke-width="2.0" stroke-linejoin="round" stroke-linecap="round"/>
<path d="M905.6 1277.4 L908.1 1253.2 L915.3 1246.0 L927.4 1241.1 L951.6 1241.1 L954.0 1247.2" fill="none" stroke="#111" stroke-width="2.0" stroke-linejoin="round" stroke-linecap="round"/>
<path d="M927.4 1243.5 L932.3 1258.1" fill="none" stroke="#111" stroke-width="2.0" stroke-linejoin="round" stroke-linecap="round"/>
<path d="M941.9 1242.3 L944.4 1252.0" fill="none" stroke="#111" stroke-width="2.0" stroke-linejoin="round" stroke-linecap="round"/>
<path d="M934.7 1261.7 L961.3 1260.5 L973.4 1265.3 L985.5 1277.4" fill="none" stroke="#111" stroke-width="2.0" stroke-linejoin="round" stroke-linecap="round"/>
<path d="M961.3 1261.7 L963.7 1272.6" fill="none" stroke="#111" stroke-width="2.0" stroke-linejoin="round" stroke-linecap="round"/>
<path d="M905.6 1277.4 L927.4 1277.4 L932.3 1272.6" fill="none" stroke="#111" stroke-width="2.0" stroke-linejoin="round" stroke-linecap="round"/>
<path d="M932.3 1275.0 L944.4 1277.4" fill="none" stroke="#111" stroke-width="2.0" stroke-linejoin="round" stroke-linecap="round"/>
<path d="M905.6 1262.9 L912.9 1258.1" fill="none" stroke="#111" stroke-width="2.0" stroke-linejoin="round" stroke-linecap="round"/>
<path d="M845.2 1342.7 L854.8 1330.6 L860.9 1333.1 L866.9 1345.2 L858.5 1353.6 L847.6 1352.4Z" fill="url(#dk)" stroke="#111" stroke-width="2"/>
<path d="M594.2 1463.2 L608.4 1473.5 L622.6 1480.0 L638.1 1483.9 L667.7 1490.3 L688.4 1492.9 L703.9 1489.0 L716.8 1482.6 L734.8 1468.4 L747.7 1458.1 L765.8 1432.3 L771.0 1398.7 L776.1 1393.5 L804.5 1388.4" fill="none" stroke="#111" stroke-width="2.0" stroke-linejoin="round" stroke-linecap="round"/>
<path d="M599.4 1393.5 L594.2 1463.2" fill="none" stroke="#111" stroke-width="2.0" stroke-linejoin="round" stroke-linecap="round"/>
<path d="M608.4 1450.3 L607.1 1473.5" fill="none" stroke="#111" stroke-width="2.0" stroke-linejoin="round" stroke-linecap="round"/>
<path d="M629.0 1420.6 L622.6 1480.0" fill="none" stroke="#111" stroke-width="2.0" stroke-linejoin="round" stroke-linecap="round"/>
<path d="M640.6 1447.7 L638.1 1483.9" fill="none" stroke="#111" stroke-width="2.0" stroke-linejoin="round" stroke-linecap="round"/>
<path d="M657.4 1428.4 L654.8 1483.9" fill="none" stroke="#111" stroke-width="2.0" stroke-linejoin="round" stroke-linecap="round"/>
<path d="M669.0 1449.0 L667.7 1490.3" fill="none" stroke="#111" stroke-width="2.0" stroke-linejoin="round" stroke-linecap="round"/>
<path d="M692.3 1449.0 L689.7 1492.9" fill="none" stroke="#111" stroke-width="2.0" stroke-linejoin="round" stroke-linecap="round"/>
<path d="M702.6 1438.7 L705.2 1489.0" fill="none" stroke="#111" stroke-width="2.0" stroke-linejoin="round" stroke-linecap="round"/>
<path d="M716.8 1405.2 L720.6 1482.6" fill="none" stroke="#111" stroke-width="2.0" stroke-linejoin="round" stroke-linecap="round"/>
<path d="M729.7 1437.4 L732.3 1468.4" fill="none" stroke="#111" stroke-width="2.0" stroke-linejoin="round" stroke-linecap="round"/>
<path d="M741.3 1419.4 L743.9 1451.6" fill="none" stroke="#111" stroke-width="2.0" stroke-linejoin="round" stroke-linecap="round"/>
<path d="M751.6 1409.0 L755.5 1440.0" fill="none" stroke="#111" stroke-width="2.0" stroke-linejoin="round" stroke-linecap="round"/>
<path d="M760.6 1398.7 L765.8 1427.1" fill="none" stroke="#111" stroke-width="2.0" stroke-linejoin="round" stroke-linecap="round"/>
<path d="M771.0 1360.0 L778.7 1388.4" fill="none" stroke="#111" stroke-width="2.0" stroke-linejoin="round" stroke-linecap="round"/>
<path d="M786.5 1360.0 L791.6 1383.2" fill="none" stroke="#111" stroke-width="2.0" stroke-linejoin="round" stroke-linecap="round"/>
<path d="M801.9 1360.0 L804.5 1380.6" fill="none" stroke="#111" stroke-width="2.0" stroke-linejoin="round" stroke-linecap="round"/>
<path d="M820.0 1360.0 L818.7 1375.5" fill="none" stroke="#111" stroke-width="2.0" stroke-linejoin="round" stroke-linecap="round"/>
<path d="M799.4 1416.8 L804.5 1403.9 L812.3 1396.1 L827.7 1391.0 L848.4 1383.2 L863.9 1378.1 L881.9 1365.2 L900.0 1360.0" fill="none" stroke="#111" stroke-width="2.0" stroke-linejoin="round" stroke-linecap="round"/>
<path d="M812.3 1397.4 L814.8 1409.0" fill="none" stroke="#111" stroke-width="2.0" stroke-linejoin="round" stroke-linecap="round"/>
<path d="M825.2 1392.3 L832.9 1437.4" fill="none" stroke="#111" stroke-width="2.0" stroke-linejoin="round" stroke-linecap="round"/>
<path d="M838.1 1391.0 L843.2 1416.8" fill="none" stroke="#111" stroke-width="2.0" stroke-linejoin="round" stroke-linecap="round"/>
<path d="M851.0 1385.8 L853.5 1419.4" fill="none" stroke="#111" stroke-width="2.0" stroke-linejoin="round" stroke-linecap="round"/>
<path d="M866.5 1378.1 L871.6 1414.2" fill="none" stroke="#111" stroke-width="2.0" stroke-linejoin="round" stroke-linecap="round"/>
<path d="M881.9 1367.7 L889.7 1393.5" fill="none" stroke="#111" stroke-width="2.0" stroke-linejoin="round" stroke-linecap="round"/>
<path d="M794.2 1437.4 L798.1 1420.6 L804.5 1407.7 L813.5 1398.7 L827.7 1394.8 L834.2 1401.3" fill="none" stroke="#111" stroke-width="2.0" stroke-linejoin="round" stroke-linecap="round"/>
<path d="M760.6 1473.5 L764.5 1459.4 L772.3 1451.6 L783.9 1446.5 L795.5 1443.9 L804.5 1449.0 L811.0 1458.1" fill="none" stroke="#111" stroke-width="2.0" stroke-linejoin="round" stroke-linecap="round"/>
<path d="M749.0 1481.3 L755.5 1473.5 L765.8 1469.7 L773.5 1476.1" fill="none" stroke="#111" stroke-width="2.0" stroke-linejoin="round" stroke-linecap="round"/>
<path d="M772.3 1447.7 L776.1 1455.5" fill="none" stroke="#111" stroke-width="2.0" stroke-linejoin="round" stroke-linecap="round"/>
<path d="M786.5 1445.2 L794.2 1460.6" fill="none" stroke="#111" stroke-width="2.0" stroke-linejoin="round" stroke-linecap="round"/>
<path d="M740.0 1495.5 L745.2 1487.7 L754.2 1483.9 L760.6 1486.5" fill="none" stroke="#111" stroke-width="2.0" stroke-linejoin="round" stroke-linecap="round"/>
<path d="M721.9 1509.7 L728.4 1500.6 L737.4 1496.8 L745.2 1498.1" fill="none" stroke="#111" stroke-width="2.0" stroke-linejoin="round" stroke-linecap="round"/>
<path d="M724.5 1509.7 L732.3 1520.0" fill="none" stroke="#111" stroke-width="2.0" stroke-linejoin="round" stroke-linecap="round"/>
<path d="M724.5 1509.7 L734.8 1522.6 L747.7 1530.3 L765.8 1535.5 L786.5 1545.8 L807.1 1553.5" fill="none" stroke="#111" stroke-width="2.0" stroke-linejoin="round" stroke-linecap="round"/>
<path d="M774.1 1402.6 L774.1 1431.0" fill="none" stroke="#111" stroke-width="2.0" stroke-linejoin="round" stroke-linecap="round"/>
<path d="M781.3 1402.6 L781.3 1431.0" fill="none" stroke="#111" stroke-width="2.0" stroke-linejoin="round" stroke-linecap="round"/>
<path d="M774.1 1407.7 L781.3 1407.7" fill="none" stroke="#111" stroke-width="2.0" stroke-linejoin="round" stroke-linecap="round"/>
<path d="M774.1 1414.2 L781.3 1414.2" fill="none" stroke="#111" stroke-width="2.0" stroke-linejoin="round" stroke-linecap="round"/>
<path d="M774.1 1420.6 L781.3 1420.6" fill="none" stroke="#111" stroke-width="2.0" stroke-linejoin="round" stroke-linecap="round"/>
<path d="M774.1 1427.1 L781.3 1427.1" fill="none" stroke="#111" stroke-width="2.0" stroke-linejoin="round" stroke-linecap="round"/>
<path d="M599.4 1393.5 L594.2 1463.2 L576.1 1461.9Z" fill="url(#wg)"/>
<path d="M629.0 1420.6 L622.6 1480.0 L604.5 1478.7Z" fill="url(#wg)"/>
<path d="M657.4 1428.4 L654.8 1483.9 L636.8 1482.6Z" fill="url(#wg)"/>
<path d="M669.0 1449.0 L667.7 1490.3 L649.7 1489.0Z" fill="url(#wg)"/>
<path d="M692.3 1449.0 L689.7 1492.9 L671.6 1491.6Z" fill="url(#wg)"/>
<path d="M716.8 1405.2 L720.6 1482.6 L702.6 1481.3Z" fill="url(#wg)"/>
<path d="M741.3 1419.4 L743.9 1451.6 L725.8 1450.3Z" fill="url(#wg)"/>
<path d="M751.6 1409.0 L755.5 1440.0 L737.4 1438.7Z" fill="url(#wg)"/>
<path d="M640.6 1447.7 L638.1 1483.9 L620.0 1482.6Z" fill="url(#wg)"/>
<path d="M702.6 1438.7 L705.2 1489.0 L687.1 1487.7Z" fill="url(#wg)"/>
<path d="M729.7 1437.4 L732.3 1468.4 L714.2 1467.1Z" fill="url(#wg)"/>
<path d="M734.8 1514.8 L755.5 1494.2 L750.3 1530.3Z" fill="url(#bt)"/>
<path d="M750.3 1520.0 L765.8 1509.7 L768.4 1535.5Z" fill="url(#bt)"/>
<path d="M765.8 1525.2 L781.3 1494.2 L786.5 1545.8Z" fill="url(#bt)"/>
<path d="M783.9 1527.7 L799.4 1504.5 L801.9 1551.0Z" fill="url(#bt)"/>
<path d="M801.9 1540.6 L817.4 1514.8 L814.8 1560.0Z" fill="url(#bt)"/>
<path d="M820.0 1551.0 L838.1 1535.5 L835.5 1560.0Z" fill="url(#bt)"/>
<path d="M838.1 1540.6 L853.5 1514.8 L856.1 1560.0Z" fill="url(#bt)"/>
<path d="M856.1 1545.8 L871.6 1525.2 L869.0 1560.0Z" fill="url(#bt)"/>
<path d="M738.7 1499.4 L738.7 1520.0" fill="none" stroke="#111" stroke-width="2.0" stroke-linejoin="round" stroke-linecap="round"/>
<path d="M755.5 1494.2 L750.3 1530.3" fill="none" stroke="#111" stroke-width="2.0" stroke-linejoin="round" stroke-linecap="round"/>
<path d="M765.8 1509.7 L768.4 1535.5" fill="none" stroke="#111" stroke-width="2.0" stroke-linejoin="round" stroke-linecap="round"/>
<path d="M781.3 1494.2 L786.5 1545.8" fill="none" stroke="#111" stroke-width="2.0" stroke-linejoin="round" stroke-linecap="round"/>
<path d="M799.4 1504.5 L801.9 1551.0" fill="none" stroke="#111" stroke-width="2.0" stroke-linejoin="round" stroke-linecap="round"/>
<path d="M817.4 1514.8 L814.8 1560.0" fill="none" stroke="#111" stroke-width="2.0" stroke-linejoin="round" stroke-linecap="round"/>
<path d="M838.1 1535.5 L835.5 1560.0" fill="none" stroke="#111" stroke-width="2.0" stroke-linejoin="round" stroke-linecap="round"/>
<path d="M853.5 1514.8 L856.1 1560.0" fill="none" stroke="#111" stroke-width="2.0" stroke-linejoin="round" stroke-linecap="round"/>
<path d="M871.6 1525.2 L869.0 1560.0" fill="none" stroke="#111" stroke-width="2.0" stroke-linejoin="round" stroke-linecap="round"/>
<path d="M880.0 1361.9 L889.7 1360.0 L901.3 1346.5 L909.0 1352.3 L912.9 1352.3" fill="none" stroke="#111" stroke-width="2.0" stroke-linejoin="round" stroke-linecap="round"/>
<path d="M903.2 1345.5 L912.9 1336.8 L932.3 1331.0 L943.9 1335.8 L940.0 1377.4" fill="none" stroke="#111" stroke-width="2.0" stroke-linejoin="round" stroke-linecap="round"/>
<path d="M936.1 1329.0 L947.7 1327.1 L959.4 1337.7 L956.5 1364.8" fill="none" stroke="#111" stroke-width="2.0" stroke-linejoin="round" stroke-linecap="round"/>
<path d="M955.5 1329.0 L978.7 1331.0 L980.6 1336.8 L974.8 1368.7" fill="none" stroke="#111" stroke-width="2.0" stroke-linejoin="round" stroke-linecap="round"/>
<path d="M980.6 1337.7 L992.3 1339.7 L994.2 1341.6 L987.4 1391.9" fill="none" stroke="#111" stroke-width="2.0" stroke-linejoin="round" stroke-linecap="round"/>
<path d="M994.2 1341.6 L1000.0 1343.5 L998.1 1390.0" fill="none" stroke="#111" stroke-width="2.0" stroke-linejoin="round" stroke-linecap="round"/>
<path d="M1000.0 1343.5 L1015.5 1337.7 L1032.9 1358.1 L1028.1 1386.1" fill="none" stroke="#111" stroke-width="2.0" stroke-linejoin="round" stroke-linecap="round"/>
<path d="M1015.5 1337.7 L1021.3 1332.9 L1042.6 1331.9 L1043.5 1375.5" fill="none" stroke="#111" stroke-width="2.0" stroke-linejoin="round" stroke-linecap="round"/>
<path d="M1042.6 1332.9 L1054.2 1331.9 L1061.9 1339.7 L1063.9 1346.5 L1062.9 1371.6" fill="none" stroke="#111" stroke-width="2.0" stroke-linejoin="round" stroke-linecap="round"/>
<path d="M1064.8 1345.5 L1068.7 1346.5 L1067.7 1373.5" fill="none" stroke="#111" stroke-width="2.0" stroke-linejoin="round" stroke-linecap="round"/>
<path d="M1068.7 1350.3 L1073.5 1367.7 L1072.6 1407.4" fill="none" stroke="#111" stroke-width="2.0" stroke-linejoin="round" stroke-linecap="round"/>
<path d="M1001.9 1370.6 L1007.7 1375.5 L1005.8 1419.0" fill="none" stroke="#111" stroke-width="2.0" stroke-linejoin="round" stroke-linecap="round"/>
<path d="M1032.9 1363.9 L1036.8 1366.8 L1034.8 1409.4" fill="none" stroke="#111" stroke-width="2.0" stroke-linejoin="round" stroke-linecap="round"/>
<path d="M891.6 1361.9 L888.7 1391.9" fill="none" stroke="#111" stroke-width="2.0" stroke-linejoin="round" stroke-linecap="round"/>
<path d="M880.0 1363.9 L881.9 1400.6" fill="none" stroke="#111" stroke-width="2.0" stroke-linejoin="round" stroke-linecap="round"/>
<path d="M909.0 1352.3 L904.2 1372.6" fill="none" stroke="#111" stroke-width="2.0" stroke-linejoin="round" stroke-linecap="round"/>
<path d="M912.9 1352.3 L909.0 1384.2" fill="none" stroke="#111" stroke-width="2.0" stroke-linejoin="round" stroke-linecap="round"/>
<path d="M783.5 1398.4 L791.9 1393.5 L807.7 1389.9" fill="none" stroke="#b5121b" stroke-width="4.0" stroke-linejoin="round" stroke-linecap="butt"/>
<path d="M807.1 1391.0 L785.2 1397.4 L786.5 1437.4 L773.5 1440.0 L760.6 1447.7 L733.5 1481.3" fill="none" stroke="#b5121b" stroke-width="4.0" stroke-linejoin="round" stroke-linecap="butt"/>
<path d="M980.6 1200.0 L990.3 1214.5 L966.1 1229.0 L978.2 1243.5 L932.3 1258.1 L932.3 1272.6 L937.1 1284.7 L956.5 1304.0 L941.9 1313.7 L912.9 1325.8 L869.4 1352.4 L845.2 1369.4 L816.1 1388.7 L811.3 1391.1" fill="none" stroke="#f4b120" stroke-width="4.2" stroke-dasharray="4.2 3.8" stroke-linejoin="round"/>
<path d="M724.5 1486.5 L701.3 1504.5 L688.4 1520.0 L696.1 1530.3 L714.2 1535.5 L732.3 1541.9" fill="none" stroke="#f4b120" stroke-width="4.2" stroke-dasharray="4.2 3.8" stroke-linejoin="round"/>
<ellipse cx="900.8" cy="1210.9" rx="2.7" ry="2.0" fill="#fff" stroke="#1a1a1a" stroke-width="1.05"/>
<ellipse cx="910.5" cy="1213.3" rx="2.7" ry="2.0" fill="#fff" stroke="#1a1a1a" stroke-width="1.05"/>
<ellipse cx="968.5" cy="1256.9" rx="2.7" ry="2.0" fill="#fff" stroke="#1a1a1a" stroke-width="1.05"/>
<ellipse cx="978.2" cy="1253.2" rx="2.7" ry="2.0" fill="#fff" stroke="#1a1a1a" stroke-width="1.05"/>
<ellipse cx="983.1" cy="1258.1" rx="2.7" ry="2.0" fill="#fff" stroke="#1a1a1a" stroke-width="1.05"/>
<ellipse cx="939.5" cy="1282.3" rx="2.7" ry="2.0" fill="#fff" stroke="#1a1a1a" stroke-width="1.05"/>
<ellipse cx="949.2" cy="1277.4" rx="2.7" ry="2.0" fill="#fff" stroke="#1a1a1a" stroke-width="1.05"/>
<ellipse cx="958.9" cy="1281.0" rx="2.7" ry="2.0" fill="#fff" stroke="#1a1a1a" stroke-width="1.05"/>
<ellipse cx="968.5" cy="1277.4" rx="2.7" ry="2.0" fill="#fff" stroke="#1a1a1a" stroke-width="1.05"/>
<ellipse cx="973.4" cy="1282.3" rx="2.7" ry="2.0" fill="#fff" stroke="#1a1a1a" stroke-width="1.05"/>
<ellipse cx="961.3" cy="1287.1" rx="2.7" ry="2.0" fill="#fff" stroke="#1a1a1a" stroke-width="1.05"/>
<ellipse cx="973.4" cy="1289.5" rx="2.7" ry="2.0" fill="#fff" stroke="#1a1a1a" stroke-width="1.05"/>
<ellipse cx="915.3" cy="1291.9" rx="2.7" ry="2.0" fill="#fff" stroke="#1a1a1a" stroke-width="1.05"/>
<ellipse cx="925.0" cy="1289.5" rx="2.7" ry="2.0" fill="#fff" stroke="#1a1a1a" stroke-width="1.05"/>
<ellipse cx="912.9" cy="1298.0" rx="2.7" ry="2.0" fill="#fff" stroke="#1a1a1a" stroke-width="1.05"/>
<ellipse cx="922.6" cy="1299.2" rx="2.7" ry="2.0" fill="#fff" stroke="#1a1a1a" stroke-width="1.05"/>
<ellipse cx="929.8" cy="1296.8" rx="2.7" ry="2.0" fill="#fff" stroke="#1a1a1a" stroke-width="1.05"/>
<ellipse cx="939.5" cy="1301.6" rx="2.7" ry="2.0" fill="#fff" stroke="#1a1a1a" stroke-width="1.05"/>
<ellipse cx="905.6" cy="1306.5" rx="2.7" ry="2.0" fill="#fff" stroke="#1a1a1a" stroke-width="1.05"/>
<ellipse cx="917.7" cy="1306.5" rx="2.7" ry="2.0" fill="#fff" stroke="#1a1a1a" stroke-width="1.05"/>
<ellipse cx="927.4" cy="1311.3" rx="2.7" ry="2.0" fill="#fff" stroke="#1a1a1a" stroke-width="1.05"/>
<ellipse cx="900.8" cy="1313.7" rx="2.7" ry="2.0" fill="#fff" stroke="#1a1a1a" stroke-width="1.05"/>
<ellipse cx="908.1" cy="1313.7" rx="2.7" ry="2.0" fill="#fff" stroke="#1a1a1a" stroke-width="1.05"/>
<ellipse cx="912.9" cy="1318.5" rx="2.7" ry="2.0" fill="#fff" stroke="#1a1a1a" stroke-width="1.05"/>
<ellipse cx="963.7" cy="1308.9" rx="2.7" ry="2.0" fill="#fff" stroke="#1a1a1a" stroke-width="1.05"/>
<ellipse cx="973.4" cy="1307.7" rx="2.7" ry="2.0" fill="#fff" stroke="#1a1a1a" stroke-width="1.05"/>
<ellipse cx="980.6" cy="1311.3" rx="2.7" ry="2.0" fill="#fff" stroke="#1a1a1a" stroke-width="1.05"/>
<ellipse cx="966.1" cy="1316.1" rx="2.7" ry="2.0" fill="#fff" stroke="#1a1a1a" stroke-width="1.05"/>
<ellipse cx="975.8" cy="1319.8" rx="2.7" ry="2.0" fill="#fff" stroke="#1a1a1a" stroke-width="1.05"/>
<ellipse cx="937.1" cy="1327.0" rx="2.7" ry="2.0" fill="#fff" stroke="#1a1a1a" stroke-width="1.05"/>
<ellipse cx="946.8" cy="1324.6" rx="2.7" ry="2.0" fill="#fff" stroke="#1a1a1a" stroke-width="1.05"/>
<ellipse cx="956.5" cy="1327.0" rx="2.7" ry="2.0" fill="#fff" stroke="#1a1a1a" stroke-width="1.05"/>
<ellipse cx="898.4" cy="1340.3" rx="2.7" ry="2.0" fill="#fff" stroke="#1a1a1a" stroke-width="1.05"/>
<ellipse cx="912.9" cy="1339.1" rx="2.7" ry="2.0" fill="#fff" stroke="#1a1a1a" stroke-width="1.05"/>
<ellipse cx="723.2" cy="1485.2" rx="2.7" ry="2.0" fill="#fff" stroke="#1a1a1a" stroke-width="1.05"/>
<ellipse cx="737.4" cy="1485.2" rx="2.7" ry="2.0" fill="#fff" stroke="#1a1a1a" stroke-width="1.05"/>
<ellipse cx="630.3" cy="1500.6" rx="2.7" ry="2.0" fill="#fff" stroke="#1a1a1a" stroke-width="1.05"/>
<ellipse cx="635.5" cy="1507.1" rx="2.7" ry="2.0" fill="#fff" stroke="#1a1a1a" stroke-width="1.05"/>
<ellipse cx="627.7" cy="1509.7" rx="2.7" ry="2.0" fill="#fff" stroke="#1a1a1a" stroke-width="1.05"/>
<ellipse cx="641.9" cy="1509.7" rx="2.7" ry="2.0" fill="#fff" stroke="#1a1a1a" stroke-width="1.05"/>
<ellipse cx="648.4" cy="1503.2" rx="2.7" ry="2.0" fill="#fff" stroke="#1a1a1a" stroke-width="1.05"/>
<ellipse cx="654.8" cy="1500.6" rx="2.7" ry="2.0" fill="#fff" stroke="#1a1a1a" stroke-width="1.05"/>
<ellipse cx="656.1" cy="1508.4" rx="2.7" ry="2.0" fill="#fff" stroke="#1a1a1a" stroke-width="1.05"/>
<ellipse cx="662.6" cy="1505.8" rx="2.7" ry="2.0" fill="#fff" stroke="#1a1a1a" stroke-width="1.05"/>
<ellipse cx="672.9" cy="1501.9" rx="2.7" ry="2.0" fill="#fff" stroke="#1a1a1a" stroke-width="1.05"/>
<ellipse cx="680.6" cy="1499.4" rx="2.7" ry="2.0" fill="#fff" stroke="#1a1a1a" stroke-width="1.05"/>
<ellipse cx="680.6" cy="1507.1" rx="2.7" ry="2.0" fill="#fff" stroke="#1a1a1a" stroke-width="1.05"/>
<ellipse cx="689.7" cy="1503.2" rx="2.7" ry="2.0" fill="#fff" stroke="#1a1a1a" stroke-width="1.05"/>
<ellipse cx="701.3" cy="1501.9" rx="2.7" ry="2.0" fill="#fff" stroke="#1a1a1a" stroke-width="1.05"/>
<ellipse cx="709.0" cy="1494.2" rx="2.7" ry="2.0" fill="#fff" stroke="#1a1a1a" stroke-width="1.05"/>
<ellipse cx="715.5" cy="1496.8" rx="2.7" ry="2.0" fill="#fff" stroke="#1a1a1a" stroke-width="1.05"/>
<ellipse cx="714.2" cy="1508.4" rx="2.7" ry="2.0" fill="#fff" stroke="#1a1a1a" stroke-width="1.05"/>
<ellipse cx="701.3" cy="1514.8" rx="2.7" ry="2.0" fill="#fff" stroke="#1a1a1a" stroke-width="1.05"/>
<ellipse cx="709.0" cy="1517.4" rx="2.7" ry="2.0" fill="#fff" stroke="#1a1a1a" stroke-width="1.05"/>
<ellipse cx="716.8" cy="1516.1" rx="2.7" ry="2.0" fill="#fff" stroke="#1a1a1a" stroke-width="1.05"/>
<ellipse cx="657.4" cy="1522.6" rx="2.7" ry="2.0" fill="#fff" stroke="#1a1a1a" stroke-width="1.05"/>
<ellipse cx="666.5" cy="1520.0" rx="2.7" ry="2.0" fill="#fff" stroke="#1a1a1a" stroke-width="1.05"/>
<ellipse cx="672.9" cy="1522.6" rx="2.7" ry="2.0" fill="#fff" stroke="#1a1a1a" stroke-width="1.05"/>
<ellipse cx="666.5" cy="1526.5" rx="2.7" ry="2.0" fill="#fff" stroke="#1a1a1a" stroke-width="1.05"/>
<ellipse cx="658.7" cy="1534.2" rx="2.7" ry="2.0" fill="#fff" stroke="#1a1a1a" stroke-width="1.05"/>
<ellipse cx="666.5" cy="1532.9" rx="2.7" ry="2.0" fill="#fff" stroke="#1a1a1a" stroke-width="1.05"/>
<ellipse cx="674.2" cy="1530.3" rx="2.7" ry="2.0" fill="#fff" stroke="#1a1a1a" stroke-width="1.05"/>
<ellipse cx="684.5" cy="1538.1" rx="2.7" ry="2.0" fill="#fff" stroke="#1a1a1a" stroke-width="1.05"/>
<ellipse cx="691.0" cy="1541.9" rx="2.7" ry="2.0" fill="#fff" stroke="#1a1a1a" stroke-width="1.05"/>
<ellipse cx="700.0" cy="1539.4" rx="2.7" ry="2.0" fill="#fff" stroke="#1a1a1a" stroke-width="1.05"/>
<ellipse cx="707.7" cy="1544.5" rx="2.7" ry="2.0" fill="#fff" stroke="#1a1a1a" stroke-width="1.05"/>
<ellipse cx="714.2" cy="1549.7" rx="2.7" ry="2.0" fill="#fff" stroke="#1a1a1a" stroke-width="1.05"/>
<ellipse cx="723.2" cy="1547.1" rx="2.7" ry="2.0" fill="#fff" stroke="#1a1a1a" stroke-width="1.05"/>
<ellipse cx="729.7" cy="1496.8" rx="2.7" ry="2.0" fill="#fff" stroke="#1a1a1a" stroke-width="1.05"/>
<ellipse cx="732.3" cy="1532.9" rx="2.7" ry="2.0" fill="#fff" stroke="#1a1a1a" stroke-width="1.05"/>
<ellipse cx="721.9" cy="1525.2" rx="2.7" ry="2.0" fill="#fff" stroke="#1a1a1a" stroke-width="1.05"/>
<text x="832.6" y="1321.5" font-size="20" fill="#000" text-anchor="end" textLength="111.5" lengthAdjust="spacingAndGlyphs">Kriegsstellung/</text>
<text x="832.6" y="1342.9" font-size="20" fill="#000" text-anchor="end" textLength="90.7" lengthAdjust="spacingAndGlyphs">war position</text>
<text x="993.2" y="1265.0" font-size="20" fill="#000" text-anchor="start" textLength="137.0" lengthAdjust="spacingAndGlyphs">kurze Kletterstufe/</text>
<text x="993.2" y="1285.8" font-size="20" fill="#000" text-anchor="start" textLength="141.7" lengthAdjust="spacingAndGlyphs">short climbing step</text>
<text x="834.2" y="1440.5" font-size="20" fill="#000" text-anchor="start" textLength="94.5" lengthAdjust="spacingAndGlyphs">Leiter/ladder</text>
<text x="807.9" y="1492.6" font-size="20" fill="#000" text-anchor="start" textLength="108.7" lengthAdjust="spacingAndGlyphs">Rinne/channel</text>
<text x="912.6" y="1265.0" font-size="18.7" font-weight="bold" fill="#e3001b" text-anchor="start" textLength="15.8" lengthAdjust="spacingAndGlyphs">1-</text>
<text x="734.4" y="1395.0" font-size="18.7" font-weight="bold" fill="#e3001b" text-anchor="start" textLength="30.6" lengthAdjust="spacingAndGlyphs">A/B</text>
<text x="798.5" y="1436.0" font-size="18.7" font-weight="bold" fill="#e3001b" text-anchor="start" textLength="30.6" lengthAdjust="spacingAndGlyphs">A/B</text>
<text x="772.2" y="1476.0" font-size="18.7" font-weight="bold" fill="#e3001b" text-anchor="start" textLength="30.6" lengthAdjust="spacingAndGlyphs">A/B</text>
<path d="M748.1 1495.2 L748.1 1529.1 L766.7 1535.9 L749.8 1505.4Z" fill="url(#bt)"/>
<path d="M758.2 1496.9 L751.5 1527.4 L770.1 1534.2 L759.9 1507.1Z" fill="url(#bt)"/>
<path d="M780.2 1495.2 L787.0 1544.4 L805.6 1551.1 L781.9 1505.4Z" fill="url(#bt)"/>
<path d="M798.9 1503.7 L798.9 1547.7 L817.5 1554.5 L800.6 1513.9Z" fill="url(#bt)"/>
<path d="M815.8 1513.9 L809.0 1561.3 L827.7 1568.1 L817.5 1524.0Z" fill="url(#bt)"/>
<path d="M824.3 1507.1 L819.2 1568.1 L837.8 1574.8 L826.0 1517.3Z" fill="url(#bt)"/>
<path d="M836.1 1535.9 L829.4 1581.6 L848.0 1588.4 L837.8 1546.0Z" fill="url(#bt)"/>
<path d="M854.8 1513.9 L851.4 1586.7 L870.0 1593.5 L856.5 1524.0Z" fill="url(#bt)"/>
<path d="M870.0 1554.5 L868.3 1595.2 L886.9 1601.9 L871.7 1564.7Z" fill="url(#bt)"/>
<path d="M895.4 1544.4 L893.7 1598.5 L912.3 1605.3 L897.1 1554.5Z" fill="url(#bt)"/>
<path d="M915.7 1559.6 L907.3 1615.5 L925.9 1622.3 L917.4 1569.8Z" fill="url(#bt)"/>
<path d="M924.2 1591.8 L924.2 1613.8 L942.8 1620.6 L925.9 1601.9Z" fill="url(#bt)"/>
<path d="M941.1 1593.5 L936.0 1639.2 L954.7 1646.0 L942.8 1603.6Z" fill="url(#bt)"/>
<path d="M961.5 1595.2 L954.7 1640.9 L973.3 1647.7 L963.1 1605.3Z" fill="url(#bt)"/>
<path d="M978.4 1601.9 L978.4 1646.0 L997.0 1652.7 L980.1 1612.1Z" fill="url(#bt)"/>
<path d="M997.0 1617.2 L986.9 1656.1 L1005.5 1662.9 L998.7 1627.3Z" fill="url(#bt)"/>
<path d="M1010.6 1634.1 L1002.1 1669.7 L1020.7 1676.5 L1012.3 1644.3Z" fill="url(#bt)"/>
<path d="M1027.5 1632.4 L1024.1 1678.1 L1042.7 1684.9 L1029.2 1642.6Z" fill="url(#bt)"/>
<path d="M722.7 1505.4 L748.1 1495.2 L748.1 1529.1 L731.1 1519.0Z" fill="url(#gt)"/>
<path d="M736.2 1561.3 L737.9 1546.0 L761.6 1546.0 L780.2 1551.1 L792.1 1561.3 L805.6 1563.0 L817.5 1581.6 L814.1 1591.8 L775.2 1586.7 L758.2 1581.6 L737.9 1574.8Z" fill="url(#bt)"/>
<path d="M722.7 1505.4 L731.1 1519.0 L748.1 1529.1 L775.2 1539.3 L795.5 1547.7 L815.8 1571.5 L836.1 1581.6 L856.5 1588.4 L876.8 1596.9 L903.9 1600.2 L917.4 1615.5 L937.7 1632.4 L954.7 1642.6 L978.4 1646.0 L985.2 1656.1 L1005.5 1669.7 L1025.8 1676.5 L1042.7 1684.9 L1032.6 1686.6" fill="none" stroke="#111" stroke-width="2.0" stroke-linejoin="round" stroke-linecap="round"/>
<path d="M748.1 1495.2 L748.1 1529.1" fill="none" stroke="#111" stroke-width="2.0" stroke-linejoin="round" stroke-linecap="round"/>
<path d="M758.2 1496.9 L751.5 1527.4" fill="none" stroke="#111" stroke-width="2.0" stroke-linejoin="round" stroke-linecap="round"/>
<path d="M780.2 1495.2 L787.0 1544.4" fill="none" stroke="#111" stroke-width="2.0" stroke-linejoin="round" stroke-linecap="round"/>
<path d="M798.9 1503.7 L798.9 1547.7" fill="none" stroke="#111" stroke-width="2.0" stroke-linejoin="round" stroke-linecap="round"/>
<path d="M815.8 1513.9 L809.0 1561.3" fill="none" stroke="#111" stroke-width="2.0" stroke-linejoin="round" stroke-linecap="round"/>
<path d="M824.3 1507.1 L819.2 1568.1" fill="none" stroke="#111" stroke-width="2.0" stroke-linejoin="round" stroke-linecap="round"/>
<path d="M836.1 1535.9 L829.4 1581.6" fill="none" stroke="#111" stroke-width="2.0" stroke-linejoin="round" stroke-linecap="round"/>
<path d="M854.8 1513.9 L851.4 1586.7" fill="none" stroke="#111" stroke-width="2.0" stroke-linejoin="round" stroke-linecap="round"/>
<path d="M870.0 1554.5 L868.3 1595.2" fill="none" stroke="#111" stroke-width="2.0" stroke-linejoin="round" stroke-linecap="round"/>
<path d="M895.4 1544.4 L893.7 1598.5" fill="none" stroke="#111" stroke-width="2.0" stroke-linejoin="round" stroke-linecap="round"/>
<path d="M915.7 1559.6 L907.3 1615.5" fill="none" stroke="#111" stroke-width="2.0" stroke-linejoin="round" stroke-linecap="round"/>
<path d="M924.2 1591.8 L924.2 1613.8" fill="none" stroke="#111" stroke-width="2.0" stroke-linejoin="round" stroke-linecap="round"/>
<path d="M941.1 1593.5 L936.0 1639.2" fill="none" stroke="#111" stroke-width="2.0" stroke-linejoin="round" stroke-linecap="round"/>
<path d="M961.5 1595.2 L954.7 1640.9" fill="none" stroke="#111" stroke-width="2.0" stroke-linejoin="round" stroke-linecap="round"/>
<path d="M978.4 1601.9 L978.4 1646.0" fill="none" stroke="#111" stroke-width="2.0" stroke-linejoin="round" stroke-linecap="round"/>
<path d="M997.0 1617.2 L986.9 1656.1" fill="none" stroke="#111" stroke-width="2.0" stroke-linejoin="round" stroke-linecap="round"/>
<path d="M1010.6 1634.1 L1002.1 1669.7" fill="none" stroke="#111" stroke-width="2.0" stroke-linejoin="round" stroke-linecap="round"/>
<path d="M1027.5 1632.4 L1024.1 1678.1" fill="none" stroke="#111" stroke-width="2.0" stroke-linejoin="round" stroke-linecap="round"/>
<path d="M722.7 1505.4 L737.9 1493.5 L751.5 1490.2" fill="none" stroke="#111" stroke-width="2.0" stroke-linejoin="round" stroke-linecap="round"/>
<path d="M736.2 1561.3 L737.9 1546.0 L761.6 1546.0 L780.2 1551.1 L792.1 1561.3 L805.6 1563.0 L817.5 1581.6 L814.1 1591.8 L775.2 1586.7 L758.2 1581.6 L737.9 1574.8 L736.2 1561.3" fill="none" stroke="#111" stroke-width="2.0" stroke-linejoin="round" stroke-linecap="round"/>
<path d="M751.5 1557.9 L748.1 1578.2" fill="none" stroke="#111" stroke-width="2.0" stroke-linejoin="round" stroke-linecap="round"/>
<path d="M771.8 1568.1 L771.8 1585.0" fill="none" stroke="#111" stroke-width="2.0" stroke-linejoin="round" stroke-linecap="round"/>
<path d="M780.2 1551.1 L788.7 1581.6" fill="none" stroke="#111" stroke-width="2.0" stroke-linejoin="round" stroke-linecap="round"/>
<path d="M870.0 1585.0 L880.2 1576.5 L890.3 1578.2 L893.7 1591.8 L883.5 1598.5 L871.7 1595.2Z" fill="url(#dk)" stroke="#111" stroke-width="2"/>
<path d="M910.6 1612.1 L920.8 1603.6 L929.3 1608.7 L932.7 1618.9 L924.2 1625.6 L914.0 1624.0Z" fill="url(#dk)" stroke="#111" stroke-width="2"/>
<path d="M954.7 1635.8 L964.8 1625.6 L973.3 1629.0 L975.0 1642.6 L966.5 1647.7 L956.4 1646.0Z" fill="url(#dk)" stroke="#111" stroke-width="2"/>
<path d="M737.9 1547.7 L758.2 1549.4 L792.1 1561.3 L800.6 1569.8 L807.3 1583.3" fill="none" stroke="#b5121b" stroke-width="4.0" stroke-linejoin="round" stroke-linecap="butt"/>
<path d="M731.1 1542.7 L700.6 1530.8 L687.1 1520.6 L693.9 1507.1 L717.6 1493.5 L724.4 1485.1" fill="none" stroke="#f4b120" stroke-width="4.2" stroke-dasharray="4.2 3.8" stroke-linejoin="round"/>
<path d="M1059.7 1708.6 L1032.6 1690.0 L985.2 1673.1 L931.0 1656.1 L897.1 1661.2 L919.1 1651.0 L893.7 1639.2 L844.6 1627.3 L876.8 1608.7 L842.9 1596.9 L829.4 1591.8" fill="none" stroke="#f4b120" stroke-width="4.2" stroke-dasharray="4.2 3.8" stroke-linejoin="round"/>
<path d="M818.5 1590.1 L841.2 1580.6 L835.5 1602.6Z" fill="#f4b120"/>
<ellipse cx="666.8" cy="1513.9" rx="2.7" ry="2.0" fill="#fff" stroke="#1a1a1a" stroke-width="1.05"/>
<ellipse cx="680.3" cy="1517.3" rx="2.7" ry="2.0" fill="#fff" stroke="#1a1a1a" stroke-width="1.05"/>
<ellipse cx="704.0" cy="1524.0" rx="2.7" ry="2.0" fill="#fff" stroke="#1a1a1a" stroke-width="1.05"/>
<ellipse cx="710.8" cy="1530.8" rx="2.7" ry="2.0" fill="#fff" stroke="#1a1a1a" stroke-width="1.05"/>
<ellipse cx="798.9" cy="1595.2" rx="2.7" ry="2.0" fill="#fff" stroke="#1a1a1a" stroke-width="1.05"/>
<ellipse cx="810.7" cy="1603.6" rx="2.7" ry="2.0" fill="#fff" stroke="#1a1a1a" stroke-width="1.05"/>
<ellipse cx="819.2" cy="1608.7" rx="2.7" ry="2.0" fill="#fff" stroke="#1a1a1a" stroke-width="1.05"/>
<ellipse cx="827.7" cy="1605.3" rx="2.7" ry="2.0" fill="#fff" stroke="#1a1a1a" stroke-width="1.05"/>
<ellipse cx="819.2" cy="1617.2" rx="2.7" ry="2.0" fill="#fff" stroke="#1a1a1a" stroke-width="1.05"/>
<ellipse cx="829.4" cy="1618.9" rx="2.7" ry="2.0" fill="#fff" stroke="#1a1a1a" stroke-width="1.05"/>
<ellipse cx="839.5" cy="1612.1" rx="2.7" ry="2.0" fill="#fff" stroke="#1a1a1a" stroke-width="1.05"/>
<ellipse cx="844.6" cy="1607.0" rx="2.7" ry="2.0" fill="#fff" stroke="#1a1a1a" stroke-width="1.05"/>
<ellipse cx="836.1" cy="1625.6" rx="2.7" ry="2.0" fill="#fff" stroke="#1a1a1a" stroke-width="1.05"/>
<ellipse cx="824.3" cy="1629.0" rx="2.7" ry="2.0" fill="#fff" stroke="#1a1a1a" stroke-width="1.05"/>
<ellipse cx="834.4" cy="1635.8" rx="2.7" ry="2.0" fill="#fff" stroke="#1a1a1a" stroke-width="1.05"/>
<ellipse cx="844.6" cy="1639.2" rx="2.7" ry="2.0" fill="#fff" stroke="#1a1a1a" stroke-width="1.05"/>
<ellipse cx="853.1" cy="1642.6" rx="2.7" ry="2.0" fill="#fff" stroke="#1a1a1a" stroke-width="1.05"/>
<ellipse cx="856.5" cy="1649.4" rx="2.7" ry="2.0" fill="#fff" stroke="#1a1a1a" stroke-width="1.05"/>
<ellipse cx="863.2" cy="1652.7" rx="2.7" ry="2.0" fill="#fff" stroke="#1a1a1a" stroke-width="1.05"/>
<ellipse cx="866.6" cy="1615.5" rx="2.7" ry="2.0" fill="#fff" stroke="#1a1a1a" stroke-width="1.05"/>
<ellipse cx="873.4" cy="1625.6" rx="2.7" ry="2.0" fill="#fff" stroke="#1a1a1a" stroke-width="1.05"/>
<ellipse cx="885.2" cy="1615.5" rx="2.7" ry="2.0" fill="#fff" stroke="#1a1a1a" stroke-width="1.05"/>
<ellipse cx="880.2" cy="1632.4" rx="2.7" ry="2.0" fill="#fff" stroke="#1a1a1a" stroke-width="1.05"/>
<ellipse cx="890.3" cy="1629.0" rx="2.7" ry="2.0" fill="#fff" stroke="#1a1a1a" stroke-width="1.05"/>
<ellipse cx="898.8" cy="1622.3" rx="2.7" ry="2.0" fill="#fff" stroke="#1a1a1a" stroke-width="1.05"/>
<ellipse cx="893.7" cy="1639.2" rx="2.7" ry="2.0" fill="#fff" stroke="#1a1a1a" stroke-width="1.05"/>
<ellipse cx="909.0" cy="1635.8" rx="2.7" ry="2.0" fill="#fff" stroke="#1a1a1a" stroke-width="1.05"/>
<ellipse cx="883.5" cy="1649.4" rx="2.7" ry="2.0" fill="#fff" stroke="#1a1a1a" stroke-width="1.05"/>
<ellipse cx="897.1" cy="1651.0" rx="2.7" ry="2.0" fill="#fff" stroke="#1a1a1a" stroke-width="1.05"/>
<ellipse cx="910.6" cy="1644.3" rx="2.7" ry="2.0" fill="#fff" stroke="#1a1a1a" stroke-width="1.05"/>
<ellipse cx="890.3" cy="1662.9" rx="2.7" ry="2.0" fill="#fff" stroke="#1a1a1a" stroke-width="1.05"/>
<ellipse cx="900.5" cy="1669.7" rx="2.7" ry="2.0" fill="#fff" stroke="#1a1a1a" stroke-width="1.05"/>
<ellipse cx="914.0" cy="1666.3" rx="2.7" ry="2.0" fill="#fff" stroke="#1a1a1a" stroke-width="1.05"/>
<ellipse cx="897.1" cy="1676.5" rx="2.7" ry="2.0" fill="#fff" stroke="#1a1a1a" stroke-width="1.05"/>
<ellipse cx="910.6" cy="1674.8" rx="2.7" ry="2.0" fill="#fff" stroke="#1a1a1a" stroke-width="1.05"/>
<ellipse cx="931.0" cy="1679.8" rx="2.7" ry="2.0" fill="#fff" stroke="#1a1a1a" stroke-width="1.05"/>
<ellipse cx="944.5" cy="1676.5" rx="2.7" ry="2.0" fill="#fff" stroke="#1a1a1a" stroke-width="1.05"/>
<ellipse cx="941.1" cy="1656.1" rx="2.7" ry="2.0" fill="#fff" stroke="#1a1a1a" stroke-width="1.05"/>
<ellipse cx="951.3" cy="1652.7" rx="2.7" ry="2.0" fill="#fff" stroke="#1a1a1a" stroke-width="1.05"/>
<ellipse cx="931.0" cy="1649.4" rx="2.7" ry="2.0" fill="#fff" stroke="#1a1a1a" stroke-width="1.05"/>
<ellipse cx="927.6" cy="1662.9" rx="2.7" ry="2.0" fill="#fff" stroke="#1a1a1a" stroke-width="1.05"/>
<ellipse cx="954.7" cy="1662.9" rx="2.7" ry="2.0" fill="#fff" stroke="#1a1a1a" stroke-width="1.05"/>
<ellipse cx="964.8" cy="1669.7" rx="2.7" ry="2.0" fill="#fff" stroke="#1a1a1a" stroke-width="1.05"/>
<ellipse cx="975.0" cy="1659.5" rx="2.7" ry="2.0" fill="#fff" stroke="#1a1a1a" stroke-width="1.05"/>
<ellipse cx="961.5" cy="1656.1" rx="2.7" ry="2.0" fill="#fff" stroke="#1a1a1a" stroke-width="1.05"/>
<ellipse cx="966.5" cy="1683.2" rx="2.7" ry="2.0" fill="#fff" stroke="#1a1a1a" stroke-width="1.05"/>
<ellipse cx="981.8" cy="1681.5" rx="2.7" ry="2.0" fill="#fff" stroke="#1a1a1a" stroke-width="1.05"/>
<ellipse cx="1002.1" cy="1696.8" rx="2.7" ry="2.0" fill="#fff" stroke="#1a1a1a" stroke-width="1.05"/>
<ellipse cx="1015.6" cy="1700.2" rx="2.7" ry="2.0" fill="#fff" stroke="#1a1a1a" stroke-width="1.05"/>
<ellipse cx="1008.9" cy="1669.7" rx="2.7" ry="2.0" fill="#fff" stroke="#1a1a1a" stroke-width="1.05"/>
<ellipse cx="1019.0" cy="1662.9" rx="2.7" ry="2.0" fill="#fff" stroke="#1a1a1a" stroke-width="1.05"/>
<ellipse cx="1032.6" cy="1669.7" rx="2.7" ry="2.0" fill="#fff" stroke="#1a1a1a" stroke-width="1.05"/>
<ellipse cx="991.9" cy="1669.7" rx="2.7" ry="2.0" fill="#fff" stroke="#1a1a1a" stroke-width="1.05"/>
<ellipse cx="978.4" cy="1666.3" rx="2.7" ry="2.0" fill="#fff" stroke="#1a1a1a" stroke-width="1.05"/>
<ellipse cx="985.2" cy="1656.1" rx="2.7" ry="2.0" fill="#fff" stroke="#1a1a1a" stroke-width="1.05"/>
<text x="948.3" y="1562.2" font-size="20" fill="#000" text-anchor="start" textLength="130.4" lengthAdjust="spacingAndGlyphs">Kriegsstellungen/</text>
<text x="948.3" y="1583.0" font-size="20" fill="#000" text-anchor="start" textLength="99.2" lengthAdjust="spacingAndGlyphs">war positions</text>
<text x="817.7" y="1701.0" font-size="20" fill="#000" text-anchor="start" textLength="65.2" lengthAdjust="spacingAndGlyphs">Zustieg /</text>
<text x="834.0" y="1721.8" font-size="20" fill="#000" text-anchor="start" textLength="50.1" lengthAdjust="spacingAndGlyphs">ascent</text>
<text x="753.0" y="1610.5" font-size="20" fill="#000" text-anchor="end" textLength="55.8" lengthAdjust="spacingAndGlyphs">gestuft/</text>
<text x="753.0" y="1629.7" font-size="20" fill="#000" text-anchor="end" textLength="69.0" lengthAdjust="spacingAndGlyphs">scramble</text>
<text x="692.7" y="1570.5" font-size="18.7" font-weight="bold" fill="#e3001b" text-anchor="start" textLength="30.6" lengthAdjust="spacingAndGlyphs">A/B</text>
<text x="784.8" y="1585.8" font-size="18.7" font-weight="bold" fill="#e3001b" text-anchor="start" textLength="12.8" lengthAdjust="spacingAndGlyphs">A</text>
<path d="M1063.5 914 L1078.5 970 L1048.5 970Z" fill="#e2001a" stroke="#000" stroke-width="1.3"/>
<path d="M985 998 L1033.5 986 L1033.5 1012Z" fill="#e2001a" stroke="#000" stroke-width="1.3"/>
<path d="M1141 998 L1093.5 986 L1093.5 1010Z" fill="#fff" stroke="#bbb" stroke-width="1.9"/>
<path d="M1063.5 1076 L1075.5 1028 L1051.5 1028Z" fill="#fff" stroke="#bbb" stroke-width="1.9"/>
<circle cx="1063.5" cy="998" r="33.5" fill="#e2001a" stroke="#000" stroke-width="2.2"/>
<text x="1064.0" y="988.6" font-size="14.5" font-weight="bold" fill="#000" text-anchor="middle" textLength="51.0" lengthAdjust="spacingAndGlyphs">Expos.</text>
<text x="1063.5" y="1011.5" font-size="24" font-weight="bold" fill="#fff" text-anchor="middle">NW</text>
<path d="M99.9 813.3 L95.0 801.9 L91.5 802.5 L91.6 814.7Z" fill="#e84e1b"/><path d="M96.6 814.9 L93.4 803.2 L91.5 803.5 L91.6 815.7Z" fill="#f5d21a"/><path d="M118.2 816.8 L120.9 804.7 L117.5 803.5 L110.3 813.9Z" fill="#e84e1b"/><path d="M115.0 816.6 L119.4 805.2 L117.5 804.5 L110.3 814.9Z" fill="#f5d21a"/><path d="M132.2 827.3 L141.8 817.8 L139.5 815.0 L126.8 820.9Z" fill="#e84e1b"/><path d="M130.0 825.7 L140.7 817.5 L139.5 816.0 L126.8 821.9Z" fill="#f5d21a"/><path d="M137.9 841.0 L151.7 836.2 L150.9 832.6 L136.2 832.8Z" fill="#e84e1b"/><path d="M137.2 838.7 L151.3 835.6 L150.9 833.6 L136.2 833.8Z" fill="#f5d21a"/><path d="M135.5 854.7 L150.2 855.5 L151.1 852.0 L137.7 846.6Z" fill="#e84e1b"/><path d="M136.4 852.4 L150.6 854.9 L151.1 853.0 L137.7 847.6Z" fill="#f5d21a"/><path d="M126.8 865.1 L139.5 871.0 L141.8 868.2 L132.2 858.7Z" fill="#e84e1b"/><path d="M128.9 863.6 L140.5 870.7 L141.8 869.2 L132.2 859.7Z" fill="#f5d21a"/><path d="M113.3 871.5 L121.7 881.3 L124.9 879.8 L121.0 867.9Z" fill="#e84e1b"/><path d="M116.4 871.0 L123.1 881.6 L124.9 880.8 L121.0 868.9Z" fill="#f5d21a"/><path d="M96.6 872.3 L98.4 884.3 L102.0 884.4 L104.9 872.6Z" fill="#e84e1b"/><path d="M99.9 873.4 L100.1 885.4 L102.0 885.4 L104.9 873.6Z" fill="#f5d21a"/><path d="M80.4 866.4 L75.2 878.0 L78.4 879.8 L87.7 870.6Z" fill="#e84e1b"/><path d="M83.4 869.1 L76.6 879.8 L78.4 880.8 L87.7 871.6Z" fill="#f5d21a"/><path d="M70.2 856.4 L59.7 865.3 L61.7 868.2 L75.1 863.3Z" fill="#e84e1b"/><path d="M72.2 860.2 L60.6 867.6 L61.7 869.2 L75.1 864.3Z" fill="#f5d21a"/><path d="M66.0 844.0 L52.1 848.4 L52.7 852.0 L67.4 852.2Z" fill="#e84e1b"/><path d="M66.6 848.3 L52.3 851.0 L52.7 853.0 L67.4 853.2Z" fill="#f5d21a"/><path d="M68.5 831.3 L53.8 830.5 L52.9 834.0 L66.3 839.4Z" fill="#e84e1b"/><path d="M67.6 835.6 L53.4 833.1 L52.9 835.0 L66.3 840.4Z" fill="#f5d21a"/><path d="M77.2 820.9 L64.5 815.0 L62.2 817.8 L71.8 827.3Z" fill="#e84e1b"/><path d="M75.1 824.4 L63.5 817.3 L62.2 818.8 L71.8 828.3Z" fill="#f5d21a"/><path d="M90.7 814.5 L82.3 804.7 L79.1 806.2 L83.0 818.1Z" fill="#e84e1b"/><path d="M87.6 817.0 L80.9 806.4 L79.1 807.2 L83.0 819.1Z" fill="#f5d21a"/>
<path d="M76 840 C76 826 90 818 104 819 C120 819 131 829 130 843 C130 858 118 867 102 867 C86 867 76 856 76 840Z" fill="#e84e1b"/>
<path d="M82 840 C82 830 92 824 104 825 C116 825 124 832 124 842 C124 853 115 860 103 860 C90 860 82 851 82 840Z" fill="#ecd51d"/>
<ellipse cx="93" cy="836" rx="2.3" ry="3" fill="#e84e1b"/><ellipse cx="110" cy="834" rx="2.3" ry="3" fill="#e84e1b"/>
<path d="M88 849 Q103 855 119 846" stroke="#e84e1b" stroke-width="3" fill="none" stroke-linecap="round"/>
<text x="65" y="916" font-size="26" fill="#e2001a" stroke="#e2001a" stroke-width="0.6">©</text>
<text x="102.4" y="915.0" font-size="24.5" font-weight="bold" fill="#e3001b" text-anchor="start" textLength="276.0" lengthAdjust="spacingAndGlyphs">www.bergsteigen.com</text>
<path d="M102.7 1261 L140.5 1334 L63 1334Z" fill="#ffe500" stroke="#000" stroke-width="5.5" stroke-linejoin="miter"/>
<path d="M98.5 1282 H106.5 L105 1317 H100Z" fill="#000"/><rect x="98.5" y="1321" width="8" height="7" fill="#000"/>
<text x="158.2" y="1278.3" font-size="16" font-weight="bold" fill="#000" textLength="206.4" lengthAdjust="spacingAndGlyphs">Für den steilen Abstieg ist</text>
<text x="158.2" y="1298.2" font-size="16" font-weight="bold" fill="#000" textLength="232.8" lengthAdjust="spacingAndGlyphs">absolute Trittsicherheit nötig!</text>
<text x="158.2" y="1316.6" font-size="16" font-weight="bold" fill="#000" textLength="222.7" lengthAdjust="spacingAndGlyphs">Absolute sure-footedness is</text>
<text x="158.2" y="1336.5" font-size="16" font-weight="bold" fill="#000" textLength="257.7" lengthAdjust="spacingAndGlyphs">necessary for the steep descent!</text>
<text x="298.5" y="643.8" font-size="20" font-weight="bold" textLength="326" lengthAdjust="spacingAndGlyphs"><tspan fill="#b71c2c">Buchtipp:</tspan> Klettersteigführer Dolomiten -</text>
<text x="298.5" y="668.6" font-size="20" font-weight="bold" textLength="324" lengthAdjust="spacingAndGlyphs">Südtirol - Gardasee. Mit Topo-Skizzen u.</text>
<text x="298.5" y="692.6" font-size="20" font-weight="bold" textLength="321" lengthAdjust="spacingAndGlyphs">TourenApp Zugang! www.alpinverlag.at</text>
</svg>
</body></html>
